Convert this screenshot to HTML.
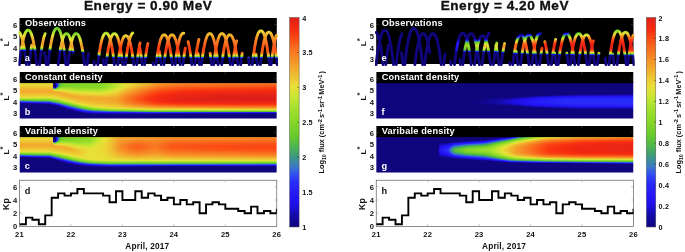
<!DOCTYPE html>
<html><head><meta charset="utf-8"><title>figure</title>
<style>html,body{margin:0;padding:0;background:#fff;}svg{display:block;}</style>
</head><body>
<svg width="685" height="252" viewBox="0 0 685 252"><defs><clipPath id="cpa0"><rect x="19.50" y="18.00" width="257.30" height="46.00"/></clipPath>
<clipPath id="cpb0"><rect x="19.50" y="72.00" width="257.30" height="46.40"/></clipPath>
<clipPath id="cpc0"><rect x="19.50" y="126.00" width="257.30" height="46.40"/></clipPath>
<clipPath id="cpd0"><rect x="19.50" y="180.20" width="257.30" height="46.20"/></clipPath>
<linearGradient id="g1"><stop offset="0" stop-color="#72ce2b"/><stop offset="0.0576" stop-color="#64c82d"/><stop offset="0.1537" stop-color="#4db64d"/><stop offset="0.1614" stop-color="#3f9d77"/><stop offset="0.1729" stop-color="#3b73cd"/><stop offset="0.1767" stop-color="#355be5"/><stop offset="0.1806" stop-color="#2f45f3"/><stop offset="0.2497" stop-color="#3048f2"/><stop offset="0.2536" stop-color="#324ef0"/><stop offset="0.2728" stop-color="#3c79c6"/><stop offset="0.2881" stop-color="#3c8b9c"/><stop offset="0.3035" stop-color="#3d9780"/><stop offset="0.3265" stop-color="#46aa61"/><stop offset="0.3842" stop-color="#55bc42"/><stop offset="0.4072" stop-color="#66c92d"/><stop offset="0.4226" stop-color="#71cd2b"/><stop offset="0.5186" stop-color="#93db2a"/><stop offset="0.6531" stop-color="#aee22e"/><stop offset="1" stop-color="#bee531"/></linearGradient>
<linearGradient id="g2"><stop offset="0" stop-color="#80d429"/><stop offset="0.1229" stop-color="#64c82d"/><stop offset="0.1537" stop-color="#5ec336"/><stop offset="0.1614" stop-color="#4ab253"/><stop offset="0.169" stop-color="#3e997c"/><stop offset="0.1806" stop-color="#3a71cf"/><stop offset="0.2497" stop-color="#3b72ce"/><stop offset="0.2804" stop-color="#3d9780"/><stop offset="0.3112" stop-color="#4ab352"/><stop offset="0.3265" stop-color="#54bb43"/><stop offset="0.3765" stop-color="#64c82d"/><stop offset="0.4456" stop-color="#87d728"/><stop offset="0.6531" stop-color="#bde430"/><stop offset="1" stop-color="#cbe632"/></linearGradient>
<linearGradient id="g3"><stop offset="0" stop-color="#8cd929"/><stop offset="0.1537" stop-color="#6dcc2c"/><stop offset="0.1575" stop-color="#64c82d"/><stop offset="0.169" stop-color="#49af58"/><stop offset="0.1767" stop-color="#3d987e"/><stop offset="0.1806" stop-color="#3c8d98"/><stop offset="0.2305" stop-color="#3c8c9a"/><stop offset="0.2497" stop-color="#3c8c99"/><stop offset="0.2612" stop-color="#3d987e"/><stop offset="0.2881" stop-color="#4cb44f"/><stop offset="0.3265" stop-color="#66c92d"/><stop offset="0.3842" stop-color="#76d02a"/><stop offset="0.4226" stop-color="#8dd929"/><stop offset="0.6531" stop-color="#cce533"/><stop offset="1" stop-color="#d6e434"/></linearGradient>
<linearGradient id="g4"><stop offset="0" stop-color="#97dc2b"/><stop offset="0.1537" stop-color="#7cd22a"/><stop offset="0.1652" stop-color="#62c72f"/><stop offset="0.1729" stop-color="#50b849"/><stop offset="0.1806" stop-color="#43a46a"/><stop offset="0.2497" stop-color="#42a36d"/><stop offset="0.2689" stop-color="#4cb54e"/><stop offset="0.2997" stop-color="#64c82d"/><stop offset="0.3265" stop-color="#76d02a"/><stop offset="0.3842" stop-color="#85d628"/><stop offset="0.5186" stop-color="#bbe430"/><stop offset="0.6531" stop-color="#dae335"/><stop offset="1" stop-color="#e2e236"/></linearGradient>
<linearGradient id="g5"><stop offset="0" stop-color="#a1e02c"/><stop offset="0.1537" stop-color="#8ad828"/><stop offset="0.1729" stop-color="#62c730"/><stop offset="0.1806" stop-color="#51b948"/><stop offset="0.2497" stop-color="#4fb74b"/><stop offset="0.2766" stop-color="#64c82d"/><stop offset="0.3265" stop-color="#86d728"/><stop offset="0.3842" stop-color="#92db2a"/><stop offset="0.5186" stop-color="#cce533"/><stop offset="0.6531" stop-color="#e8e137"/><stop offset="1" stop-color="#e9dc36"/></linearGradient>
<linearGradient id="g6"><stop offset="0" stop-color="#b0e32f"/><stop offset="0.1537" stop-color="#95dc2a"/><stop offset="0.1806" stop-color="#64c82e"/><stop offset="0.2497" stop-color="#61c531"/><stop offset="0.3035" stop-color="#86d628"/><stop offset="0.3265" stop-color="#93db2a"/><stop offset="0.3842" stop-color="#9fdf2c"/><stop offset="0.4226" stop-color="#b8e430"/><stop offset="0.5186" stop-color="#dbe335"/><stop offset="0.5839" stop-color="#e8e137"/><stop offset="0.6531" stop-color="#ead535"/><stop offset="1" stop-color="#ebd234"/></linearGradient>
<linearGradient id="g7"><stop offset="0" stop-color="#c2e531"/><stop offset="0.1345" stop-color="#a9e22e"/><stop offset="0.1537" stop-color="#a1e02c"/><stop offset="0.1806" stop-color="#74cf2b"/><stop offset="0.2305" stop-color="#70cd2b"/><stop offset="0.2497" stop-color="#71ce2b"/><stop offset="0.3265" stop-color="#a0df2c"/><stop offset="0.3842" stop-color="#b0e32f"/><stop offset="0.4149" stop-color="#c6e632"/><stop offset="0.5109" stop-color="#e8e137"/><stop offset="0.6531" stop-color="#edc933"/><stop offset="0.7683" stop-color="#eccd34"/><stop offset="1" stop-color="#edc833"/></linearGradient>
<linearGradient id="g8"><stop offset="0" stop-color="#d1e533"/><stop offset="0.1345" stop-color="#bde430"/><stop offset="0.1537" stop-color="#b0e32f"/><stop offset="0.1806" stop-color="#85d628"/><stop offset="0.2305" stop-color="#80d429"/><stop offset="0.2497" stop-color="#81d429"/><stop offset="0.2881" stop-color="#96dc2a"/><stop offset="0.3265" stop-color="#b3e32f"/><stop offset="0.3842" stop-color="#c5e632"/><stop offset="0.4226" stop-color="#dce335"/><stop offset="0.461" stop-color="#e8e137"/><stop offset="0.5186" stop-color="#ebd134"/><stop offset="0.6531" stop-color="#efbd31"/><stop offset="0.7683" stop-color="#eec232"/><stop offset="1" stop-color="#efbe31"/></linearGradient>
<linearGradient id="g9"><stop offset="0" stop-color="#dfe236"/><stop offset="0.1345" stop-color="#cfe533"/><stop offset="0.1537" stop-color="#c3e531"/><stop offset="0.1652" stop-color="#a9e22e"/><stop offset="0.1806" stop-color="#93db2a"/><stop offset="0.2305" stop-color="#8ed929"/><stop offset="0.2497" stop-color="#8fda29"/><stop offset="0.2881" stop-color="#a1e02c"/><stop offset="0.3265" stop-color="#c8e632"/><stop offset="0.3842" stop-color="#d8e335"/><stop offset="0.4149" stop-color="#e8e037"/><stop offset="0.5186" stop-color="#eec432"/><stop offset="0.6531" stop-color="#f1b22e"/><stop offset="0.7683" stop-color="#f0b830"/><stop offset="1" stop-color="#f0b42f"/></linearGradient>
<linearGradient id="g10"><stop offset="0" stop-color="#e9dc36"/><stop offset="0.1345" stop-color="#e0e236"/><stop offset="0.1537" stop-color="#d3e434"/><stop offset="0.1806" stop-color="#a0df2c"/><stop offset="0.2305" stop-color="#9add2b"/><stop offset="0.2497" stop-color="#9cde2b"/><stop offset="0.2728" stop-color="#a7e12d"/><stop offset="0.3265" stop-color="#dce335"/><stop offset="0.3765" stop-color="#e8e137"/><stop offset="0.4226" stop-color="#eccc34"/><stop offset="0.5186" stop-color="#f0b72f"/><stop offset="0.6531" stop-color="#f2a72c"/><stop offset="0.7683" stop-color="#f1af2e"/><stop offset="1" stop-color="#f2ab2d"/></linearGradient>
<linearGradient id="g11"><stop offset="0" stop-color="#ebd034"/><stop offset="0.1345" stop-color="#e9da36"/><stop offset="0.146" stop-color="#e7e137"/><stop offset="0.1537" stop-color="#e3e236"/><stop offset="0.1806" stop-color="#b1e32f"/><stop offset="0.2305" stop-color="#a7e12d"/><stop offset="0.2497" stop-color="#aae22e"/><stop offset="0.292" stop-color="#cae632"/><stop offset="0.3265" stop-color="#e9db36"/><stop offset="0.3842" stop-color="#ecce34"/><stop offset="0.4226" stop-color="#efbe31"/><stop offset="0.5186" stop-color="#f2aa2c"/><stop offset="0.6531" stop-color="#f49c29"/><stop offset="0.7683" stop-color="#f3a52b"/><stop offset="1" stop-color="#f3a22b"/></linearGradient>
<linearGradient id="g12"><stop offset="0" stop-color="#eec532"/><stop offset="0.1345" stop-color="#eccd34"/><stop offset="0.1537" stop-color="#ead936"/><stop offset="0.1614" stop-color="#e6e137"/><stop offset="0.1806" stop-color="#c6e632"/><stop offset="0.2305" stop-color="#bbe430"/><stop offset="0.2497" stop-color="#bfe531"/><stop offset="0.2881" stop-color="#d7e434"/><stop offset="0.3035" stop-color="#e8e137"/><stop offset="0.3265" stop-color="#eccb33"/><stop offset="0.3842" stop-color="#efbe31"/><stop offset="0.4226" stop-color="#f1af2e"/><stop offset="0.5186" stop-color="#f49e2a"/><stop offset="0.6531" stop-color="#f69127"/><stop offset="0.7683" stop-color="#f49c29"/><stop offset="1" stop-color="#f49a29"/></linearGradient>
<linearGradient id="g13"><stop offset="0" stop-color="#efbb30"/><stop offset="0.1345" stop-color="#eec031"/><stop offset="0.1537" stop-color="#eccc34"/><stop offset="0.1729" stop-color="#e4e236"/><stop offset="0.1806" stop-color="#d9e335"/><stop offset="0.2305" stop-color="#cee533"/><stop offset="0.2497" stop-color="#d2e434"/><stop offset="0.2881" stop-color="#e8e137"/><stop offset="0.3265" stop-color="#efba30"/><stop offset="0.4226" stop-color="#f3a12a"/><stop offset="0.5186" stop-color="#f59227"/><stop offset="0.6531" stop-color="#f78725"/><stop offset="0.7683" stop-color="#f59427"/><stop offset="1" stop-color="#f69127"/></linearGradient>
<linearGradient id="g14"><stop offset="0" stop-color="#f1b22e"/><stop offset="0.1345" stop-color="#f0b52f"/><stop offset="0.1537" stop-color="#eec131"/><stop offset="0.1806" stop-color="#e8e037"/><stop offset="0.2305" stop-color="#dfe236"/><stop offset="0.2497" stop-color="#e3e236"/><stop offset="0.2881" stop-color="#ebd335"/><stop offset="0.3265" stop-color="#f2ab2d"/><stop offset="0.4226" stop-color="#f59428"/><stop offset="0.5186" stop-color="#f78725"/><stop offset="0.6531" stop-color="#f87e23"/><stop offset="0.7683" stop-color="#f68b26"/><stop offset="1" stop-color="#f68925"/></linearGradient>
<linearGradient id="g15"><stop offset="0" stop-color="#f2aa2d"/><stop offset="0.1345" stop-color="#f2ac2d"/><stop offset="0.1537" stop-color="#f0b62f"/><stop offset="0.1806" stop-color="#ebd134"/><stop offset="0.2305" stop-color="#e9db36"/><stop offset="0.2881" stop-color="#eec532"/><stop offset="0.3265" stop-color="#f49c29"/><stop offset="0.4226" stop-color="#f78725"/><stop offset="0.6531" stop-color="#f97521"/><stop offset="0.7683" stop-color="#f78324"/><stop offset="1" stop-color="#f78223"/></linearGradient>
<linearGradient id="g16"><stop offset="0" stop-color="#f3a52b"/><stop offset="0.1345" stop-color="#f3a52b"/><stop offset="0.1575" stop-color="#f1b02e"/><stop offset="0.1806" stop-color="#eec332"/><stop offset="0.2305" stop-color="#ecce34"/><stop offset="0.2881" stop-color="#f0b72f"/><stop offset="0.3265" stop-color="#f68e26"/><stop offset="0.4226" stop-color="#f87b22"/><stop offset="0.6531" stop-color="#fa6c1f"/><stop offset="0.7683" stop-color="#f87c22"/><stop offset="1" stop-color="#f87a22"/></linearGradient>
<linearGradient id="g17"><stop offset="0" stop-color="#f3a32b"/><stop offset="0.1421" stop-color="#f3a32b"/><stop offset="0.1806" stop-color="#f0b72f"/><stop offset="0.2305" stop-color="#eec132"/><stop offset="0.2881" stop-color="#f2ab2d"/><stop offset="0.3265" stop-color="#f78123"/><stop offset="0.4226" stop-color="#f97020"/><stop offset="0.6531" stop-color="#fa631c"/><stop offset="0.7683" stop-color="#f97521"/><stop offset="1" stop-color="#f97420"/></linearGradient>
<linearGradient id="g18"><stop offset="0" stop-color="#f3a42b"/><stop offset="0.1575" stop-color="#f3a32b"/><stop offset="0.2305" stop-color="#f0b62f"/><stop offset="0.2881" stop-color="#f3a02a"/><stop offset="0.3265" stop-color="#f97521"/><stop offset="0.4226" stop-color="#fa651c"/><stop offset="0.5186" stop-color="#fa5e1a"/><stop offset="0.6531" stop-color="#fa5a18"/><stop offset="0.7683" stop-color="#f96e1f"/><stop offset="1" stop-color="#fa6d1f"/></linearGradient>
<linearGradient id="g19"><stop offset="0" stop-color="#f2a62c"/><stop offset="0.1729" stop-color="#f3a32b"/><stop offset="0.2305" stop-color="#f2ac2d"/><stop offset="0.2881" stop-color="#f59628"/><stop offset="0.3265" stop-color="#fa6a1e"/><stop offset="0.4226" stop-color="#fa5918"/><stop offset="0.6531" stop-color="#fa5215"/><stop offset="0.7683" stop-color="#fa681e"/><stop offset="1" stop-color="#fa671d"/></linearGradient>
<linearGradient id="g20"><stop offset="0" stop-color="#f1af2e"/><stop offset="0.1345" stop-color="#f1af2e"/><stop offset="0.169" stop-color="#f3a42b"/><stop offset="0.2305" stop-color="#f3a52b"/><stop offset="0.2881" stop-color="#f68d26"/><stop offset="0.3265" stop-color="#fa5e1a"/><stop offset="0.4226" stop-color="#fa4f14"/><stop offset="0.6531" stop-color="#fa4a13"/><stop offset="0.7683" stop-color="#fa621b"/><stop offset="1" stop-color="#fa611b"/></linearGradient>
<linearGradient id="g21"><stop offset="0" stop-color="#eec432"/><stop offset="0.1345" stop-color="#eec432"/><stop offset="0.1729" stop-color="#f2a72c"/><stop offset="0.2305" stop-color="#f3a32b"/><stop offset="0.2881" stop-color="#f78725"/><stop offset="0.3265" stop-color="#fa5416"/><stop offset="0.4226" stop-color="#f94613"/><stop offset="0.6531" stop-color="#f94413"/><stop offset="0.7683" stop-color="#fa5c19"/><stop offset="1" stop-color="#fa5c19"/></linearGradient>
<linearGradient id="g22"><stop offset="0" stop-color="#dce335"/><stop offset="0.1345" stop-color="#dce335"/><stop offset="0.1383" stop-color="#e2e236"/><stop offset="0.1421" stop-color="#e8e037"/><stop offset="0.1806" stop-color="#f1af2d"/><stop offset="0.2305" stop-color="#f3a52b"/><stop offset="0.2881" stop-color="#f78424"/><stop offset="0.3265" stop-color="#fa4d14"/><stop offset="0.4226" stop-color="#f94012"/><stop offset="0.6531" stop-color="#f93f12"/><stop offset="0.7683" stop-color="#fa5817"/><stop offset="1" stop-color="#fa5817"/></linearGradient>
<linearGradient id="g23"><stop offset="0" stop-color="#97dc2b"/><stop offset="0.1345" stop-color="#97dc2b"/><stop offset="0.146" stop-color="#abe22e"/><stop offset="0.1575" stop-color="#c9e632"/><stop offset="0.169" stop-color="#e3e236"/><stop offset="0.1844" stop-color="#eccc34"/><stop offset="0.2881" stop-color="#f78424"/><stop offset="0.3265" stop-color="#fa4a13"/><stop offset="0.4226" stop-color="#f93e12"/><stop offset="0.6531" stop-color="#f93e12"/><stop offset="0.7683" stop-color="#fa5717"/><stop offset="1" stop-color="#fa5717"/></linearGradient>
<linearGradient id="g24"><stop offset="0" stop-color="#45a865"/><stop offset="0.1345" stop-color="#45a865"/><stop offset="0.1498" stop-color="#64c82d"/><stop offset="0.1652" stop-color="#87d728"/><stop offset="0.1806" stop-color="#a6e12d"/><stop offset="0.1998" stop-color="#cbe632"/><stop offset="0.219" stop-color="#e8e037"/><stop offset="0.2766" stop-color="#f59528"/><stop offset="0.2881" stop-color="#f68925"/><stop offset="0.3265" stop-color="#fa4b13"/><stop offset="0.4226" stop-color="#f93e12"/><stop offset="0.6531" stop-color="#f93e12"/><stop offset="0.7683" stop-color="#fa5717"/><stop offset="1" stop-color="#fa5717"/></linearGradient>
<linearGradient id="g25"><stop offset="0" stop-color="#1d0edf"/><stop offset="0.1345" stop-color="#1d0edf"/><stop offset="0.1421" stop-color="#2213f1"/><stop offset="0.1575" stop-color="#282bfa"/><stop offset="0.1652" stop-color="#314df1"/><stop offset="0.1729" stop-color="#3c7cbf"/><stop offset="0.1806" stop-color="#3d987e"/><stop offset="0.1921" stop-color="#4cb54e"/><stop offset="0.1998" stop-color="#62c72f"/><stop offset="0.2151" stop-color="#87d728"/><stop offset="0.2305" stop-color="#a0df2c"/><stop offset="0.2459" stop-color="#cae632"/><stop offset="0.2612" stop-color="#e9dc36"/><stop offset="0.2689" stop-color="#ecce34"/><stop offset="0.2766" stop-color="#f1b32e"/><stop offset="0.2843" stop-color="#f3a02a"/><stop offset="0.3265" stop-color="#fa4e14"/><stop offset="0.4226" stop-color="#f94012"/><stop offset="0.6531" stop-color="#f94012"/><stop offset="0.7683" stop-color="#fa5918"/><stop offset="1" stop-color="#fa5918"/></linearGradient>
<linearGradient id="g26"><stop offset="0" stop-color="#0f057d"/><stop offset="0.1921" stop-color="#0f057d"/><stop offset="0.1998" stop-color="#170bbb"/><stop offset="0.2036" stop-color="#1e0fe5"/><stop offset="0.2075" stop-color="#2213f3"/><stop offset="0.2151" stop-color="#2727f9"/><stop offset="0.219" stop-color="#2b39f7"/><stop offset="0.2228" stop-color="#3353ed"/><stop offset="0.2267" stop-color="#3b73cd"/><stop offset="0.2343" stop-color="#3c9682"/><stop offset="0.242" stop-color="#4cb54e"/><stop offset="0.2497" stop-color="#65c82d"/><stop offset="0.2689" stop-color="#96dc2a"/><stop offset="0.2766" stop-color="#cfe533"/><stop offset="0.2804" stop-color="#e6e137"/><stop offset="0.2843" stop-color="#ebd034"/><stop offset="0.3035" stop-color="#f68d26"/><stop offset="0.3265" stop-color="#fa5717"/><stop offset="0.4226" stop-color="#fa4713"/><stop offset="0.6531" stop-color="#fa4713"/><stop offset="0.7683" stop-color="#fa601a"/><stop offset="1" stop-color="#fa601a"/></linearGradient>
<linearGradient id="g27"><stop offset="0" stop-color="#0f057d"/><stop offset="0.242" stop-color="#0f057d"/><stop offset="0.2459" stop-color="#110791"/><stop offset="0.2497" stop-color="#150aaf"/><stop offset="0.2536" stop-color="#1c0edc"/><stop offset="0.2574" stop-color="#2112f0"/><stop offset="0.2651" stop-color="#2727f9"/><stop offset="0.2689" stop-color="#2c3af6"/><stop offset="0.2728" stop-color="#3c9585"/><stop offset="0.2766" stop-color="#5dc237"/><stop offset="0.2804" stop-color="#7fd429"/><stop offset="0.292" stop-color="#d1e533"/><stop offset="0.2958" stop-color="#e8df37"/><stop offset="0.3035" stop-color="#f0b830"/><stop offset="0.3112" stop-color="#f49929"/><stop offset="0.3265" stop-color="#fa6c1f"/><stop offset="0.4226" stop-color="#fa5717"/><stop offset="0.6531" stop-color="#fa5717"/><stop offset="0.7683" stop-color="#f96e1f"/><stop offset="1" stop-color="#f96e1f"/></linearGradient>
<linearGradient id="g28"><stop offset="0" stop-color="#0f057d"/><stop offset="0.2728" stop-color="#0f057d"/><stop offset="0.2766" stop-color="#1309a2"/><stop offset="0.2804" stop-color="#251ff7"/><stop offset="0.2843" stop-color="#396dd3"/><stop offset="0.2881" stop-color="#45a963"/><stop offset="0.292" stop-color="#69ca2c"/><stop offset="0.2958" stop-color="#88d728"/><stop offset="0.3035" stop-color="#bee531"/><stop offset="0.3073" stop-color="#dce335"/><stop offset="0.3112" stop-color="#ead535"/><stop offset="0.3265" stop-color="#f68f26"/><stop offset="0.4226" stop-color="#f97420"/><stop offset="0.6531" stop-color="#f97420"/><stop offset="0.7683" stop-color="#f78725"/><stop offset="1" stop-color="#f78725"/></linearGradient>
<linearGradient id="g29"><stop offset="0" stop-color="#0f057d"/><stop offset="0.2881" stop-color="#0f057d"/><stop offset="0.292" stop-color="#2112ee"/><stop offset="0.2958" stop-color="#2c3bf6"/><stop offset="0.2997" stop-color="#3c8e95"/><stop offset="0.3035" stop-color="#54bb43"/><stop offset="0.3073" stop-color="#77d02a"/><stop offset="0.315" stop-color="#aae22e"/><stop offset="0.3189" stop-color="#cbe533"/><stop offset="0.3227" stop-color="#e7e137"/><stop offset="0.3265" stop-color="#eccb33"/><stop offset="0.4226" stop-color="#f3a02a"/><stop offset="0.6531" stop-color="#f3a02a"/><stop offset="0.7683" stop-color="#f1b22e"/><stop offset="1" stop-color="#f1b22e"/></linearGradient>
<linearGradient id="g30"><stop offset="0" stop-color="#0f057d"/><stop offset="0.2997" stop-color="#0f057d"/><stop offset="0.3035" stop-color="#190cc7"/><stop offset="0.3073" stop-color="#2623f8"/><stop offset="0.3112" stop-color="#3a70d0"/><stop offset="0.315" stop-color="#44a766"/><stop offset="0.3189" stop-color="#65c92d"/><stop offset="0.3227" stop-color="#84d628"/><stop offset="0.3265" stop-color="#9cde2b"/><stop offset="0.3842" stop-color="#c7e632"/><stop offset="0.4226" stop-color="#e2e236"/><stop offset="0.6531" stop-color="#e2e236"/><stop offset="0.7683" stop-color="#d2e434"/><stop offset="1" stop-color="#d2e434"/></linearGradient>
<linearGradient id="g31"><stop offset="0" stop-color="#0f057d"/><stop offset="0.3112" stop-color="#0f057d"/><stop offset="0.315" stop-color="#12089c"/><stop offset="0.3189" stop-color="#2315f5"/><stop offset="0.3227" stop-color="#2f44f3"/><stop offset="0.3265" stop-color="#3c8f92"/><stop offset="0.3342" stop-color="#3e997d"/><stop offset="0.3573" stop-color="#4cb54f"/><stop offset="0.3842" stop-color="#65c82d"/><stop offset="0.4226" stop-color="#82d529"/><stop offset="1" stop-color="#7ad12a"/></linearGradient>
<linearGradient id="g32"><stop offset="0" stop-color="#0f057d"/><stop offset="0.3265" stop-color="#0f057d"/><stop offset="0.3458" stop-color="#140aab"/><stop offset="0.3611" stop-color="#1d0fe2"/><stop offset="0.365" stop-color="#1f10e9"/><stop offset="0.3765" stop-color="#2314f5"/><stop offset="0.4034" stop-color="#282bfa"/><stop offset="0.4226" stop-color="#3250f0"/><stop offset="1" stop-color="#3048f2"/></linearGradient>
<mask id="mk0" maskUnits="userSpaceOnUse" x="16.5" y="18.0" width="263.3" height="49.0"><g fill="none" stroke="#fff" stroke-width="2.9" stroke-linecap="round" stroke-linejoin="round"><path d="M19.5 32.4L19.9 32.9L20.3 33.6L20.7 34.4L21.1 35.3L21.5 36.5L21.9 37.8L22.3 39.2L22.7 40.9L23.1 42.7L23.6 44.8L24.0 47.0L24.4 49.4L24.8 52.0L25.2 54.9L25.6 57.9L26.0 61.1L26.4 64.6"/><path d="M19.4 64.6L19.8 61.1L20.2 57.7L20.6 54.6L21.0 51.7L21.4 49.0L21.8 46.5L22.3 44.2L22.7 42.1L23.1 40.2L23.5 38.4L23.9 36.9L24.3 35.5L24.7 34.3L25.1 33.3L25.5 32.4L25.9 31.7L26.3 31.1L26.7 30.7L27.1 30.4L27.5 30.2L27.9 30.1L28.3 30.1L28.7 30.2L29.1 30.4L29.5 30.7L29.9 31.1L30.3 31.7L30.7 32.4L31.1 33.3L31.5 34.3L31.9 35.5L32.3 36.9L32.7 38.4L33.1 40.2L33.5 42.1L33.9 44.2L34.4 46.5L34.8 49.0L35.2 51.7L35.6 54.6L36.0 57.7L36.4 61.1L36.8 64.6"/><path d="M29.1 64.6L29.5 60.7L30.0 57.1L30.4 53.7L30.9 50.6L31.3 47.7L31.8 45.1"/><path d="M44.8 52.6L45.3 56.3L45.8 60.3L46.3 64.6"/><path d="M39.6 64.6L40.0 60.9L40.4 57.4L40.8 54.2L41.3 51.2L41.7 48.4L42.1 45.8L42.5 43.5L43.0 41.3L43.4 39.4L43.8 37.7L44.2 36.2L44.7 34.9L45.1 33.7"/><path d="M48.1 64.6L48.5 61.0L48.9 57.5L49.3 54.3L49.7 51.3L50.1 48.5L50.5 45.9L51.0 43.5L51.4 41.3L51.8 39.3L52.2 37.5L52.6 35.8L53.0 34.4L53.4 33.1L53.8 32.0L54.2 31.0L54.6 30.2L55.0 29.6L55.4 29.1L55.8 28.7L56.2 28.5L56.6 28.3L57.0 28.3L57.4 28.3L57.8 28.5L58.2 28.7L58.6 29.1L59.0 29.6L59.4 30.2L59.8 31.0L60.2 32.0L60.6 33.1L61.0 34.4L61.4 35.8L61.8 37.5L62.2 39.3L62.6 41.3L63.0 43.5L63.5 45.9L63.9 48.5L64.3 51.3L64.7 54.3L65.1 57.5L65.5 61.0L65.9 64.6"/><path d="M58.2 64.6L58.6 61.3L59.0 58.2L59.4 55.2L59.8 52.5L60.2 50.0L60.6 47.7L61.1 45.6L61.5 43.7L61.9 42.0L62.3 40.4L62.7 39.0L63.1 37.8L63.5 36.8L63.9 35.9L64.3 35.2L64.7 34.6L65.1 34.2L65.5 33.9L65.9 33.7L66.3 33.6L66.7 33.6L67.1 33.7L67.5 33.9L67.9 34.2L68.3 34.6L68.7 35.2L69.1 35.9L69.5 36.8L69.9 37.8L70.3 39.0L70.7 40.4L71.1 41.9L71.5 43.7L71.9 45.6L72.3 47.7L72.7 50.0L73.2 52.5"/><path d="M67.9 64.6L68.3 61.3L68.7 58.2L69.1 55.2L69.5 52.5L69.9 50.0L70.3 47.7L70.8 45.6L71.2 43.7L71.6 41.9L72.0 40.4L72.4 39.0L72.8 37.8L73.2 36.8L73.6 35.9L74.0 35.2L74.4 34.6L74.8 34.2L75.2 33.9L75.6 33.7L76.0 33.6L76.4 33.6L76.8 33.7L77.2 33.9L77.6 34.2L78.0 34.6L78.4 35.2L78.8 35.9L79.2 36.8L79.6 37.8L80.0 39.0L80.4 40.4L80.8 41.9L81.2 43.7L81.6 45.6L82.1 47.7L82.5 50.0L82.9 52.5L83.3 55.2L83.7 58.2L84.1 61.3L84.5 64.6"/><path d="M93.9 61.1L94.3 64.6"/><path d="M87.1 64.6L87.5 60.8L88.0 57.2L88.4 53.9"/><path d="M103.1 59.1L103.7 64.6"/><path d="M97.8 64.6L98.2 61.2L98.6 58.1L99.0 55.1L99.4 52.3L99.8 49.8L100.2 47.5L100.6 45.3L101.0 43.3L101.4 41.6L101.8 40.0L102.2 38.6L102.6 37.4L103.1 36.3L103.5 35.4L103.9 34.7L104.3 34.1L104.7 33.7L105.1 33.4L105.5 33.2L105.9 33.1L106.3 33.1L106.7 33.2L107.1 33.4L107.5 33.7L107.9 34.1L108.3 34.7L108.7 35.4L109.1 36.3L109.6 37.4L110.0 38.6L110.4 40.0L110.8 41.6L111.2 43.3L111.6 45.3L112.0 47.5L112.4 49.8L112.8 52.3L113.2 55.1L113.6 58.1L114.0 61.2L114.4 64.6"/><path d="M106.1 64.6L106.5 61.3L106.9 58.2L107.3 55.2L107.7 52.5L108.1 50.0L108.5 47.7L109.0 45.6L109.4 43.7L109.8 41.9L110.2 40.4L110.6 39.0L111.0 37.8L111.4 36.8L111.8 35.9L112.2 35.2L112.6 34.6L113.0 34.2L113.4 33.9L113.8 33.7L114.2 33.6L114.6 33.6L115.0 33.7L115.4 33.9L115.8 34.2L116.2 34.6L116.6 35.2L117.0 35.9L117.4 36.8L117.8 37.8L118.2 39.0L118.6 40.4L119.0 41.9L119.4 43.7L119.8 45.6L120.3 47.7L120.7 50.0L121.1 52.5L121.5 55.2L121.9 58.2L122.3 61.3L122.7 64.6"/><path d="M117.8 64.6L118.2 61.4L118.6 58.5L119.0 55.7L119.4 53.2L119.8 50.8L120.2 48.6L120.6 46.6L121.0 44.8L121.4 43.2L121.8 41.8L122.2 40.5L122.6 39.4L123.0 38.5L123.4 37.7L123.8 37.0L124.2 36.5L124.6 36.2L125.0 36.0L125.4 35.8L125.8 35.8L126.2 35.8L126.6 36.0L127.0 36.2L127.4 36.5L127.8 37.0L128.2 37.7L128.6 38.5L129.0 39.4L129.4 40.5L129.8 41.8L130.2 43.2L130.6 44.8L131.0 46.6L131.4 48.6L131.8 50.8L132.2 53.2L132.6 55.7L133.0 58.5L133.4 61.4L133.8 64.6"/><path d="M125.4 64.6L125.8 61.2L126.2 58.0L126.6 55.1L127.0 52.3L127.4 49.7L127.8 47.4L128.3 45.2L128.7 43.2L129.1 41.5L129.5 39.8L129.9 38.4L130.3 37.2L130.7 36.1L131.1 35.2L131.5 34.4L131.9 33.8L132.3 33.3L132.7 33.0"/><path d="M139.3 45.1L139.7 47.3L140.1 49.6L140.5 52.2L141.0 55.0L141.4 58.0L141.8 61.2L142.2 64.6"/><path d="M136.7 64.6L137.1 61.1L137.6 57.9L138.0 54.9L138.4 52.1L138.8 49.6L139.2 47.2L139.6 45.0L140.1 43.1"/><path d="M153.0 62.6L153.3 64.6"/><path d="M144.6 64.6L145.0 61.3L145.4 58.1L145.8 55.2L146.2 52.5L146.6 50.0L147.0 47.7L147.4 45.5L147.9 43.6"/><path d="M159.3 51.1L159.8 54.1L160.3 57.3L160.7 60.8L161.2 64.6"/><path d="M156.1 64.6L156.5 61.3L156.9 58.3L157.3 55.4L157.7 52.8L158.1 50.4L158.5 48.1L158.9 46.1L159.3 44.2L159.7 42.5L160.1 41.1L160.5 39.7L161.0 38.6L161.4 37.6L161.8 36.8L162.2 36.2L162.6 35.7L163.0 35.3L163.4 35.1L163.8 34.9L164.2 34.9L164.6 34.9L165.0 35.1L165.4 35.3L165.8 35.7L166.2 36.2L166.6 36.8L167.0 37.6L167.4 38.6L167.9 39.7L168.3 41.1L168.7 42.5L169.1 44.2L169.5 46.1L169.9 48.1L170.3 50.4L170.7 52.8L171.1 55.4L171.5 58.3L171.9 61.3L172.3 64.6"/><path d="M163.9 64.6L164.3 61.3L164.7 58.3L165.1 55.4L165.5 52.8L165.9 50.4L166.3 48.1L166.7 46.1L167.1 44.2L167.5 42.5L167.9 41.1L168.3 39.7L168.8 38.6L169.2 37.6L169.6 36.8L170.0 36.2L170.4 35.7L170.8 35.3L171.2 35.1L171.6 34.9L172.0 34.9L172.4 34.9L172.8 35.1L173.2 35.3L173.6 35.7L174.0 36.2L174.4 36.8L174.8 37.6L175.2 38.6L175.7 39.7L176.1 41.1L176.5 42.5L176.9 44.2L177.3 46.1L177.7 48.1L178.1 50.4L178.5 52.8L178.9 55.4L179.3 58.3L179.7 61.3L180.1 64.6"/><path d="M175.2 64.6L175.6 61.2L176.0 58.0L176.4 55.1L176.8 52.3L177.2 49.8L177.7 47.4L178.1 45.3L178.5 43.3L178.9 41.6L179.3 40.0L179.7 38.6L180.1 37.4L180.5 36.4L180.9 35.5L181.3 34.8L181.8 34.2L182.2 33.8L182.6 33.5L183.0 33.4L183.4 33.3L183.8 33.3"/><path d="M188.1 41.6L188.5 43.4L188.9 45.3L189.4 47.4L189.8 49.8L190.2 52.3L190.6 55.1L191.0 58.0L191.4 61.2L191.8 64.6"/><path d="M182.9 64.6L183.4 60.7L183.9 57.2L184.3 53.9L184.8 50.9L185.3 48.1"/><path d="M198.0 53.1L198.5 56.6L199.0 60.4L199.5 64.6"/><path d="M194.8 64.6L195.2 61.2L195.6 57.9L196.0 54.9L196.4 52.1L196.8 49.5L197.3 47.1L197.7 44.9L198.1 42.9L198.5 41.1L198.9 39.5"/><path d="M210.1 53.1L210.6 56.6L211.1 60.4L211.6 64.6"/><path d="M201.5 64.6L201.9 61.3L202.3 58.2L202.7 55.2L203.1 52.5L203.5 50.0L203.9 47.7L204.4 45.6L204.8 43.7L205.2 41.9L205.6 40.4L206.0 39.0L206.4 37.8L206.8 36.8L207.2 35.9L207.6 35.2L208.0 34.6L208.4 34.2L208.8 33.9L209.2 33.7L209.6 33.6L210.0 33.6L210.4 33.7L210.8 33.9L211.2 34.2L211.6 34.6L212.0 35.2L212.4 35.9L212.8 36.8L213.2 37.8L213.6 39.0L214.0 40.4L214.4 41.9L214.8 43.7L215.2 45.6L215.7 47.7L216.1 50.0L216.5 52.5L216.9 55.2L217.3 58.2L217.7 61.3L218.1 64.6"/><path d="M213.7 64.6L214.1 61.3L214.5 58.2L214.9 55.2L215.3 52.5L215.7 50.0L216.1 47.7L216.6 45.6L217.0 43.7L217.4 41.9L217.8 40.4L218.2 39.0L218.6 37.8L219.0 36.8L219.4 35.9L219.8 35.2L220.2 34.6L220.6 34.2L221.0 33.9L221.4 33.7L221.8 33.6L222.2 33.6L222.6 33.7L223.0 33.9L223.4 34.2L223.8 34.6L224.2 35.2L224.6 35.9L225.0 36.8L225.4 37.8L225.8 39.0L226.2 40.4L226.6 41.9L227.0 43.7L227.4 45.6L227.9 47.7L228.3 50.0L228.7 52.5L229.1 55.2L229.5 58.2L229.9 61.3L230.3 64.6"/><path d="M221.7 64.6L222.1 61.3L222.5 58.3L222.9 55.4L223.3 52.8L223.7 50.4L224.1 48.1L224.5 46.1L224.9 44.2L225.3 42.5L225.7 41.1L226.1 39.7L226.6 38.6L227.0 37.6L227.4 36.8L227.8 36.2L228.2 35.7L228.6 35.3L229.0 35.1L229.4 34.9L229.8 34.9L230.2 34.9L230.6 35.1L231.0 35.3L231.4 35.7L231.8 36.2L232.2 36.8L232.6 37.6L233.0 38.6L233.5 39.7L233.9 41.1L234.3 42.5L234.7 44.2L235.1 46.1L235.5 48.1L235.9 50.4L236.3 52.8L236.7 55.4L237.1 58.3L237.5 61.3L237.9 64.6"/><path d="M232.7 64.6L233.1 61.0L233.6 57.7L234.0 54.6L234.4 51.8L234.9 49.2L235.3 46.8L235.7 44.6L236.2 42.6L236.6 40.9"/><path d="M248.5 58.1L248.9 61.2L249.3 64.6"/><path d="M240.7 64.6L241.2 60.4L241.7 56.6L242.2 53.1"/><path d="M255.9 54.1L256.4 57.3L256.8 60.8L257.3 64.6"/><path d="M252.3 64.6L252.7 61.1L253.1 57.8L253.5 54.6L254.0 51.8L254.4 49.1L254.8 46.6L255.2 44.3L255.6 42.2L256.0 40.4L256.4 38.7L256.8 37.2L257.2 35.8L257.6 34.7L258.0 33.7L258.4 32.9L258.9 32.2L259.3 31.7L259.7 31.3L260.1 31.1L260.5 30.9L260.9 30.9L261.3 30.9L261.7 31.1L262.1 31.3L262.5 31.7L262.9 32.2L263.4 32.9L263.8 33.7L264.2 34.7L264.6 35.8L265.0 37.2L265.4 38.7L265.8 40.4L266.2 42.2L266.6 44.3L267.0 46.6L267.4 49.1L267.8 51.8L268.3 54.6L268.7 57.8L269.1 61.1L269.5 64.6"/><path d="M260.4 64.6L260.8 61.2L261.2 58.0L261.6 55.1L262.0 52.3L262.4 49.7L262.8 47.3L263.2 45.2L263.6 43.2L264.0 41.4L264.4 39.7L264.8 38.3L265.2 37.0L265.6 35.9L266.0 35.0L266.4 34.2L266.8 33.5L267.2 33.0L267.6 32.7L268.0 32.5L268.4 32.3L268.8 32.3L269.2 32.3L269.6 32.5L270.0 32.7L270.4 33.0L270.8 33.5L271.2 34.2L271.6 35.0L272.0 35.9L272.4 37.0L272.8 38.3L273.2 39.7L273.6 41.4L274.0 43.2L274.4 45.2L274.8 47.3L275.2 49.7L275.6 52.3L276.0 55.1L276.4 58.0L276.8 61.2L277.2 64.6"/><path d="M271.1 64.6L271.5 61.2L272.0 57.9L272.4 54.9L272.8 52.1L273.2 49.5L273.6 47.1L274.0 44.9L274.4 42.9L274.8 41.1L275.2 39.4L275.6 38.0L276.0 36.7L276.4 35.6"/></g></mask>
<clipPath id="cpo0"><rect x="18.30" y="18.00" width="259.70" height="47.90"/></clipPath>
<linearGradient id="g42"><stop offset="0" stop-color="#ead835"/><stop offset="0.1283" stop-color="#ead835"/><stop offset="0.1302" stop-color="#251ef7"/><stop offset="0.1321" stop-color="#0f057d"/><stop offset="0.1399" stop-color="#0f057d"/><stop offset="0.1419" stop-color="#140aa7"/><stop offset="0.1438" stop-color="#1e0fe7"/><stop offset="0.1457" stop-color="#241af6"/><stop offset="0.1477" stop-color="#282cfa"/><stop offset="0.1496" stop-color="#3660e0"/><stop offset="0.1516" stop-color="#3c81b4"/><stop offset="0.1535" stop-color="#3c9683"/><stop offset="0.1555" stop-color="#46aa60"/><stop offset="0.1574" stop-color="#54bc43"/><stop offset="0.1593" stop-color="#66c92d"/><stop offset="0.1749" stop-color="#7ed329"/><stop offset="0.3109" stop-color="#86d728"/><stop offset="0.3537" stop-color="#a5e12d"/><stop offset="0.3809" stop-color="#c8e632"/><stop offset="0.41" stop-color="#e8e137"/><stop offset="0.4664" stop-color="#eec332"/><stop offset="0.5441" stop-color="#f3a32b"/><stop offset="0.6218" stop-color="#f68e26"/><stop offset="1" stop-color="#f87922"/></linearGradient>
<linearGradient id="g43"><stop offset="0" stop-color="#ead835"/><stop offset="0.1283" stop-color="#ead835"/><stop offset="0.1302" stop-color="#251ef7"/><stop offset="0.1321" stop-color="#0f057d"/><stop offset="0.1399" stop-color="#0f057d"/><stop offset="0.1419" stop-color="#140aa7"/><stop offset="0.1438" stop-color="#1e0fe7"/><stop offset="0.1457" stop-color="#241af6"/><stop offset="0.1477" stop-color="#282cfa"/><stop offset="0.1496" stop-color="#3660e0"/><stop offset="0.1516" stop-color="#3c81b4"/><stop offset="0.1535" stop-color="#3c9683"/><stop offset="0.1555" stop-color="#46aa60"/><stop offset="0.1574" stop-color="#54bc43"/><stop offset="0.1593" stop-color="#66c92d"/><stop offset="0.1749" stop-color="#7ed329"/><stop offset="0.3109" stop-color="#86d728"/><stop offset="0.3537" stop-color="#a5e12d"/><stop offset="0.3809" stop-color="#c8e632"/><stop offset="0.41" stop-color="#e8e137"/><stop offset="0.4664" stop-color="#eec332"/><stop offset="0.5286" stop-color="#f2a92c"/><stop offset="0.5441" stop-color="#f49e2a"/><stop offset="0.6218" stop-color="#f68925"/><stop offset="1" stop-color="#f97521"/></linearGradient>
<linearGradient id="g44"><stop offset="0" stop-color="#ead835"/><stop offset="0.1283" stop-color="#ead835"/><stop offset="0.1302" stop-color="#251ef7"/><stop offset="0.1321" stop-color="#0f057d"/><stop offset="0.1399" stop-color="#0f057d"/><stop offset="0.1419" stop-color="#140aa7"/><stop offset="0.1438" stop-color="#1e0fe7"/><stop offset="0.1457" stop-color="#241af6"/><stop offset="0.1477" stop-color="#282cfa"/><stop offset="0.1496" stop-color="#3660e0"/><stop offset="0.1516" stop-color="#3c81b4"/><stop offset="0.1535" stop-color="#3c9683"/><stop offset="0.1555" stop-color="#46aa60"/><stop offset="0.1574" stop-color="#54bc43"/><stop offset="0.1593" stop-color="#66c92d"/><stop offset="0.1749" stop-color="#7ed329"/><stop offset="0.3109" stop-color="#86d728"/><stop offset="0.3537" stop-color="#a5e12d"/><stop offset="0.3809" stop-color="#c8e632"/><stop offset="0.41" stop-color="#e8e137"/><stop offset="0.4916" stop-color="#f0b830"/><stop offset="0.5441" stop-color="#f59227"/><stop offset="0.6218" stop-color="#f87e23"/><stop offset="1" stop-color="#fa6a1e"/></linearGradient>
<linearGradient id="g45"><stop offset="0" stop-color="#ead635"/><stop offset="0.1283" stop-color="#ead635"/><stop offset="0.1302" stop-color="#251ef7"/><stop offset="0.1321" stop-color="#0f057d"/><stop offset="0.1399" stop-color="#0f057d"/><stop offset="0.1419" stop-color="#140aa7"/><stop offset="0.1438" stop-color="#1e0fe7"/><stop offset="0.1457" stop-color="#241af6"/><stop offset="0.1477" stop-color="#282cfa"/><stop offset="0.1496" stop-color="#3660e0"/><stop offset="0.1516" stop-color="#3c81b4"/><stop offset="0.1535" stop-color="#3c9683"/><stop offset="0.1555" stop-color="#46aa60"/><stop offset="0.1574" stop-color="#54bc43"/><stop offset="0.1593" stop-color="#66c92d"/><stop offset="0.1749" stop-color="#7ed329"/><stop offset="0.3109" stop-color="#86d728"/><stop offset="0.3537" stop-color="#a5e12d"/><stop offset="0.3809" stop-color="#c8e632"/><stop offset="0.41" stop-color="#e8e137"/><stop offset="0.4567" stop-color="#edc833"/><stop offset="0.5441" stop-color="#f78725"/><stop offset="0.6218" stop-color="#f97320"/><stop offset="1" stop-color="#fa5e1a"/></linearGradient>
<linearGradient id="g46"><stop offset="0" stop-color="#eccc34"/><stop offset="0.1283" stop-color="#eccc34"/><stop offset="0.1302" stop-color="#292ff9"/><stop offset="0.1321" stop-color="#0f057d"/><stop offset="0.1399" stop-color="#0f057d"/><stop offset="0.1419" stop-color="#140aa7"/><stop offset="0.1438" stop-color="#1f10e9"/><stop offset="0.1457" stop-color="#2622f8"/><stop offset="0.1477" stop-color="#314cf1"/><stop offset="0.1496" stop-color="#3c87a6"/><stop offset="0.1516" stop-color="#419f72"/><stop offset="0.1535" stop-color="#4db64d"/><stop offset="0.1555" stop-color="#5cc238"/><stop offset="0.1574" stop-color="#69ca2c"/><stop offset="0.1593" stop-color="#77d02a"/><stop offset="0.1749" stop-color="#85d628"/><stop offset="0.1963" stop-color="#80d429"/><stop offset="0.3109" stop-color="#86d728"/><stop offset="0.3537" stop-color="#a5e12d"/><stop offset="0.3828" stop-color="#cae632"/><stop offset="0.41" stop-color="#e8e137"/><stop offset="0.4489" stop-color="#eec332"/><stop offset="0.5441" stop-color="#f87c22"/><stop offset="0.6218" stop-color="#fa681e"/><stop offset="1" stop-color="#fa5215"/></linearGradient>
<linearGradient id="g47"><stop offset="0" stop-color="#eec332"/><stop offset="0.1283" stop-color="#eec332"/><stop offset="0.1302" stop-color="#4cb54f"/><stop offset="0.1321" stop-color="#160bb6"/><stop offset="0.1399" stop-color="#140aab"/><stop offset="0.1419" stop-color="#2417f6"/><stop offset="0.1438" stop-color="#2e41f4"/><stop offset="0.1457" stop-color="#3c88a2"/><stop offset="0.1477" stop-color="#4ab352"/><stop offset="0.1496" stop-color="#62c630"/><stop offset="0.1593" stop-color="#8fda29"/><stop offset="0.1749" stop-color="#96dc2b"/><stop offset="0.2215" stop-color="#8ad828"/><stop offset="0.3109" stop-color="#88d728"/><stop offset="0.3537" stop-color="#a5e12d"/><stop offset="0.3809" stop-color="#c8e632"/><stop offset="0.4042" stop-color="#e8e137"/><stop offset="0.4664" stop-color="#f2a92c"/><stop offset="0.5441" stop-color="#f97220"/><stop offset="0.6218" stop-color="#fa5c19"/><stop offset="0.7773" stop-color="#fa5014"/><stop offset="1" stop-color="#f94713"/></linearGradient>
<linearGradient id="g48"><stop offset="0" stop-color="#efbb30"/><stop offset="0.1283" stop-color="#efbb30"/><stop offset="0.1302" stop-color="#96dc2b"/><stop offset="0.1321" stop-color="#3c9585"/><stop offset="0.1399" stop-color="#3c80b6"/><stop offset="0.1419" stop-color="#50b848"/><stop offset="0.1438" stop-color="#70cd2b"/><stop offset="0.1496" stop-color="#8ad828"/><stop offset="0.1593" stop-color="#a5e12d"/><stop offset="0.1749" stop-color="#a9e22e"/><stop offset="0.2215" stop-color="#97dc2b"/><stop offset="0.3109" stop-color="#94db2a"/><stop offset="0.3401" stop-color="#a5e12d"/><stop offset="0.3712" stop-color="#c8e632"/><stop offset="0.3984" stop-color="#e8df37"/><stop offset="0.4081" stop-color="#ebd234"/><stop offset="0.4586" stop-color="#f3a52b"/><stop offset="0.5441" stop-color="#fa681d"/><stop offset="0.6218" stop-color="#fa5014"/><stop offset="0.7773" stop-color="#f94413"/><stop offset="1" stop-color="#f93c12"/></linearGradient>
<linearGradient id="g49"><stop offset="0" stop-color="#f1b32e"/><stop offset="0.1283" stop-color="#f1b32e"/><stop offset="0.1302" stop-color="#d4e434"/><stop offset="0.1321" stop-color="#bce430"/><stop offset="0.136" stop-color="#a9e22e"/><stop offset="0.1399" stop-color="#9dde2c"/><stop offset="0.1457" stop-color="#a3e02d"/><stop offset="0.1593" stop-color="#c9e632"/><stop offset="0.1749" stop-color="#c5e632"/><stop offset="0.2215" stop-color="#a4e12d"/><stop offset="0.3109" stop-color="#9fdf2c"/><stop offset="0.3226" stop-color="#a5e12d"/><stop offset="0.3595" stop-color="#c8e632"/><stop offset="0.3887" stop-color="#e6e137"/><stop offset="0.4081" stop-color="#edc833"/><stop offset="0.4664" stop-color="#f59428"/><stop offset="0.5305" stop-color="#fa651c"/><stop offset="0.5441" stop-color="#fa5d19"/><stop offset="0.6218" stop-color="#f94613"/><stop offset="0.7773" stop-color="#f93911"/><stop offset="1" stop-color="#f83211"/></linearGradient>
<linearGradient id="g50"><stop offset="0" stop-color="#f2ac2d"/><stop offset="0.1283" stop-color="#f2ac2d"/><stop offset="0.1302" stop-color="#efbd31"/><stop offset="0.1399" stop-color="#e7e137"/><stop offset="0.1457" stop-color="#e0e236"/><stop offset="0.1593" stop-color="#e8e137"/><stop offset="0.2215" stop-color="#bae430"/><stop offset="0.2993" stop-color="#afe22e"/><stop offset="0.3109" stop-color="#afe22e"/><stop offset="0.3498" stop-color="#cce533"/><stop offset="0.3828" stop-color="#e8e037"/><stop offset="0.4081" stop-color="#efbf31"/><stop offset="0.4586" stop-color="#f69127"/><stop offset="0.5286" stop-color="#fa5b18"/><stop offset="0.5441" stop-color="#fa5215"/><stop offset="0.6218" stop-color="#f93c12"/><stop offset="0.7773" stop-color="#f82f10"/><stop offset="1" stop-color="#f62b11"/></linearGradient>
<linearGradient id="g51"><stop offset="0" stop-color="#f2aa2c"/><stop offset="0.138" stop-color="#f2aa2c"/><stop offset="0.1535" stop-color="#eec432"/><stop offset="0.1885" stop-color="#e8e137"/><stop offset="0.2215" stop-color="#cfe533"/><stop offset="0.3109" stop-color="#c2e531"/><stop offset="0.3673" stop-color="#e7e137"/><stop offset="0.3809" stop-color="#ead936"/><stop offset="0.4081" stop-color="#f0b62f"/><stop offset="0.4586" stop-color="#f78725"/><stop offset="0.5286" stop-color="#fa5114"/><stop offset="0.5441" stop-color="#fa4913"/><stop offset="0.6218" stop-color="#f83211"/><stop offset="0.6957" stop-color="#f82c10"/><stop offset="1" stop-color="#f12912"/></linearGradient>
<linearGradient id="g52"><stop offset="0" stop-color="#f1af2e"/><stop offset="0.1166" stop-color="#f1b02e"/><stop offset="0.1535" stop-color="#f2aa2c"/><stop offset="0.1807" stop-color="#edc633"/><stop offset="0.2138" stop-color="#e8e137"/><stop offset="0.2215" stop-color="#e2e236"/><stop offset="0.3109" stop-color="#d3e434"/><stop offset="0.3517" stop-color="#e7e137"/><stop offset="0.3809" stop-color="#ebd034"/><stop offset="0.4081" stop-color="#f1ad2d"/><stop offset="0.4586" stop-color="#f87e23"/><stop offset="0.5286" stop-color="#fa4713"/><stop offset="0.5441" stop-color="#f94012"/><stop offset="0.6218" stop-color="#f72b10"/><stop offset="0.7773" stop-color="#ef2813"/><stop offset="1" stop-color="#ed2713"/></linearGradient>
<linearGradient id="g53"><stop offset="0" stop-color="#f0b72f"/><stop offset="0.1166" stop-color="#f0b830"/><stop offset="0.1671" stop-color="#f2aa2d"/><stop offset="0.2215" stop-color="#ead635"/><stop offset="0.2798" stop-color="#e8e137"/><stop offset="0.3109" stop-color="#e4e236"/><stop offset="0.3226" stop-color="#e8e137"/><stop offset="0.3809" stop-color="#edc733"/><stop offset="0.4081" stop-color="#f3a42b"/><stop offset="0.4761" stop-color="#fa691e"/><stop offset="0.5072" stop-color="#fa5014"/><stop offset="0.5286" stop-color="#f93e12"/><stop offset="0.5849" stop-color="#f82c10"/><stop offset="0.6218" stop-color="#f22912"/><stop offset="0.7773" stop-color="#eb2614"/><stop offset="1" stop-color="#e92515"/></linearGradient>
<linearGradient id="g54"><stop offset="0" stop-color="#efbf31"/><stop offset="0.1166" stop-color="#eec132"/><stop offset="0.1321" stop-color="#efbf31"/><stop offset="0.171" stop-color="#f2ab2d"/><stop offset="0.1846" stop-color="#f2ab2d"/><stop offset="0.2215" stop-color="#edc633"/><stop offset="0.3109" stop-color="#ead635"/><stop offset="0.3498" stop-color="#eccd34"/><stop offset="0.3809" stop-color="#efbe31"/><stop offset="0.4081" stop-color="#f49c29"/><stop offset="0.4586" stop-color="#f96e1f"/><stop offset="0.4975" stop-color="#fa4f14"/><stop offset="0.5286" stop-color="#f93711"/><stop offset="0.5597" stop-color="#f82c10"/><stop offset="0.6218" stop-color="#ee2713"/><stop offset="0.7773" stop-color="#e72415"/><stop offset="1" stop-color="#e52316"/></linearGradient>
<linearGradient id="g55"><stop offset="0" stop-color="#edc933"/><stop offset="0.1166" stop-color="#eccc33"/><stop offset="0.1321" stop-color="#edc833"/><stop offset="0.1749" stop-color="#f1b02e"/><stop offset="0.1924" stop-color="#f2ab2d"/><stop offset="0.204" stop-color="#f2ac2d"/><stop offset="0.2215" stop-color="#f0b830"/><stop offset="0.2993" stop-color="#edc833"/><stop offset="0.3498" stop-color="#eec232"/><stop offset="0.3809" stop-color="#f0b62f"/><stop offset="0.4081" stop-color="#f59528"/><stop offset="0.4586" stop-color="#fa671d"/><stop offset="0.4878" stop-color="#fa5014"/><stop offset="0.5286" stop-color="#f83010"/><stop offset="0.5402" stop-color="#f82c10"/><stop offset="0.6218" stop-color="#eb2614"/><stop offset="0.7773" stop-color="#e32216"/><stop offset="1" stop-color="#e22217"/></linearGradient>
<linearGradient id="g56"><stop offset="0" stop-color="#ebd435"/><stop offset="0.1166" stop-color="#ead735"/><stop offset="0.1516" stop-color="#edc933"/><stop offset="0.1846" stop-color="#f1b32e"/><stop offset="0.206" stop-color="#f2ab2d"/><stop offset="0.3109" stop-color="#efbc30"/><stop offset="0.3498" stop-color="#f0b830"/><stop offset="0.3809" stop-color="#f1af2e"/><stop offset="0.4081" stop-color="#f68e26"/><stop offset="0.4586" stop-color="#fa601a"/><stop offset="0.48" stop-color="#fa4f14"/><stop offset="0.5286" stop-color="#f72c10"/><stop offset="0.6218" stop-color="#e82515"/><stop offset="0.7773" stop-color="#e12117"/><stop offset="1" stop-color="#e02117"/></linearGradient>
<linearGradient id="g57"><stop offset="0" stop-color="#e8df37"/><stop offset="0.0874" stop-color="#e7e137"/><stop offset="0.1166" stop-color="#e2e236"/><stop offset="0.1224" stop-color="#e8e137"/><stop offset="0.1516" stop-color="#ead535"/><stop offset="0.1904" stop-color="#f0b82f"/><stop offset="0.2157" stop-color="#f1ad2d"/><stop offset="0.3284" stop-color="#f1b02e"/><stop offset="0.3809" stop-color="#f2a82c"/><stop offset="0.4081" stop-color="#f78825"/><stop offset="0.4586" stop-color="#fa5a18"/><stop offset="0.5208" stop-color="#f82c10"/><stop offset="0.5286" stop-color="#f52b11"/><stop offset="0.6218" stop-color="#e62416"/><stop offset="0.7773" stop-color="#df2018"/><stop offset="1" stop-color="#de2018"/></linearGradient>
<linearGradient id="g58"><stop offset="0" stop-color="#b7e430"/><stop offset="0.1166" stop-color="#b2e32f"/><stop offset="0.1283" stop-color="#c7e632"/><stop offset="0.1496" stop-color="#e7e137"/><stop offset="0.1749" stop-color="#ecce34"/><stop offset="0.2215" stop-color="#f1b02e"/><stop offset="0.2993" stop-color="#f1ae2d"/><stop offset="0.3809" stop-color="#f3a32b"/><stop offset="0.4081" stop-color="#f78424"/><stop offset="0.4586" stop-color="#fa5717"/><stop offset="0.5188" stop-color="#f82c10"/><stop offset="0.6218" stop-color="#e52316"/><stop offset="0.7773" stop-color="#de2018"/><stop offset="1" stop-color="#de2018"/></linearGradient>
<linearGradient id="g59"><stop offset="0" stop-color="#85d628"/><stop offset="0.1166" stop-color="#90da29"/><stop offset="0.138" stop-color="#a6e12d"/><stop offset="0.1516" stop-color="#bee531"/><stop offset="0.1671" stop-color="#e8e137"/><stop offset="0.2176" stop-color="#f0b930"/><stop offset="0.2487" stop-color="#f1b12e"/><stop offset="0.3809" stop-color="#f3a32b"/><stop offset="0.4081" stop-color="#f78424"/><stop offset="0.4586" stop-color="#fa5717"/><stop offset="0.5208" stop-color="#f72c10"/><stop offset="0.6218" stop-color="#e62416"/><stop offset="0.7773" stop-color="#df2018"/><stop offset="1" stop-color="#df2018"/></linearGradient>
<linearGradient id="g60"><stop offset="0" stop-color="#4ab253"/><stop offset="0.0894" stop-color="#64c82d"/><stop offset="0.1166" stop-color="#6bcb2c"/><stop offset="0.1224" stop-color="#77d02a"/><stop offset="0.136" stop-color="#87d728"/><stop offset="0.1516" stop-color="#97dc2b"/><stop offset="0.1593" stop-color="#a5e12d"/><stop offset="0.171" stop-color="#c9e632"/><stop offset="0.1827" stop-color="#e8e137"/><stop offset="0.2157" stop-color="#eec332"/><stop offset="0.2585" stop-color="#f0b52f"/><stop offset="0.3809" stop-color="#f3a42b"/><stop offset="0.4081" stop-color="#f78524"/><stop offset="0.4586" stop-color="#fa5a18"/><stop offset="0.5247" stop-color="#f72c10"/><stop offset="0.6218" stop-color="#e72415"/><stop offset="0.7773" stop-color="#e12117"/><stop offset="1" stop-color="#e12117"/></linearGradient>
<linearGradient id="g61"><stop offset="0" stop-color="#3251ef"/><stop offset="0.0486" stop-color="#3c78c8"/><stop offset="0.1166" stop-color="#3c928b"/><stop offset="0.1283" stop-color="#4cb54f"/><stop offset="0.138" stop-color="#61c631"/><stop offset="0.1574" stop-color="#85d628"/><stop offset="0.1749" stop-color="#a4e12d"/><stop offset="0.1866" stop-color="#c8e632"/><stop offset="0.1963" stop-color="#e7e137"/><stop offset="0.2215" stop-color="#edca33"/><stop offset="0.2721" stop-color="#f0b830"/><stop offset="0.3809" stop-color="#f2a62c"/><stop offset="0.4081" stop-color="#f68925"/><stop offset="0.4586" stop-color="#fa5f1a"/><stop offset="0.48" stop-color="#fa5014"/><stop offset="0.5344" stop-color="#f82c10"/><stop offset="0.6218" stop-color="#eb2614"/><stop offset="0.7773" stop-color="#e52316"/><stop offset="1" stop-color="#e52316"/></linearGradient>
<linearGradient id="g62"><stop offset="0" stop-color="#2112ef"/><stop offset="0.0194" stop-color="#2314f5"/><stop offset="0.1166" stop-color="#282cfa"/><stop offset="0.1244" stop-color="#3353ed"/><stop offset="0.1302" stop-color="#3c76ca"/><stop offset="0.1399" stop-color="#3c9488"/><stop offset="0.1516" stop-color="#4ab352"/><stop offset="0.1593" stop-color="#63c72e"/><stop offset="0.1652" stop-color="#74cf2b"/><stop offset="0.1749" stop-color="#88d728"/><stop offset="0.1904" stop-color="#a4e12d"/><stop offset="0.2002" stop-color="#c6e632"/><stop offset="0.2099" stop-color="#e7e137"/><stop offset="0.2215" stop-color="#ead635"/><stop offset="0.2759" stop-color="#efbe31"/><stop offset="0.3809" stop-color="#f2aa2d"/><stop offset="0.4081" stop-color="#f68e26"/><stop offset="0.4936" stop-color="#fa5014"/><stop offset="0.5286" stop-color="#f93711"/><stop offset="0.5713" stop-color="#f82c10"/><stop offset="0.6218" stop-color="#f12912"/><stop offset="0.7773" stop-color="#eb2614"/><stop offset="1" stop-color="#eb2614"/></linearGradient>
<linearGradient id="g63"><stop offset="0" stop-color="#0f057d"/><stop offset="0.068" stop-color="#140aaa"/><stop offset="0.1166" stop-color="#1c0ed9"/><stop offset="0.1185" stop-color="#1e0fe7"/><stop offset="0.1244" stop-color="#2314f5"/><stop offset="0.138" stop-color="#2930f9"/><stop offset="0.1457" stop-color="#3354ec"/><stop offset="0.1516" stop-color="#3b74cc"/><stop offset="0.1593" stop-color="#3c9682"/><stop offset="0.1671" stop-color="#4bb450"/><stop offset="0.1749" stop-color="#63c72e"/><stop offset="0.1904" stop-color="#88d728"/><stop offset="0.204" stop-color="#a2e02d"/><stop offset="0.2138" stop-color="#c5e632"/><stop offset="0.2215" stop-color="#e2e236"/><stop offset="0.2254" stop-color="#e8e137"/><stop offset="0.2857" stop-color="#eec232"/><stop offset="0.3809" stop-color="#f1b02e"/><stop offset="0.4081" stop-color="#f59628"/><stop offset="0.4586" stop-color="#f97120"/><stop offset="0.5286" stop-color="#f94513"/><stop offset="0.5441" stop-color="#f94012"/><stop offset="0.6218" stop-color="#f82f10"/><stop offset="0.6607" stop-color="#f82c10"/><stop offset="0.7773" stop-color="#f32a11"/><stop offset="1" stop-color="#f42a11"/></linearGradient>
<linearGradient id="g64"><stop offset="0" stop-color="#0f057d"/><stop offset="0.1205" stop-color="#0f057d"/><stop offset="0.1302" stop-color="#140aad"/><stop offset="0.136" stop-color="#1c0edd"/><stop offset="0.138" stop-color="#1f10e8"/><stop offset="0.1438" stop-color="#2315f5"/><stop offset="0.1555" stop-color="#282cfa"/><stop offset="0.1613" stop-color="#3250f0"/><stop offset="0.1671" stop-color="#3c7bc2"/><stop offset="0.1749" stop-color="#3e997d"/><stop offset="0.1827" stop-color="#4cb54e"/><stop offset="0.1904" stop-color="#63c72e"/><stop offset="0.206" stop-color="#88d728"/><stop offset="0.2196" stop-color="#a5e12d"/><stop offset="0.2312" stop-color="#cae632"/><stop offset="0.2429" stop-color="#e7e137"/><stop offset="0.2449" stop-color="#e8e137"/><stop offset="0.2876" stop-color="#edca33"/><stop offset="0.3809" stop-color="#f0b72f"/><stop offset="0.4081" stop-color="#f4a02a"/><stop offset="0.4586" stop-color="#f87f23"/><stop offset="0.5286" stop-color="#fa5717"/><stop offset="0.5441" stop-color="#fa5315"/><stop offset="0.6218" stop-color="#f94212"/><stop offset="0.7773" stop-color="#f93811"/><stop offset="1" stop-color="#f93811"/></linearGradient>
<linearGradient id="g65"><stop offset="0" stop-color="#0f057d"/><stop offset="0.138" stop-color="#0f057d"/><stop offset="0.1477" stop-color="#150bb1"/><stop offset="0.1516" stop-color="#1a0dce"/><stop offset="0.1535" stop-color="#1d0fe2"/><stop offset="0.1555" stop-color="#2011eb"/><stop offset="0.1593" stop-color="#2315f5"/><stop offset="0.1691" stop-color="#282cfa"/><stop offset="0.1749" stop-color="#314df1"/><stop offset="0.1807" stop-color="#3c78c8"/><stop offset="0.1866" stop-color="#3c8e95"/><stop offset="0.1904" stop-color="#3e9b7a"/><stop offset="0.1982" stop-color="#4cb54f"/><stop offset="0.206" stop-color="#62c630"/><stop offset="0.2215" stop-color="#89d828"/><stop offset="0.2371" stop-color="#a7e12d"/><stop offset="0.2487" stop-color="#c8e632"/><stop offset="0.2604" stop-color="#e3e236"/><stop offset="0.2643" stop-color="#e8e037"/><stop offset="0.2876" stop-color="#ebd335"/><stop offset="0.3809" stop-color="#efbf31"/><stop offset="0.4586" stop-color="#f68f26"/><stop offset="0.5286" stop-color="#fa6d1f"/><stop offset="0.5441" stop-color="#fa6a1e"/><stop offset="0.6218" stop-color="#fa5b19"/><stop offset="0.7773" stop-color="#fa5215"/><stop offset="1" stop-color="#fa5014"/></linearGradient>
<linearGradient id="g66"><stop offset="0" stop-color="#0f057d"/><stop offset="0.1516" stop-color="#0f057d"/><stop offset="0.1535" stop-color="#0f057f"/><stop offset="0.1593" stop-color="#1309a4"/><stop offset="0.1671" stop-color="#1e0fe7"/><stop offset="0.1729" stop-color="#2316f5"/><stop offset="0.1827" stop-color="#282cfa"/><stop offset="0.1904" stop-color="#3354ec"/><stop offset="0.1963" stop-color="#3c79c6"/><stop offset="0.206" stop-color="#3e9a7c"/><stop offset="0.2138" stop-color="#4bb450"/><stop offset="0.2235" stop-color="#66c92d"/><stop offset="0.2371" stop-color="#88d728"/><stop offset="0.2526" stop-color="#a3e02d"/><stop offset="0.2682" stop-color="#c8e632"/><stop offset="0.2818" stop-color="#e8e137"/><stop offset="0.3498" stop-color="#eccd34"/><stop offset="0.3809" stop-color="#edca33"/><stop offset="0.4586" stop-color="#f3a32b"/><stop offset="0.5441" stop-color="#f78224"/><stop offset="0.6218" stop-color="#f87721"/><stop offset="0.7773" stop-color="#f9701f"/><stop offset="1" stop-color="#fa6d1f"/></linearGradient>
<linearGradient id="g67"><stop offset="0" stop-color="#0f057d"/><stop offset="0.1632" stop-color="#0f057d"/><stop offset="0.1652" stop-color="#0f0580"/><stop offset="0.171" stop-color="#1309a3"/><stop offset="0.1788" stop-color="#1d0fe2"/><stop offset="0.1807" stop-color="#1f10ea"/><stop offset="0.1866" stop-color="#2417f6"/><stop offset="0.1982" stop-color="#282cfa"/><stop offset="0.206" stop-color="#3252ee"/><stop offset="0.2118" stop-color="#3c77c9"/><stop offset="0.2215" stop-color="#3d987e"/><stop offset="0.2293" stop-color="#4ab352"/><stop offset="0.2371" stop-color="#61c631"/><stop offset="0.2449" stop-color="#78d12a"/><stop offset="0.2526" stop-color="#88d728"/><stop offset="0.274" stop-color="#a4e12d"/><stop offset="0.2876" stop-color="#c8e632"/><stop offset="0.3206" stop-color="#e8e137"/><stop offset="0.3809" stop-color="#ead635"/><stop offset="0.513" stop-color="#f3a62c"/><stop offset="0.5441" stop-color="#f49f2a"/><stop offset="0.7773" stop-color="#f68f26"/><stop offset="1" stop-color="#f68a25"/></linearGradient>
<linearGradient id="g68"><stop offset="0" stop-color="#0f057d"/><stop offset="0.1749" stop-color="#0f057d"/><stop offset="0.1768" stop-color="#0f0580"/><stop offset="0.1846" stop-color="#140aac"/><stop offset="0.1924" stop-color="#1e0fe3"/><stop offset="0.2002" stop-color="#2314f4"/><stop offset="0.2138" stop-color="#282bfa"/><stop offset="0.2215" stop-color="#324ff0"/><stop offset="0.2293" stop-color="#3c7cc0"/><stop offset="0.2371" stop-color="#3c9682"/><stop offset="0.2449" stop-color="#4ab254"/><stop offset="0.2526" stop-color="#62c630"/><stop offset="0.2623" stop-color="#76d02a"/><stop offset="0.2876" stop-color="#99dd2b"/><stop offset="0.309" stop-color="#a5e12d"/><stop offset="0.3498" stop-color="#d5e434"/><stop offset="0.4023" stop-color="#e8e137"/><stop offset="0.5441" stop-color="#eec132"/><stop offset="1" stop-color="#f1ad2d"/></linearGradient>
<linearGradient id="g69"><stop offset="0" stop-color="#0f057d"/><stop offset="0.1866" stop-color="#0f057d"/><stop offset="0.1885" stop-color="#0f0580"/><stop offset="0.1982" stop-color="#140aa8"/><stop offset="0.2079" stop-color="#1d0fe1"/><stop offset="0.2099" stop-color="#1f10e8"/><stop offset="0.2176" stop-color="#2316f5"/><stop offset="0.2312" stop-color="#282dfa"/><stop offset="0.239" stop-color="#3251ef"/><stop offset="0.2449" stop-color="#3c76ca"/><stop offset="0.2546" stop-color="#3e9a7b"/><stop offset="0.2662" stop-color="#4ab253"/><stop offset="0.2779" stop-color="#61c631"/><stop offset="0.2798" stop-color="#65c82d"/><stop offset="0.2876" stop-color="#76d02a"/><stop offset="0.3168" stop-color="#87d728"/><stop offset="0.3498" stop-color="#9bde2b"/><stop offset="0.3964" stop-color="#a5e12d"/><stop offset="0.4742" stop-color="#c7e632"/><stop offset="0.513" stop-color="#d9e335"/><stop offset="0.7287" stop-color="#e8e137"/><stop offset="1" stop-color="#ead535"/></linearGradient>
<linearGradient id="g70"><stop offset="0" stop-color="#0f057d"/><stop offset="0.2021" stop-color="#0f057d"/><stop offset="0.2138" stop-color="#140aa6"/><stop offset="0.2254" stop-color="#1e0fe6"/><stop offset="0.2351" stop-color="#2315f5"/><stop offset="0.2487" stop-color="#282cfa"/><stop offset="0.2546" stop-color="#3048f2"/><stop offset="0.2585" stop-color="#3251ef"/><stop offset="0.2662" stop-color="#396bd5"/><stop offset="0.2701" stop-color="#3c78c7"/><stop offset="0.2837" stop-color="#3c9585"/><stop offset="0.2876" stop-color="#409e75"/><stop offset="0.3129" stop-color="#4bb450"/><stop offset="0.3401" stop-color="#64c82d"/><stop offset="0.3498" stop-color="#6ecc2c"/><stop offset="0.3712" stop-color="#76d02a"/><stop offset="0.513" stop-color="#97dc2b"/><stop offset="1" stop-color="#aae22e"/></linearGradient>
<linearGradient id="g71"><stop offset="0" stop-color="#0f057d"/><stop offset="0.2176" stop-color="#0f057d"/><stop offset="0.2196" stop-color="#0f0580"/><stop offset="0.2312" stop-color="#140aa6"/><stop offset="0.2429" stop-color="#1d0fe2"/><stop offset="0.2449" stop-color="#1f10e8"/><stop offset="0.2526" stop-color="#2314f5"/><stop offset="0.2837" stop-color="#282efa"/><stop offset="0.2876" stop-color="#2b38f7"/><stop offset="0.3168" stop-color="#3250f0"/><stop offset="0.3498" stop-color="#3c7cbe"/><stop offset="0.4139" stop-color="#3c9682"/><stop offset="0.478" stop-color="#4bb450"/><stop offset="0.513" stop-color="#5ac03b"/><stop offset="0.8725" stop-color="#64c82d"/><stop offset="1" stop-color="#69ca2c"/></linearGradient>
<linearGradient id="g72"><stop offset="0" stop-color="#0f057d"/><stop offset="0.2371" stop-color="#0f057d"/><stop offset="0.2507" stop-color="#140aa9"/><stop offset="0.2546" stop-color="#170cbd"/><stop offset="0.274" stop-color="#1e0fe5"/><stop offset="0.2876" stop-color="#2112ee"/><stop offset="0.3323" stop-color="#2314f5"/><stop offset="0.4159" stop-color="#251cf7"/><stop offset="0.4994" stop-color="#282dfa"/><stop offset="0.513" stop-color="#2a34f8"/><stop offset="1" stop-color="#251cf7"/></linearGradient>
<linearGradient id="g73"><stop offset="0" stop-color="#0f057d"/><stop offset="0.2585" stop-color="#0f057d"/><stop offset="0.2876" stop-color="#1309a2"/><stop offset="0.3498" stop-color="#160bb6"/><stop offset="0.513" stop-color="#190cc5"/><stop offset="0.5441" stop-color="#160bb6"/><stop offset="0.6335" stop-color="#140aaa"/><stop offset="1" stop-color="#100689"/></linearGradient>
<linearGradient id="g79"><stop offset="0" stop-color="#ead835"/><stop offset="0.1283" stop-color="#ead835"/><stop offset="0.1302" stop-color="#251ef7"/><stop offset="0.1321" stop-color="#0f057d"/><stop offset="0.1399" stop-color="#0f057d"/><stop offset="0.1419" stop-color="#140aa7"/><stop offset="0.1438" stop-color="#1e0fe7"/><stop offset="0.1457" stop-color="#241af6"/><stop offset="0.1477" stop-color="#282cfa"/><stop offset="0.1496" stop-color="#3660e0"/><stop offset="0.1516" stop-color="#3c81b4"/><stop offset="0.1535" stop-color="#3c9683"/><stop offset="0.1555" stop-color="#46aa60"/><stop offset="0.1574" stop-color="#54bc43"/><stop offset="0.1593" stop-color="#66c92d"/><stop offset="0.1749" stop-color="#7ed329"/><stop offset="0.2721" stop-color="#94db2a"/><stop offset="0.2876" stop-color="#a5e12d"/><stop offset="0.3051" stop-color="#c6e632"/><stop offset="0.3304" stop-color="#e7e137"/><stop offset="0.3887" stop-color="#f3a32b"/><stop offset="1" stop-color="#f68e26"/></linearGradient>
<linearGradient id="g80"><stop offset="0" stop-color="#ead835"/><stop offset="0.1283" stop-color="#ead835"/><stop offset="0.1302" stop-color="#251ef7"/><stop offset="0.1321" stop-color="#0f057d"/><stop offset="0.1399" stop-color="#0f057d"/><stop offset="0.1419" stop-color="#140aa7"/><stop offset="0.1438" stop-color="#1e0fe7"/><stop offset="0.1457" stop-color="#241af6"/><stop offset="0.1477" stop-color="#282cfa"/><stop offset="0.1496" stop-color="#3660e0"/><stop offset="0.1516" stop-color="#3c81b4"/><stop offset="0.1535" stop-color="#3c9683"/><stop offset="0.1555" stop-color="#46aa60"/><stop offset="0.1574" stop-color="#54bc43"/><stop offset="0.1593" stop-color="#66c92d"/><stop offset="0.1749" stop-color="#7ed329"/><stop offset="0.2721" stop-color="#94db2a"/><stop offset="0.2876" stop-color="#a5e12d"/><stop offset="0.3051" stop-color="#c6e632"/><stop offset="0.3304" stop-color="#e7e137"/><stop offset="0.3887" stop-color="#f3a32b"/><stop offset="0.5908" stop-color="#f59828"/><stop offset="1" stop-color="#f68a25"/></linearGradient>
<linearGradient id="g81"><stop offset="0" stop-color="#ead835"/><stop offset="0.1283" stop-color="#ead835"/><stop offset="0.1302" stop-color="#251ef7"/><stop offset="0.1321" stop-color="#0f057d"/><stop offset="0.1399" stop-color="#0f057d"/><stop offset="0.1419" stop-color="#140aa7"/><stop offset="0.1438" stop-color="#1e0fe7"/><stop offset="0.1457" stop-color="#241af6"/><stop offset="0.1477" stop-color="#282cfa"/><stop offset="0.1496" stop-color="#3660e0"/><stop offset="0.1516" stop-color="#3c81b4"/><stop offset="0.1535" stop-color="#3c9683"/><stop offset="0.1555" stop-color="#46aa60"/><stop offset="0.1574" stop-color="#54bc43"/><stop offset="0.1593" stop-color="#66c92d"/><stop offset="0.1749" stop-color="#7ed329"/><stop offset="0.2721" stop-color="#94db2a"/><stop offset="0.2876" stop-color="#a5e12d"/><stop offset="0.3051" stop-color="#c6e632"/><stop offset="0.3304" stop-color="#e7e137"/><stop offset="0.3887" stop-color="#f3a32b"/><stop offset="0.4547" stop-color="#f3a12a"/><stop offset="0.5908" stop-color="#f68d26"/><stop offset="1" stop-color="#f78023"/></linearGradient>
<linearGradient id="g82"><stop offset="0" stop-color="#ead635"/><stop offset="0.1283" stop-color="#ead635"/><stop offset="0.1302" stop-color="#251ef7"/><stop offset="0.1321" stop-color="#0f057d"/><stop offset="0.1399" stop-color="#0f057d"/><stop offset="0.1419" stop-color="#140aa7"/><stop offset="0.1438" stop-color="#1e0fe7"/><stop offset="0.1457" stop-color="#241af6"/><stop offset="0.1477" stop-color="#282cfa"/><stop offset="0.1496" stop-color="#3660e0"/><stop offset="0.1516" stop-color="#3c81b4"/><stop offset="0.1535" stop-color="#3c9683"/><stop offset="0.1555" stop-color="#46aa60"/><stop offset="0.1574" stop-color="#54bc43"/><stop offset="0.1593" stop-color="#66c92d"/><stop offset="0.1749" stop-color="#7ed329"/><stop offset="0.2721" stop-color="#94db2a"/><stop offset="0.2876" stop-color="#a5e12d"/><stop offset="0.3051" stop-color="#c6e632"/><stop offset="0.3323" stop-color="#e8e037"/><stop offset="0.3887" stop-color="#f3a32b"/><stop offset="0.4586" stop-color="#f59428"/><stop offset="0.5286" stop-color="#f69127"/><stop offset="0.5908" stop-color="#f78324"/><stop offset="1" stop-color="#f97621"/></linearGradient>
<linearGradient id="g83"><stop offset="0" stop-color="#eccc34"/><stop offset="0.1283" stop-color="#eccc34"/><stop offset="0.1302" stop-color="#292ff9"/><stop offset="0.1321" stop-color="#0f057d"/><stop offset="0.1399" stop-color="#0f057d"/><stop offset="0.1419" stop-color="#140aa7"/><stop offset="0.1438" stop-color="#1f10e9"/><stop offset="0.1457" stop-color="#2623f8"/><stop offset="0.1477" stop-color="#324ff0"/><stop offset="0.1496" stop-color="#3c89a0"/><stop offset="0.1516" stop-color="#42a36d"/><stop offset="0.1535" stop-color="#50b849"/><stop offset="0.1555" stop-color="#5fc434"/><stop offset="0.1593" stop-color="#79d12a"/><stop offset="0.1749" stop-color="#88d728"/><stop offset="0.2021" stop-color="#85d628"/><stop offset="0.2721" stop-color="#94db2a"/><stop offset="0.2876" stop-color="#a5e12d"/><stop offset="0.3051" stop-color="#c7e632"/><stop offset="0.3304" stop-color="#e8e137"/><stop offset="0.3887" stop-color="#f49f2a"/><stop offset="0.4586" stop-color="#f68925"/><stop offset="0.5286" stop-color="#f68c26"/><stop offset="0.5908" stop-color="#f87a22"/><stop offset="1" stop-color="#fa6d1f"/></linearGradient>
<linearGradient id="g84"><stop offset="0" stop-color="#eec332"/><stop offset="0.1283" stop-color="#eec332"/><stop offset="0.1302" stop-color="#4cb54f"/><stop offset="0.1321" stop-color="#160bb6"/><stop offset="0.1399" stop-color="#140aad"/><stop offset="0.1419" stop-color="#2418f6"/><stop offset="0.1438" stop-color="#2f45f3"/><stop offset="0.1457" stop-color="#3c8c99"/><stop offset="0.1477" stop-color="#4eb64c"/><stop offset="0.1496" stop-color="#66c92d"/><stop offset="0.1593" stop-color="#92db2a"/><stop offset="0.1749" stop-color="#9add2b"/><stop offset="0.2215" stop-color="#91da2a"/><stop offset="0.2721" stop-color="#9add2b"/><stop offset="0.2818" stop-color="#a5e12d"/><stop offset="0.3012" stop-color="#c7e632"/><stop offset="0.3109" stop-color="#d6e434"/><stop offset="0.3284" stop-color="#e8e137"/><stop offset="0.3614" stop-color="#efbe31"/><stop offset="0.3887" stop-color="#f49b29"/><stop offset="0.4586" stop-color="#f87f23"/><stop offset="0.5286" stop-color="#f78725"/><stop offset="0.5908" stop-color="#f97120"/><stop offset="1" stop-color="#fa651c"/></linearGradient>
<linearGradient id="g85"><stop offset="0" stop-color="#efbb30"/><stop offset="0.1283" stop-color="#efbb30"/><stop offset="0.1302" stop-color="#96dc2b"/><stop offset="0.1321" stop-color="#3c9585"/><stop offset="0.1399" stop-color="#3c83af"/><stop offset="0.1419" stop-color="#54bb43"/><stop offset="0.1438" stop-color="#74cf2b"/><stop offset="0.1477" stop-color="#85d628"/><stop offset="0.1593" stop-color="#abe22e"/><stop offset="0.1749" stop-color="#afe22e"/><stop offset="0.1904" stop-color="#a5e12d"/><stop offset="0.2215" stop-color="#9cde2c"/><stop offset="0.2721" stop-color="#a1e02c"/><stop offset="0.2973" stop-color="#c8e632"/><stop offset="0.3109" stop-color="#dae335"/><stop offset="0.3265" stop-color="#e8e137"/><stop offset="0.3614" stop-color="#efbd31"/><stop offset="0.3887" stop-color="#f59728"/><stop offset="0.4586" stop-color="#f97621"/><stop offset="0.5286" stop-color="#f78324"/><stop offset="0.5908" stop-color="#fa6a1e"/><stop offset="0.7773" stop-color="#fa611b"/><stop offset="1" stop-color="#fa5c19"/></linearGradient>
<linearGradient id="g86"><stop offset="0" stop-color="#f1b32e"/><stop offset="0.1283" stop-color="#f1b32e"/><stop offset="0.1302" stop-color="#d4e434"/><stop offset="0.1321" stop-color="#bce430"/><stop offset="0.1399" stop-color="#a0df2c"/><stop offset="0.1457" stop-color="#a8e12d"/><stop offset="0.1496" stop-color="#b6e32f"/><stop offset="0.1593" stop-color="#cfe533"/><stop offset="0.1749" stop-color="#cbe533"/><stop offset="0.2215" stop-color="#a9e22e"/><stop offset="0.2721" stop-color="#abe22e"/><stop offset="0.3012" stop-color="#d3e434"/><stop offset="0.3226" stop-color="#e7e137"/><stop offset="0.3614" stop-color="#efbb30"/><stop offset="0.3887" stop-color="#f59428"/><stop offset="0.4275" stop-color="#f87b22"/><stop offset="0.4586" stop-color="#fa6d1f"/><stop offset="0.5286" stop-color="#f87f23"/><stop offset="0.5908" stop-color="#fa631c"/><stop offset="0.7773" stop-color="#fa5917"/><stop offset="1" stop-color="#fa5516"/></linearGradient>
<linearGradient id="g87"><stop offset="0" stop-color="#f2ac2d"/><stop offset="0.1283" stop-color="#f2ac2d"/><stop offset="0.1302" stop-color="#efbd31"/><stop offset="0.1399" stop-color="#e9dd36"/><stop offset="0.1438" stop-color="#e7e137"/><stop offset="0.1593" stop-color="#e9db36"/><stop offset="0.1749" stop-color="#e4e236"/><stop offset="0.2215" stop-color="#bce430"/><stop offset="0.2721" stop-color="#b6e32f"/><stop offset="0.2857" stop-color="#c8e632"/><stop offset="0.3109" stop-color="#e2e236"/><stop offset="0.3304" stop-color="#e9db36"/><stop offset="0.3614" stop-color="#efba30"/><stop offset="0.3887" stop-color="#f69127"/><stop offset="0.4275" stop-color="#f97421"/><stop offset="0.4586" stop-color="#fa661d"/><stop offset="0.5286" stop-color="#f87c22"/><stop offset="0.5908" stop-color="#fa5d19"/><stop offset="0.7773" stop-color="#fa5215"/><stop offset="1" stop-color="#fa4e14"/></linearGradient>
<linearGradient id="g88"><stop offset="0" stop-color="#f2aa2c"/><stop offset="0.1399" stop-color="#f2aa2c"/><stop offset="0.1535" stop-color="#efbe31"/><stop offset="0.1963" stop-color="#e6e137"/><stop offset="0.2215" stop-color="#cde533"/><stop offset="0.2721" stop-color="#c2e531"/><stop offset="0.2779" stop-color="#c9e632"/><stop offset="0.3109" stop-color="#e6e137"/><stop offset="0.3304" stop-color="#e9da36"/><stop offset="0.3614" stop-color="#f0b930"/><stop offset="0.3887" stop-color="#f68e26"/><stop offset="0.4275" stop-color="#f96f1f"/><stop offset="0.4586" stop-color="#fa601a"/><stop offset="0.5286" stop-color="#f87a22"/><stop offset="0.5908" stop-color="#fa5917"/><stop offset="0.7773" stop-color="#fa4d14"/><stop offset="1" stop-color="#fa4913"/></linearGradient>
<linearGradient id="g89"><stop offset="0" stop-color="#f1af2e"/><stop offset="0.1166" stop-color="#f1af2e"/><stop offset="0.1574" stop-color="#f2ab2d"/><stop offset="0.2118" stop-color="#e7e137"/><stop offset="0.2215" stop-color="#dde335"/><stop offset="0.2721" stop-color="#cce533"/><stop offset="0.307" stop-color="#e7e137"/><stop offset="0.3304" stop-color="#ead836"/><stop offset="0.3614" stop-color="#f0b830"/><stop offset="0.3887" stop-color="#f68e26"/><stop offset="0.4275" stop-color="#f96f1f"/><stop offset="0.4586" stop-color="#fa5f1a"/><stop offset="0.5286" stop-color="#f87922"/><stop offset="0.5908" stop-color="#fa5717"/><stop offset="0.7773" stop-color="#fa4b13"/><stop offset="1" stop-color="#f94613"/></linearGradient>
<linearGradient id="g90"><stop offset="0" stop-color="#f0b72f"/><stop offset="0.1166" stop-color="#f0b72f"/><stop offset="0.1749" stop-color="#f2ac2d"/><stop offset="0.1943" stop-color="#efbd31"/><stop offset="0.2215" stop-color="#e9dd36"/><stop offset="0.241" stop-color="#e6e137"/><stop offset="0.2721" stop-color="#d6e434"/><stop offset="0.2993" stop-color="#e7e137"/><stop offset="0.3304" stop-color="#ead835"/><stop offset="0.3614" stop-color="#f0b830"/><stop offset="0.3887" stop-color="#f69027"/><stop offset="0.4275" stop-color="#f97120"/><stop offset="0.4586" stop-color="#fa611b"/><stop offset="0.5286" stop-color="#f87b22"/><stop offset="0.5908" stop-color="#fa5918"/><stop offset="0.7773" stop-color="#fa4c14"/><stop offset="1" stop-color="#f94613"/></linearGradient>
<linearGradient id="g91"><stop offset="0" stop-color="#efbf31"/><stop offset="0.1166" stop-color="#eec031"/><stop offset="0.1729" stop-color="#f1ae2d"/><stop offset="0.1904" stop-color="#f1ad2d"/><stop offset="0.2215" stop-color="#ebd034"/><stop offset="0.2565" stop-color="#e8e137"/><stop offset="0.2721" stop-color="#dee335"/><stop offset="0.2895" stop-color="#e8e137"/><stop offset="0.3304" stop-color="#ead835"/><stop offset="0.3614" stop-color="#f0b930"/><stop offset="0.3887" stop-color="#f59227"/><stop offset="0.4275" stop-color="#f97421"/><stop offset="0.4586" stop-color="#fa651d"/><stop offset="0.5286" stop-color="#f87d23"/><stop offset="0.5908" stop-color="#fa5d19"/><stop offset="0.7773" stop-color="#fa4f14"/><stop offset="1" stop-color="#fa4813"/></linearGradient>
<linearGradient id="g92"><stop offset="0" stop-color="#edc933"/><stop offset="0.1166" stop-color="#edca33"/><stop offset="0.1943" stop-color="#f1ae2d"/><stop offset="0.2079" stop-color="#f0b62f"/><stop offset="0.2215" stop-color="#eec532"/><stop offset="0.2682" stop-color="#e8e137"/><stop offset="0.2779" stop-color="#e8e137"/><stop offset="0.3304" stop-color="#ead835"/><stop offset="0.3614" stop-color="#efbb30"/><stop offset="0.3887" stop-color="#f59628"/><stop offset="0.4275" stop-color="#f87921"/><stop offset="0.4586" stop-color="#fa6b1e"/><stop offset="0.5286" stop-color="#f78123"/><stop offset="0.5908" stop-color="#fa621b"/><stop offset="0.7773" stop-color="#fa5416"/><stop offset="1" stop-color="#fa4d14"/></linearGradient>
<linearGradient id="g93"><stop offset="0" stop-color="#ebd435"/><stop offset="0.1166" stop-color="#ebd435"/><stop offset="0.1943" stop-color="#f1b32e"/><stop offset="0.2138" stop-color="#f0b930"/><stop offset="0.241" stop-color="#edc933"/><stop offset="0.2701" stop-color="#e8e037"/><stop offset="0.2779" stop-color="#e8e137"/><stop offset="0.3304" stop-color="#ead836"/><stop offset="0.3614" stop-color="#efbc31"/><stop offset="0.3887" stop-color="#f49a29"/><stop offset="0.4275" stop-color="#f87e23"/><stop offset="0.4586" stop-color="#f97120"/><stop offset="0.5286" stop-color="#f78624"/><stop offset="0.5908" stop-color="#fa6a1e"/><stop offset="0.7773" stop-color="#fa5b19"/><stop offset="1" stop-color="#fa5315"/></linearGradient>
<linearGradient id="g94"><stop offset="0" stop-color="#e8df37"/><stop offset="0.1166" stop-color="#e8e037"/><stop offset="0.1982" stop-color="#efba30"/><stop offset="0.2215" stop-color="#efbe31"/><stop offset="0.2721" stop-color="#e7e137"/><stop offset="0.3304" stop-color="#ead936"/><stop offset="0.3614" stop-color="#efbf31"/><stop offset="0.3887" stop-color="#f49e2a"/><stop offset="0.4275" stop-color="#f78524"/><stop offset="0.4586" stop-color="#f87821"/><stop offset="0.5286" stop-color="#f68c26"/><stop offset="0.5908" stop-color="#f97120"/><stop offset="1" stop-color="#fa5c19"/></linearGradient>
<linearGradient id="g95"><stop offset="0" stop-color="#b7e430"/><stop offset="0.1166" stop-color="#bde430"/><stop offset="0.138" stop-color="#e7e137"/><stop offset="0.1943" stop-color="#eec332"/><stop offset="0.2215" stop-color="#eec232"/><stop offset="0.2701" stop-color="#e8e137"/><stop offset="0.2779" stop-color="#e8e137"/><stop offset="0.3304" stop-color="#ead936"/><stop offset="0.3614" stop-color="#eec132"/><stop offset="0.3887" stop-color="#f3a42b"/><stop offset="0.4275" stop-color="#f68c26"/><stop offset="0.4586" stop-color="#f78023"/><stop offset="0.5286" stop-color="#f59227"/><stop offset="0.5908" stop-color="#f87922"/><stop offset="1" stop-color="#fa661d"/></linearGradient>
<linearGradient id="g96"><stop offset="0" stop-color="#85d628"/><stop offset="0.1166" stop-color="#92db2a"/><stop offset="0.1302" stop-color="#a6e12d"/><stop offset="0.1457" stop-color="#c7e632"/><stop offset="0.1613" stop-color="#e7e137"/><stop offset="0.1943" stop-color="#eccd34"/><stop offset="0.2215" stop-color="#edc733"/><stop offset="0.241" stop-color="#ecce34"/><stop offset="0.2721" stop-color="#e7e137"/><stop offset="0.3304" stop-color="#e9da36"/><stop offset="0.3614" stop-color="#eec432"/><stop offset="0.3887" stop-color="#f2aa2c"/><stop offset="0.4275" stop-color="#f59428"/><stop offset="0.4586" stop-color="#f68925"/><stop offset="0.5286" stop-color="#f49a29"/><stop offset="0.5908" stop-color="#f78324"/><stop offset="1" stop-color="#f97120"/></linearGradient>
<linearGradient id="g97"><stop offset="0" stop-color="#4ab253"/><stop offset="0.0894" stop-color="#64c82d"/><stop offset="0.1166" stop-color="#6bcb2c"/><stop offset="0.1205" stop-color="#76d02a"/><stop offset="0.1302" stop-color="#88d728"/><stop offset="0.1516" stop-color="#a4e12d"/><stop offset="0.1652" stop-color="#c6e632"/><stop offset="0.1827" stop-color="#e8e137"/><stop offset="0.204" stop-color="#ebd335"/><stop offset="0.2215" stop-color="#eccd34"/><stop offset="0.241" stop-color="#ebd134"/><stop offset="0.2721" stop-color="#e7e137"/><stop offset="0.3304" stop-color="#e9db36"/><stop offset="0.3614" stop-color="#edc833"/><stop offset="0.3887" stop-color="#f1b02e"/><stop offset="0.4275" stop-color="#f49d2a"/><stop offset="0.4586" stop-color="#f59427"/><stop offset="0.5286" stop-color="#f3a22b"/><stop offset="0.5908" stop-color="#f68d26"/><stop offset="1" stop-color="#f87d22"/></linearGradient>
<linearGradient id="g98"><stop offset="0" stop-color="#3251ef"/><stop offset="0.0486" stop-color="#3c78c8"/><stop offset="0.1166" stop-color="#3c928b"/><stop offset="0.1244" stop-color="#4ab155"/><stop offset="0.1321" stop-color="#61c531"/><stop offset="0.1341" stop-color="#66c92d"/><stop offset="0.1399" stop-color="#76d02a"/><stop offset="0.1496" stop-color="#86d728"/><stop offset="0.1691" stop-color="#a4e12d"/><stop offset="0.1846" stop-color="#c8e632"/><stop offset="0.1982" stop-color="#e7e137"/><stop offset="0.204" stop-color="#e9dd36"/><stop offset="0.2293" stop-color="#ebd435"/><stop offset="0.2721" stop-color="#e7e137"/><stop offset="0.3304" stop-color="#e9dc36"/><stop offset="0.3887" stop-color="#f0b72f"/><stop offset="0.4586" stop-color="#f49f2a"/><stop offset="0.5286" stop-color="#f2ab2d"/><stop offset="0.5908" stop-color="#f59929"/><stop offset="1" stop-color="#f68a25"/></linearGradient>
<linearGradient id="g99"><stop offset="0" stop-color="#2112ef"/><stop offset="0.0194" stop-color="#2314f5"/><stop offset="0.1166" stop-color="#282cfa"/><stop offset="0.1224" stop-color="#3250f0"/><stop offset="0.1283" stop-color="#3c7bc1"/><stop offset="0.136" stop-color="#3e997d"/><stop offset="0.1438" stop-color="#4cb54e"/><stop offset="0.1516" stop-color="#62c72f"/><stop offset="0.1574" stop-color="#74cf2b"/><stop offset="0.1671" stop-color="#87d728"/><stop offset="0.1866" stop-color="#a4e12d"/><stop offset="0.2002" stop-color="#c6e632"/><stop offset="0.2138" stop-color="#e7e137"/><stop offset="0.2157" stop-color="#e8e137"/><stop offset="0.241" stop-color="#e9da36"/><stop offset="0.2721" stop-color="#e7e137"/><stop offset="0.3304" stop-color="#e9dd36"/><stop offset="0.3887" stop-color="#efbf31"/><stop offset="0.4586" stop-color="#f2ab2d"/><stop offset="0.5286" stop-color="#f0b42f"/><stop offset="0.5908" stop-color="#f3a62b"/><stop offset="1" stop-color="#f59929"/></linearGradient>
<linearGradient id="g100"><stop offset="0" stop-color="#0f057d"/><stop offset="0.068" stop-color="#140aaa"/><stop offset="0.1166" stop-color="#1c0ed9"/><stop offset="0.1185" stop-color="#1f10e8"/><stop offset="0.1224" stop-color="#2213f3"/><stop offset="0.1321" stop-color="#272af9"/><stop offset="0.138" stop-color="#3049f2"/><stop offset="0.1399" stop-color="#3355eb"/><stop offset="0.1457" stop-color="#3c7cbf"/><stop offset="0.1535" stop-color="#3d997d"/><stop offset="0.1613" stop-color="#4eb64c"/><stop offset="0.1671" stop-color="#61c631"/><stop offset="0.1749" stop-color="#78d12a"/><stop offset="0.1827" stop-color="#86d728"/><stop offset="0.204" stop-color="#a6e12d"/><stop offset="0.2157" stop-color="#c5e632"/><stop offset="0.2312" stop-color="#e7e137"/><stop offset="0.2371" stop-color="#e8e037"/><stop offset="0.3304" stop-color="#e9de37"/><stop offset="0.3887" stop-color="#edc733"/><stop offset="0.4586" stop-color="#f0b72f"/><stop offset="0.5286" stop-color="#efbf31"/><stop offset="0.5908" stop-color="#f0b32f"/><stop offset="1" stop-color="#f2a92c"/></linearGradient>
<linearGradient id="g101"><stop offset="0" stop-color="#0f057d"/><stop offset="0.1185" stop-color="#0f057d"/><stop offset="0.1205" stop-color="#0f0580"/><stop offset="0.1263" stop-color="#1309a3"/><stop offset="0.1341" stop-color="#1e0fe7"/><stop offset="0.1399" stop-color="#2417f6"/><stop offset="0.1496" stop-color="#282dfa"/><stop offset="0.1555" stop-color="#324ef0"/><stop offset="0.1613" stop-color="#3c79c6"/><stop offset="0.1691" stop-color="#3d987f"/><stop offset="0.1768" stop-color="#4db64d"/><stop offset="0.1846" stop-color="#66c92d"/><stop offset="0.1904" stop-color="#77d02a"/><stop offset="0.2002" stop-color="#87d728"/><stop offset="0.2196" stop-color="#a4e12d"/><stop offset="0.2351" stop-color="#c7e632"/><stop offset="0.2487" stop-color="#e6e137"/><stop offset="0.2546" stop-color="#e8e137"/><stop offset="0.3304" stop-color="#e8e037"/><stop offset="0.3887" stop-color="#ebd034"/><stop offset="0.4586" stop-color="#eec532"/><stop offset="0.5286" stop-color="#edca33"/><stop offset="0.5908" stop-color="#eec232"/><stop offset="1" stop-color="#efba30"/></linearGradient>
<linearGradient id="g102"><stop offset="0" stop-color="#0f057d"/><stop offset="0.1341" stop-color="#0f057d"/><stop offset="0.136" stop-color="#100684"/><stop offset="0.1419" stop-color="#140aa9"/><stop offset="0.1477" stop-color="#1d0edf"/><stop offset="0.1496" stop-color="#1f10e9"/><stop offset="0.1555" stop-color="#2417f6"/><stop offset="0.1652" stop-color="#282cfa"/><stop offset="0.171" stop-color="#314cf1"/><stop offset="0.1729" stop-color="#345ae6"/><stop offset="0.1768" stop-color="#3c77c9"/><stop offset="0.1846" stop-color="#3c9682"/><stop offset="0.1924" stop-color="#4ab352"/><stop offset="0.2002" stop-color="#63c72f"/><stop offset="0.206" stop-color="#74cf2b"/><stop offset="0.2157" stop-color="#86d728"/><stop offset="0.239" stop-color="#a4e12d"/><stop offset="0.2546" stop-color="#c8e632"/><stop offset="0.2779" stop-color="#e7e137"/><stop offset="0.3304" stop-color="#e8e137"/><stop offset="0.4586" stop-color="#ebd335"/><stop offset="1" stop-color="#eccd34"/></linearGradient>
<linearGradient id="g103"><stop offset="0" stop-color="#0f057d"/><stop offset="0.1477" stop-color="#0f057d"/><stop offset="0.1555" stop-color="#140aa7"/><stop offset="0.1632" stop-color="#1e0fe6"/><stop offset="0.1691" stop-color="#2314f4"/><stop offset="0.1807" stop-color="#282bfa"/><stop offset="0.1885" stop-color="#3355eb"/><stop offset="0.1943" stop-color="#3c7ac4"/><stop offset="0.2021" stop-color="#3c9682"/><stop offset="0.2099" stop-color="#4bb351"/><stop offset="0.2176" stop-color="#64c82d"/><stop offset="0.2254" stop-color="#78d12a"/><stop offset="0.2546" stop-color="#9dde2c"/><stop offset="0.2662" stop-color="#a6e12d"/><stop offset="0.2876" stop-color="#c5e632"/><stop offset="0.3498" stop-color="#e2e236"/><stop offset="0.513" stop-color="#e7e137"/><stop offset="1" stop-color="#e7e137"/></linearGradient>
<linearGradient id="g104"><stop offset="0" stop-color="#0f057d"/><stop offset="0.1613" stop-color="#0f057d"/><stop offset="0.1691" stop-color="#1309a5"/><stop offset="0.1768" stop-color="#1d0edd"/><stop offset="0.1788" stop-color="#1f10e8"/><stop offset="0.1846" stop-color="#2314f4"/><stop offset="0.2002" stop-color="#2931f9"/><stop offset="0.206" stop-color="#324ff0"/><stop offset="0.2118" stop-color="#3c77c9"/><stop offset="0.2215" stop-color="#3f9c77"/><stop offset="0.2293" stop-color="#4ab253"/><stop offset="0.239" stop-color="#61c631"/><stop offset="0.2468" stop-color="#74cf2b"/><stop offset="0.2546" stop-color="#80d429"/><stop offset="0.2876" stop-color="#99dd2b"/><stop offset="0.3498" stop-color="#aee22e"/><stop offset="1" stop-color="#aae22e"/></linearGradient>
<linearGradient id="g105"><stop offset="0" stop-color="#0f057d"/><stop offset="0.1729" stop-color="#0f057d"/><stop offset="0.1749" stop-color="#0f057e"/><stop offset="0.1827" stop-color="#1309a4"/><stop offset="0.1943" stop-color="#1e0fe6"/><stop offset="0.204" stop-color="#2314f5"/><stop offset="0.2176" stop-color="#282cfa"/><stop offset="0.2274" stop-color="#3354ec"/><stop offset="0.2351" stop-color="#3c7ac4"/><stop offset="0.2449" stop-color="#3c9584"/><stop offset="0.2546" stop-color="#4ab253"/><stop offset="0.2721" stop-color="#64c82d"/><stop offset="0.2876" stop-color="#7ad12a"/><stop offset="0.3498" stop-color="#8bd829"/><stop offset="1" stop-color="#83d529"/></linearGradient>
<linearGradient id="g106"><stop offset="0" stop-color="#0f057d"/><stop offset="0.1866" stop-color="#0f057d"/><stop offset="0.1885" stop-color="#0f057f"/><stop offset="0.2021" stop-color="#150aae"/><stop offset="0.2138" stop-color="#1e0fe6"/><stop offset="0.2235" stop-color="#2314f4"/><stop offset="0.2449" stop-color="#282cfa"/><stop offset="0.2526" stop-color="#3049f2"/><stop offset="0.2585" stop-color="#355de3"/><stop offset="0.2682" stop-color="#3c7ac4"/><stop offset="0.2876" stop-color="#3f9c78"/><stop offset="0.3206" stop-color="#4bb450"/><stop offset="0.3498" stop-color="#5cc238"/><stop offset="1" stop-color="#4ab253"/></linearGradient>
<linearGradient id="g107"><stop offset="0" stop-color="#0f057d"/><stop offset="0.206" stop-color="#0f057d"/><stop offset="0.241" stop-color="#1e0fe7"/><stop offset="0.2546" stop-color="#2314f5"/><stop offset="0.2876" stop-color="#272af9"/><stop offset="0.2934" stop-color="#282dfa"/><stop offset="0.3245" stop-color="#3251ef"/><stop offset="0.3498" stop-color="#3b75cb"/><stop offset="0.513" stop-color="#3a6fd1"/><stop offset="1" stop-color="#3251ef"/></linearGradient>
<linearGradient id="g108"><stop offset="0" stop-color="#0f057d"/><stop offset="0.2274" stop-color="#0f057d"/><stop offset="0.2487" stop-color="#1309a4"/><stop offset="0.2546" stop-color="#160bb3"/><stop offset="0.2837" stop-color="#1e0fe6"/><stop offset="0.3304" stop-color="#2314f5"/><stop offset="0.3498" stop-color="#2419f6"/><stop offset="0.6704" stop-color="#2314f5"/><stop offset="1" stop-color="#2011ec"/></linearGradient>
<linearGradient id="g109"><stop offset="0" stop-color="#0f057d"/><stop offset="0.2643" stop-color="#0f057d"/><stop offset="0.2876" stop-color="#120895"/><stop offset="0.3245" stop-color="#140aa9"/><stop offset="0.3498" stop-color="#180cc0"/><stop offset="0.4916" stop-color="#12089a"/><stop offset="0.5441" stop-color="#100687"/><stop offset="0.6821" stop-color="#0f057d"/><stop offset="1" stop-color="#0f057d"/></linearGradient>
<linearGradient id="cb0" x1="0" y1="0" x2="0" y2="1"><stop offset="0.0000" stop-color="#de2018"/><stop offset="0.0597" stop-color="#f82c10"/><stop offset="0.1074" stop-color="#fa5014"/><stop offset="0.1408" stop-color="#fa691e"/><stop offset="0.2124" stop-color="#f59628"/><stop offset="0.2840" stop-color="#eec332"/><stop offset="0.3317" stop-color="#e8e137"/><stop offset="0.3795" stop-color="#c8e632"/><stop offset="0.4272" stop-color="#a5e12d"/><stop offset="0.4988" stop-color="#87d728"/><stop offset="0.5704" stop-color="#64c82d"/><stop offset="0.6181" stop-color="#4bb450"/><stop offset="0.6659" stop-color="#3c9682"/><stop offset="0.7136" stop-color="#3c78c8"/><stop offset="0.7470" stop-color="#3250f0"/><stop offset="0.7852" stop-color="#282dfa"/><stop offset="0.8568" stop-color="#2314f5"/><stop offset="0.8950" stop-color="#1e0fe6"/><stop offset="0.9427" stop-color="#140aaa"/><stop offset="1.0000" stop-color="#0f057d"/></linearGradient>
<clipPath id="cpa1"><rect x="376.20" y="18.00" width="257.30" height="46.00"/></clipPath>
<clipPath id="cpb1"><rect x="376.20" y="72.00" width="257.30" height="46.40"/></clipPath>
<clipPath id="cpc1"><rect x="376.20" y="126.00" width="257.30" height="46.40"/></clipPath>
<clipPath id="cpd1"><rect x="376.20" y="180.20" width="257.30" height="46.20"/></clipPath>
<linearGradient id="g116"><stop offset="0" stop-color="#0f057d"/><stop offset="0.8144" stop-color="#0f057d"/><stop offset="0.8375" stop-color="#140aa7"/><stop offset="0.8605" stop-color="#1e0fe7"/><stop offset="0.8798" stop-color="#2315f5"/><stop offset="0.9143" stop-color="#282cfa"/><stop offset="0.9374" stop-color="#3250f0"/><stop offset="0.9643" stop-color="#3c79c6"/><stop offset="0.9873" stop-color="#3c8a9e"/><stop offset="1" stop-color="#3c8a9e"/></linearGradient>
<linearGradient id="g117"><stop offset="0" stop-color="#0f057d"/><stop offset="0.7799" stop-color="#0f057d"/><stop offset="0.8029" stop-color="#150aad"/><stop offset="0.8221" stop-color="#1e0fe6"/><stop offset="0.8413" stop-color="#2316f5"/><stop offset="0.8721" stop-color="#282bfa"/><stop offset="0.8951" stop-color="#324ff0"/><stop offset="0.9182" stop-color="#3c7bc2"/><stop offset="0.9489" stop-color="#3c9781"/><stop offset="0.9873" stop-color="#4ab155"/><stop offset="1" stop-color="#4ab155"/></linearGradient>
<linearGradient id="g118"><stop offset="0" stop-color="#0f057d"/><stop offset="0.7683" stop-color="#0f057d"/><stop offset="0.7722" stop-color="#100684"/><stop offset="0.776" stop-color="#140aa7"/><stop offset="0.7799" stop-color="#1c0eda"/><stop offset="0.7837" stop-color="#1e0fe6"/><stop offset="0.7991" stop-color="#2314f4"/><stop offset="0.8337" stop-color="#282dfa"/><stop offset="0.8529" stop-color="#324ff0"/><stop offset="0.8721" stop-color="#3c77c9"/><stop offset="0.9028" stop-color="#3c9780"/><stop offset="0.9335" stop-color="#4bb351"/><stop offset="0.9796" stop-color="#64c82d"/><stop offset="1" stop-color="#68ca2c"/></linearGradient>
<linearGradient id="g119"><stop offset="0" stop-color="#0f057d"/><stop offset="0.7607" stop-color="#0f057d"/><stop offset="0.7645" stop-color="#11078c"/><stop offset="0.7683" stop-color="#160bb5"/><stop offset="0.7722" stop-color="#1f10e8"/><stop offset="0.776" stop-color="#2316f5"/><stop offset="0.7799" stop-color="#2623f8"/><stop offset="0.7914" stop-color="#282cfa"/><stop offset="0.8106" stop-color="#314ef1"/><stop offset="0.8298" stop-color="#3c78c7"/><stop offset="0.8567" stop-color="#3c9583"/><stop offset="0.8874" stop-color="#4bb351"/><stop offset="0.9066" stop-color="#59bf3d"/><stop offset="0.9259" stop-color="#66c92d"/><stop offset="0.9873" stop-color="#84d628"/><stop offset="1" stop-color="#84d628"/></linearGradient>
<linearGradient id="g120"><stop offset="0" stop-color="#0f057d"/><stop offset="0.753" stop-color="#0f057d"/><stop offset="0.7568" stop-color="#120895"/><stop offset="0.7607" stop-color="#190cc6"/><stop offset="0.7645" stop-color="#2112ee"/><stop offset="0.7722" stop-color="#2729f9"/><stop offset="0.776" stop-color="#2f44f3"/><stop offset="0.7799" stop-color="#3868d8"/><stop offset="0.7876" stop-color="#3c79c5"/><stop offset="0.8183" stop-color="#3f9c78"/><stop offset="0.8413" stop-color="#4bb451"/><stop offset="0.8721" stop-color="#62c72f"/><stop offset="0.9412" stop-color="#8bd829"/><stop offset="1" stop-color="#9bde2b"/></linearGradient>
<linearGradient id="g121"><stop offset="0" stop-color="#0f057d"/><stop offset="0.7453" stop-color="#0f057d"/><stop offset="0.7491" stop-color="#13099f"/><stop offset="0.753" stop-color="#1c0ed9"/><stop offset="0.7568" stop-color="#2314f4"/><stop offset="0.7645" stop-color="#2a35f8"/><stop offset="0.7683" stop-color="#3459e7"/><stop offset="0.7722" stop-color="#3c7dbc"/><stop offset="0.776" stop-color="#3c918e"/><stop offset="0.7799" stop-color="#43a46b"/><stop offset="0.7952" stop-color="#4bb450"/><stop offset="0.826" stop-color="#64c82d"/><stop offset="0.8874" stop-color="#8bd829"/><stop offset="0.9873" stop-color="#b9e430"/><stop offset="1" stop-color="#b9e430"/></linearGradient>
<linearGradient id="g122"><stop offset="0" stop-color="#0f057d"/><stop offset="0.7376" stop-color="#0f057d"/><stop offset="0.7415" stop-color="#140aab"/><stop offset="0.7453" stop-color="#1f10e8"/><stop offset="0.7491" stop-color="#241af6"/><stop offset="0.753" stop-color="#2729f9"/><stop offset="0.7568" stop-color="#3049f2"/><stop offset="0.7607" stop-color="#3b74cc"/><stop offset="0.7645" stop-color="#3c8c9a"/><stop offset="0.7683" stop-color="#41a071"/><stop offset="0.7722" stop-color="#4ab352"/><stop offset="0.7799" stop-color="#66c92d"/><stop offset="0.8298" stop-color="#88d728"/><stop offset="0.8913" stop-color="#a5e12d"/><stop offset="0.9412" stop-color="#c7e632"/><stop offset="0.9873" stop-color="#dbe335"/><stop offset="1" stop-color="#dbe335"/></linearGradient>
<linearGradient id="g123"><stop offset="0" stop-color="#0f057d"/><stop offset="0.5955" stop-color="#0f057d"/><stop offset="0.6569" stop-color="#140aab"/><stop offset="0.7069" stop-color="#1e0fe4"/><stop offset="0.7376" stop-color="#2112f0"/><stop offset="0.7415" stop-color="#2621f8"/><stop offset="0.7453" stop-color="#2b37f7"/><stop offset="0.7491" stop-color="#3762de"/><stop offset="0.753" stop-color="#3c85aa"/><stop offset="0.7568" stop-color="#3f9b79"/><stop offset="0.7607" stop-color="#49b057"/><stop offset="0.7683" stop-color="#66c92d"/><stop offset="0.7799" stop-color="#89d828"/><stop offset="0.8337" stop-color="#a5e12d"/><stop offset="0.899" stop-color="#d2e434"/><stop offset="0.9412" stop-color="#e8e137"/><stop offset="1" stop-color="#ebd034"/></linearGradient>
<linearGradient id="g124"><stop offset="0" stop-color="#0f057d"/><stop offset="0.5763" stop-color="#0f057d"/><stop offset="0.5839" stop-color="#140aa8"/><stop offset="0.5916" stop-color="#1e0fe6"/><stop offset="0.5955" stop-color="#2112f0"/><stop offset="0.6915" stop-color="#282dfa"/><stop offset="0.7376" stop-color="#314ef1"/><stop offset="0.7415" stop-color="#3c7dbc"/><stop offset="0.7453" stop-color="#3c9682"/><stop offset="0.7491" stop-color="#47ad5c"/><stop offset="0.753" stop-color="#56bd40"/><stop offset="0.7568" stop-color="#66c92d"/><stop offset="0.7683" stop-color="#8cd929"/><stop offset="0.7799" stop-color="#a6e12d"/><stop offset="0.8221" stop-color="#c8e632"/><stop offset="0.8644" stop-color="#e1e236"/><stop offset="0.8798" stop-color="#e8df37"/><stop offset="0.9412" stop-color="#eec432"/><stop offset="1" stop-color="#f0b52f"/></linearGradient>
<linearGradient id="g125"><stop offset="0" stop-color="#0f057d"/><stop offset="0.557" stop-color="#0f057d"/><stop offset="0.5647" stop-color="#140aad"/><stop offset="0.5686" stop-color="#1a0dcf"/><stop offset="0.5724" stop-color="#1f10e9"/><stop offset="0.5763" stop-color="#2213f3"/><stop offset="0.5878" stop-color="#282bfa"/><stop offset="0.5955" stop-color="#314ef1"/><stop offset="0.6339" stop-color="#3c77c9"/><stop offset="0.6954" stop-color="#3c9682"/><stop offset="0.7376" stop-color="#45a963"/><stop offset="0.7415" stop-color="#55bc42"/><stop offset="0.7453" stop-color="#66c92d"/><stop offset="0.7568" stop-color="#8fda29"/><stop offset="0.7645" stop-color="#a2e02c"/><stop offset="0.776" stop-color="#c9e632"/><stop offset="0.7799" stop-color="#d4e434"/><stop offset="0.8144" stop-color="#e8e037"/><stop offset="0.9297" stop-color="#f1ad2d"/><stop offset="1" stop-color="#f49c29"/></linearGradient>
<linearGradient id="g126"><stop offset="0" stop-color="#0f057d"/><stop offset="0.5378" stop-color="#0f057d"/><stop offset="0.5455" stop-color="#150bb3"/><stop offset="0.5494" stop-color="#1c0ed8"/><stop offset="0.5532" stop-color="#2011ed"/><stop offset="0.557" stop-color="#2316f5"/><stop offset="0.5647" stop-color="#2728f9"/><stop offset="0.5724" stop-color="#3049f2"/><stop offset="0.5801" stop-color="#3c79c6"/><stop offset="0.5878" stop-color="#3c918d"/><stop offset="0.5955" stop-color="#45a864"/><stop offset="0.6531" stop-color="#5cc139"/><stop offset="0.6761" stop-color="#64c82d"/><stop offset="0.7376" stop-color="#77d02a"/><stop offset="0.753" stop-color="#a7e12d"/><stop offset="0.7607" stop-color="#c6e632"/><stop offset="0.7722" stop-color="#e8e037"/><stop offset="0.776" stop-color="#ead735"/><stop offset="0.7799" stop-color="#eccf34"/><stop offset="0.7876" stop-color="#eccb33"/><stop offset="0.8759" stop-color="#f3a52b"/><stop offset="0.9412" stop-color="#f69027"/><stop offset="1" stop-color="#f78524"/></linearGradient>
<linearGradient id="g127"><stop offset="0" stop-color="#0f057d"/><stop offset="0.4994" stop-color="#0f057d"/><stop offset="0.5109" stop-color="#1309a5"/><stop offset="0.5225" stop-color="#1d0ee0"/><stop offset="0.5263" stop-color="#1f10ea"/><stop offset="0.5378" stop-color="#241bf6"/><stop offset="0.5455" stop-color="#282dfa"/><stop offset="0.5494" stop-color="#2f44f3"/><stop offset="0.5532" stop-color="#355de3"/><stop offset="0.557" stop-color="#3c78c8"/><stop offset="0.5647" stop-color="#3c928b"/><stop offset="0.5724" stop-color="#46aa60"/><stop offset="0.5763" stop-color="#4cb54e"/><stop offset="0.5878" stop-color="#66c92d"/><stop offset="0.5955" stop-color="#75cf2b"/><stop offset="0.6377" stop-color="#87d728"/><stop offset="0.7376" stop-color="#a1e02c"/><stop offset="0.7453" stop-color="#c1e531"/><stop offset="0.7568" stop-color="#e8e037"/><stop offset="0.7683" stop-color="#eec332"/><stop offset="0.7799" stop-color="#f1ad2d"/><stop offset="0.826" stop-color="#f49b29"/><stop offset="0.9412" stop-color="#f87922"/><stop offset="1" stop-color="#f97020"/></linearGradient>
<linearGradient id="g128"><stop offset="0" stop-color="#0f057d"/><stop offset="0.461" stop-color="#0f057d"/><stop offset="0.4725" stop-color="#1309a3"/><stop offset="0.4841" stop-color="#1d0edf"/><stop offset="0.4879" stop-color="#2011eb"/><stop offset="0.4956" stop-color="#2316f5"/><stop offset="0.5109" stop-color="#282cfa"/><stop offset="0.5225" stop-color="#3251ef"/><stop offset="0.5302" stop-color="#3b72ce"/><stop offset="0.5378" stop-color="#3c86a7"/><stop offset="0.5417" stop-color="#3c9487"/><stop offset="0.5494" stop-color="#48ae5a"/><stop offset="0.5609" stop-color="#63c72f"/><stop offset="0.5647" stop-color="#6bcb2c"/><stop offset="0.5955" stop-color="#9fdf2c"/><stop offset="0.6531" stop-color="#bee531"/><stop offset="0.7376" stop-color="#dce335"/><stop offset="0.7415" stop-color="#e8e037"/><stop offset="0.7607" stop-color="#f1af2e"/><stop offset="0.7799" stop-color="#f68e26"/><stop offset="0.8874" stop-color="#f97020"/><stop offset="1" stop-color="#fa5b18"/></linearGradient>
<linearGradient id="g129"><stop offset="0" stop-color="#0f057d"/><stop offset="0.2843" stop-color="#0f057d"/><stop offset="0.3304" stop-color="#120894"/><stop offset="0.3458" stop-color="#160bb8"/><stop offset="0.3842" stop-color="#180cc0"/><stop offset="0.4226" stop-color="#1b0ed7"/><stop offset="0.4418" stop-color="#1a0dcd"/><stop offset="0.4495" stop-color="#1f10e8"/><stop offset="0.461" stop-color="#2315f5"/><stop offset="0.4764" stop-color="#282dfa"/><stop offset="0.4841" stop-color="#314ef1"/><stop offset="0.4917" stop-color="#3c78c7"/><stop offset="0.5071" stop-color="#3e9a7c"/><stop offset="0.5186" stop-color="#4ab253"/><stop offset="0.534" stop-color="#63c72e"/><stop offset="0.5532" stop-color="#89d828"/><stop offset="0.5724" stop-color="#a6e12d"/><stop offset="0.5878" stop-color="#c7e632"/><stop offset="0.5955" stop-color="#d5e434"/><stop offset="0.63" stop-color="#e8e037"/><stop offset="0.6531" stop-color="#ebd435"/><stop offset="0.7376" stop-color="#efbc30"/><stop offset="0.7568" stop-color="#f59327"/><stop offset="0.7799" stop-color="#f97320"/><stop offset="0.9182" stop-color="#fa5215"/><stop offset="1" stop-color="#f94613"/></linearGradient>
<linearGradient id="g130"><stop offset="0" stop-color="#0f057d"/><stop offset="0.2843" stop-color="#0f057d"/><stop offset="0.3189" stop-color="#140aaa"/><stop offset="0.3304" stop-color="#190dca"/><stop offset="0.3342" stop-color="#1f10e8"/><stop offset="0.3419" stop-color="#251cf7"/><stop offset="0.3458" stop-color="#2625f8"/><stop offset="0.388" stop-color="#282efa"/><stop offset="0.4149" stop-color="#314ef1"/><stop offset="0.4226" stop-color="#345ae6"/><stop offset="0.4303" stop-color="#324ff0"/><stop offset="0.4418" stop-color="#2e43f4"/><stop offset="0.4572" stop-color="#3457e9"/><stop offset="0.4648" stop-color="#3c7cbe"/><stop offset="0.4725" stop-color="#3c938a"/><stop offset="0.4802" stop-color="#46a962"/><stop offset="0.4917" stop-color="#5fc434"/><stop offset="0.4956" stop-color="#65c92d"/><stop offset="0.5186" stop-color="#87d728"/><stop offset="0.5417" stop-color="#a3e02d"/><stop offset="0.557" stop-color="#c6e632"/><stop offset="0.5763" stop-color="#e8e037"/><stop offset="0.5955" stop-color="#eec532"/><stop offset="0.6531" stop-color="#f2a72c"/><stop offset="0.7376" stop-color="#f69127"/><stop offset="0.7568" stop-color="#f97320"/><stop offset="0.7799" stop-color="#fa5917"/><stop offset="0.9028" stop-color="#f94012"/><stop offset="1" stop-color="#f83511"/></linearGradient>
<linearGradient id="g131"><stop offset="0" stop-color="#0f057d"/><stop offset="0.2843" stop-color="#0f057d"/><stop offset="0.3112" stop-color="#150bb1"/><stop offset="0.3227" stop-color="#1d0fe2"/><stop offset="0.3304" stop-color="#2112ef"/><stop offset="0.3381" stop-color="#282cfa"/><stop offset="0.3419" stop-color="#3354ec"/><stop offset="0.3458" stop-color="#3c80b6"/><stop offset="0.3842" stop-color="#3c928c"/><stop offset="0.4111" stop-color="#4bb450"/><stop offset="0.4226" stop-color="#57be3f"/><stop offset="0.4418" stop-color="#47ad5c"/><stop offset="0.4572" stop-color="#47ac5e"/><stop offset="0.4687" stop-color="#60c532"/><stop offset="0.4725" stop-color="#6aca2c"/><stop offset="0.4917" stop-color="#95dc2a"/><stop offset="0.5071" stop-color="#a7e12d"/><stop offset="0.5263" stop-color="#cbe632"/><stop offset="0.5455" stop-color="#e9de36"/><stop offset="0.5801" stop-color="#f1af2e"/><stop offset="0.5955" stop-color="#f49e2a"/><stop offset="0.6531" stop-color="#f78023"/><stop offset="0.7376" stop-color="#fa6d1f"/><stop offset="0.7607" stop-color="#fa5014"/><stop offset="0.7799" stop-color="#f94012"/><stop offset="0.9182" stop-color="#f82c10"/><stop offset="1" stop-color="#f42a11"/></linearGradient>
<linearGradient id="g132"><stop offset="0" stop-color="#0f057d"/><stop offset="0.2843" stop-color="#0f057d"/><stop offset="0.3035" stop-color="#140aab"/><stop offset="0.3189" stop-color="#1f10ea"/><stop offset="0.3304" stop-color="#251cf7"/><stop offset="0.3342" stop-color="#2a32f8"/><stop offset="0.3381" stop-color="#396bd5"/><stop offset="0.3419" stop-color="#3c9486"/><stop offset="0.3458" stop-color="#4db64d"/><stop offset="0.3842" stop-color="#61c631"/><stop offset="0.4226" stop-color="#90da2a"/><stop offset="0.4572" stop-color="#72ce2b"/><stop offset="0.4802" stop-color="#a4e12d"/><stop offset="0.4917" stop-color="#cde533"/><stop offset="0.5109" stop-color="#e9de36"/><stop offset="0.5494" stop-color="#f2aa2c"/><stop offset="0.5955" stop-color="#f87e23"/><stop offset="0.6531" stop-color="#fa5f1a"/><stop offset="0.7376" stop-color="#fa4a13"/><stop offset="0.7799" stop-color="#f82c10"/><stop offset="1" stop-color="#ed2713"/></linearGradient>
<linearGradient id="g133"><stop offset="0" stop-color="#0f057d"/><stop offset="0.2843" stop-color="#0f057d"/><stop offset="0.2997" stop-color="#140aa8"/><stop offset="0.315" stop-color="#1f10ea"/><stop offset="0.3227" stop-color="#2418f6"/><stop offset="0.3304" stop-color="#2726f9"/><stop offset="0.3342" stop-color="#3458e8"/><stop offset="0.3381" stop-color="#3c9090"/><stop offset="0.3419" stop-color="#4fb74a"/><stop offset="0.3458" stop-color="#70cd2b"/><stop offset="0.3842" stop-color="#86d628"/><stop offset="0.4072" stop-color="#a3e02d"/><stop offset="0.4226" stop-color="#c5e632"/><stop offset="0.438" stop-color="#a6e12d"/><stop offset="0.4572" stop-color="#93db2a"/><stop offset="0.4648" stop-color="#a3e02d"/><stop offset="0.4764" stop-color="#cbe632"/><stop offset="0.4841" stop-color="#e4e236"/><stop offset="0.4917" stop-color="#eccc34"/><stop offset="0.5378" stop-color="#f69027"/><stop offset="0.5955" stop-color="#fa641c"/><stop offset="0.6531" stop-color="#f94212"/><stop offset="0.7415" stop-color="#f82c10"/><stop offset="0.7683" stop-color="#f12912"/><stop offset="1" stop-color="#e72415"/></linearGradient>
<linearGradient id="g134"><stop offset="0" stop-color="#0f057d"/><stop offset="0.2843" stop-color="#0f057d"/><stop offset="0.2997" stop-color="#150aad"/><stop offset="0.3112" stop-color="#1e0fe6"/><stop offset="0.3189" stop-color="#2316f5"/><stop offset="0.3304" stop-color="#282dfa"/><stop offset="0.3342" stop-color="#3c78c8"/><stop offset="0.3381" stop-color="#44a569"/><stop offset="0.3419" stop-color="#64c82d"/><stop offset="0.3458" stop-color="#87d728"/><stop offset="0.3842" stop-color="#9bde2b"/><stop offset="0.3919" stop-color="#a7e12d"/><stop offset="0.4034" stop-color="#c3e531"/><stop offset="0.4187" stop-color="#e7e137"/><stop offset="0.4226" stop-color="#e9da36"/><stop offset="0.4264" stop-color="#e7e137"/><stop offset="0.4418" stop-color="#c8e632"/><stop offset="0.4572" stop-color="#a8e12d"/><stop offset="0.4725" stop-color="#dfe236"/><stop offset="0.4764" stop-color="#e9de36"/><stop offset="0.4917" stop-color="#f1ad2d"/><stop offset="0.5378" stop-color="#f97521"/><stop offset="0.5955" stop-color="#fa5014"/><stop offset="0.6531" stop-color="#f82e10"/><stop offset="0.7683" stop-color="#ea2514"/><stop offset="1" stop-color="#e42316"/></linearGradient>
<linearGradient id="g135"><stop offset="0" stop-color="#0f057d"/><stop offset="0.2843" stop-color="#0f057d"/><stop offset="0.2997" stop-color="#150bb1"/><stop offset="0.3112" stop-color="#1f10e8"/><stop offset="0.3189" stop-color="#2418f6"/><stop offset="0.3265" stop-color="#2728f9"/><stop offset="0.3304" stop-color="#2b36f7"/><stop offset="0.3342" stop-color="#3c80b5"/><stop offset="0.3381" stop-color="#49af58"/><stop offset="0.3419" stop-color="#6ecc2c"/><stop offset="0.3458" stop-color="#91da2a"/><stop offset="0.3842" stop-color="#a6e12d"/><stop offset="0.3957" stop-color="#c4e531"/><stop offset="0.4111" stop-color="#e8e137"/><stop offset="0.4226" stop-color="#edc733"/><stop offset="0.438" stop-color="#e3e236"/><stop offset="0.4572" stop-color="#b8e430"/><stop offset="0.4687" stop-color="#e1e236"/><stop offset="0.4725" stop-color="#e9db36"/><stop offset="0.4917" stop-color="#f49e2a"/><stop offset="0.5378" stop-color="#fa691e"/><stop offset="0.5801" stop-color="#fa5014"/><stop offset="0.6416" stop-color="#f82c10"/><stop offset="0.7683" stop-color="#e72415"/><stop offset="1" stop-color="#e22217"/></linearGradient>
<linearGradient id="g136"><stop offset="0" stop-color="#0f057d"/><stop offset="0.2843" stop-color="#0f057d"/><stop offset="0.2997" stop-color="#150bb1"/><stop offset="0.3112" stop-color="#1f10e8"/><stop offset="0.3189" stop-color="#2418f6"/><stop offset="0.3265" stop-color="#2728f9"/><stop offset="0.3304" stop-color="#2b36f7"/><stop offset="0.3342" stop-color="#3c80b4"/><stop offset="0.3381" stop-color="#49af58"/><stop offset="0.3419" stop-color="#6ecc2c"/><stop offset="0.3458" stop-color="#91da2a"/><stop offset="0.3842" stop-color="#a6e12d"/><stop offset="0.3957" stop-color="#c4e531"/><stop offset="0.4111" stop-color="#e8e137"/><stop offset="0.4226" stop-color="#edc733"/><stop offset="0.438" stop-color="#e3e236"/><stop offset="0.4572" stop-color="#b9e430"/><stop offset="0.4687" stop-color="#e1e236"/><stop offset="0.4725" stop-color="#e9db36"/><stop offset="0.4917" stop-color="#f49e2a"/><stop offset="0.5378" stop-color="#fa691e"/><stop offset="0.5801" stop-color="#fa5014"/><stop offset="0.6416" stop-color="#f82c10"/><stop offset="0.7683" stop-color="#e72415"/><stop offset="1" stop-color="#e32217"/></linearGradient>
<linearGradient id="g137"><stop offset="0" stop-color="#0f057d"/><stop offset="0.2843" stop-color="#0f057d"/><stop offset="0.2997" stop-color="#150ab0"/><stop offset="0.3112" stop-color="#1e0fe7"/><stop offset="0.3189" stop-color="#2418f6"/><stop offset="0.3265" stop-color="#2728f9"/><stop offset="0.3304" stop-color="#2a34f8"/><stop offset="0.3342" stop-color="#3c7eba"/><stop offset="0.3381" stop-color="#47ad5c"/><stop offset="0.3419" stop-color="#6bcb2c"/><stop offset="0.3458" stop-color="#8ed929"/><stop offset="0.3842" stop-color="#a3e02d"/><stop offset="0.3995" stop-color="#c8e632"/><stop offset="0.4111" stop-color="#e3e236"/><stop offset="0.4226" stop-color="#eccd34"/><stop offset="0.4341" stop-color="#e5e137"/><stop offset="0.4572" stop-color="#b3e32f"/><stop offset="0.4725" stop-color="#e8e037"/><stop offset="0.4917" stop-color="#f3a32b"/><stop offset="0.5378" stop-color="#fa6c1f"/><stop offset="0.5839" stop-color="#fa5114"/><stop offset="0.6454" stop-color="#f82d10"/><stop offset="0.7683" stop-color="#e92515"/><stop offset="1" stop-color="#e42316"/></linearGradient>
<linearGradient id="g138"><stop offset="0" stop-color="#0f057d"/><stop offset="0.2843" stop-color="#0f057d"/><stop offset="0.2997" stop-color="#140aac"/><stop offset="0.3112" stop-color="#1e0fe4"/><stop offset="0.3189" stop-color="#2315f5"/><stop offset="0.3304" stop-color="#282cfa"/><stop offset="0.3342" stop-color="#3b73cd"/><stop offset="0.3381" stop-color="#42a16f"/><stop offset="0.3419" stop-color="#60c532"/><stop offset="0.3458" stop-color="#83d529"/><stop offset="0.3842" stop-color="#98dd2b"/><stop offset="0.3957" stop-color="#a9e22e"/><stop offset="0.4072" stop-color="#c5e632"/><stop offset="0.4226" stop-color="#e8e137"/><stop offset="0.438" stop-color="#c9e632"/><stop offset="0.4572" stop-color="#a2e02c"/><stop offset="0.4687" stop-color="#c9e632"/><stop offset="0.4764" stop-color="#e4e236"/><stop offset="0.4917" stop-color="#f0b32e"/><stop offset="0.5378" stop-color="#f87821"/><stop offset="0.6531" stop-color="#f83311"/><stop offset="0.7683" stop-color="#ee2813"/><stop offset="1" stop-color="#e92515"/></linearGradient>
<linearGradient id="g139"><stop offset="0" stop-color="#0f057d"/><stop offset="0.2843" stop-color="#0f057d"/><stop offset="0.2997" stop-color="#140aa6"/><stop offset="0.315" stop-color="#1f10e8"/><stop offset="0.3227" stop-color="#2316f5"/><stop offset="0.3304" stop-color="#2623f8"/><stop offset="0.3342" stop-color="#314cf1"/><stop offset="0.3381" stop-color="#3c87a4"/><stop offset="0.3419" stop-color="#48af59"/><stop offset="0.3458" stop-color="#67c92d"/><stop offset="0.3842" stop-color="#7cd22a"/><stop offset="0.4149" stop-color="#a4e12d"/><stop offset="0.4226" stop-color="#b3e32f"/><stop offset="0.4303" stop-color="#a5e12d"/><stop offset="0.4572" stop-color="#87d728"/><stop offset="0.4725" stop-color="#aae22e"/><stop offset="0.4802" stop-color="#c7e632"/><stop offset="0.4879" stop-color="#e3e236"/><stop offset="0.4917" stop-color="#ead936"/><stop offset="0.5033" stop-color="#edc733"/><stop offset="0.5378" stop-color="#f59428"/><stop offset="0.5763" stop-color="#f87721"/><stop offset="0.6531" stop-color="#fa4c14"/><stop offset="0.7683" stop-color="#f83211"/><stop offset="1" stop-color="#f42a11"/></linearGradient>
<linearGradient id="g140"><stop offset="0" stop-color="#0f057d"/><stop offset="0.2843" stop-color="#0f057d"/><stop offset="0.3073" stop-color="#140aab"/><stop offset="0.3227" stop-color="#1f10e8"/><stop offset="0.3304" stop-color="#2314f4"/><stop offset="0.3342" stop-color="#2623f8"/><stop offset="0.3381" stop-color="#2d3ef5"/><stop offset="0.3419" stop-color="#3a71cf"/><stop offset="0.3458" stop-color="#3c928c"/><stop offset="0.3842" stop-color="#45a765"/><stop offset="0.4111" stop-color="#61c631"/><stop offset="0.4226" stop-color="#6ecc2c"/><stop offset="0.4341" stop-color="#64c82e"/><stop offset="0.4572" stop-color="#4cb54e"/><stop offset="0.4687" stop-color="#69ca2c"/><stop offset="0.4802" stop-color="#88d728"/><stop offset="0.4917" stop-color="#a4e12d"/><stop offset="0.5071" stop-color="#c6e632"/><stop offset="0.5225" stop-color="#e5e137"/><stop offset="0.5378" stop-color="#edc833"/><stop offset="0.5763" stop-color="#f49f2a"/><stop offset="0.6531" stop-color="#f87821"/><stop offset="0.7683" stop-color="#fa5c19"/><stop offset="1" stop-color="#f94713"/></linearGradient>
<linearGradient id="g141"><stop offset="0" stop-color="#0f057d"/><stop offset="0.2843" stop-color="#0f057d"/><stop offset="0.3112" stop-color="#120895"/><stop offset="0.3265" stop-color="#140aa9"/><stop offset="0.3304" stop-color="#150bb1"/><stop offset="0.3381" stop-color="#1e0fe6"/><stop offset="0.3458" stop-color="#2316f5"/><stop offset="0.3842" stop-color="#251df7"/><stop offset="0.4226" stop-color="#2931f9"/><stop offset="0.461" stop-color="#2727f9"/><stop offset="0.4648" stop-color="#2a33f8"/><stop offset="0.4687" stop-color="#3048f2"/><stop offset="0.4725" stop-color="#3661df"/><stop offset="0.4764" stop-color="#3c7bc1"/><stop offset="0.4841" stop-color="#3d997e"/><stop offset="0.4917" stop-color="#4db64d"/><stop offset="0.5033" stop-color="#68ca2c"/><stop offset="0.5186" stop-color="#87d728"/><stop offset="0.5417" stop-color="#ade22e"/><stop offset="0.557" stop-color="#cbe632"/><stop offset="0.5763" stop-color="#e8df37"/><stop offset="0.6531" stop-color="#f0b72f"/><stop offset="0.7683" stop-color="#f59828"/><stop offset="1" stop-color="#f87a22"/></linearGradient>
<linearGradient id="g142"><stop offset="0" stop-color="#0f057d"/><stop offset="0.4725" stop-color="#0f057d"/><stop offset="0.4764" stop-color="#0f057f"/><stop offset="0.4841" stop-color="#140aa9"/><stop offset="0.4917" stop-color="#1f10e8"/><stop offset="0.4994" stop-color="#2419f6"/><stop offset="0.5071" stop-color="#272af9"/><stop offset="0.5148" stop-color="#314cf1"/><stop offset="0.5225" stop-color="#3c7bc1"/><stop offset="0.5302" stop-color="#3c9486"/><stop offset="0.5378" stop-color="#47ac5d"/><stop offset="0.5417" stop-color="#4db64d"/><stop offset="0.5532" stop-color="#66c92d"/><stop offset="0.5763" stop-color="#8dd929"/><stop offset="0.7146" stop-color="#c8e632"/><stop offset="0.7683" stop-color="#dbe335"/><stop offset="0.8221" stop-color="#e8e037"/><stop offset="1" stop-color="#efbe31"/></linearGradient>
<linearGradient id="g143"><stop offset="0" stop-color="#0f057d"/><stop offset="0.5225" stop-color="#0f057d"/><stop offset="0.5263" stop-color="#0f057e"/><stop offset="0.534" stop-color="#140aa8"/><stop offset="0.5417" stop-color="#1e0fe7"/><stop offset="0.5494" stop-color="#2418f6"/><stop offset="0.5609" stop-color="#2931f9"/><stop offset="0.5686" stop-color="#3458e8"/><stop offset="0.5763" stop-color="#3c7fb8"/><stop offset="0.6147" stop-color="#3c9682"/><stop offset="0.6531" stop-color="#48ae5a"/><stop offset="0.7299" stop-color="#64c82d"/><stop offset="0.849" stop-color="#88d728"/><stop offset="1" stop-color="#a4e12d"/></linearGradient>
<linearGradient id="g144"><stop offset="0" stop-color="#0f057d"/><stop offset="0.5763" stop-color="#0f057d"/><stop offset="0.63" stop-color="#140aab"/><stop offset="0.6761" stop-color="#1e0fe7"/><stop offset="0.7146" stop-color="#2315f5"/><stop offset="0.7876" stop-color="#282cfa"/><stop offset="0.8375" stop-color="#3352ee"/><stop offset="0.8798" stop-color="#3c79c6"/><stop offset="0.9451" stop-color="#3c9781"/><stop offset="0.9873" stop-color="#45a962"/><stop offset="1" stop-color="#45a962"/></linearGradient>
<linearGradient id="g145"><stop offset="0" stop-color="#0f057d"/><stop offset="0.8913" stop-color="#0f057d"/><stop offset="0.9489" stop-color="#140aab"/><stop offset="0.9873" stop-color="#1c0ed9"/><stop offset="1" stop-color="#1c0ed9"/></linearGradient>
<mask id="mk1" maskUnits="userSpaceOnUse" x="373.2" y="18.0" width="263.3" height="49.0"><g fill="none" stroke="#fff" stroke-width="2.9" stroke-linecap="round" stroke-linejoin="round"><path d="M376.2 32.4L376.6 32.9L377.0 33.6L377.4 34.4L377.8 35.3L378.2 36.5L378.6 37.8L379.0 39.2L379.4 40.9L379.8 42.7L380.3 44.8L380.7 47.0L381.1 49.4L381.5 52.0L381.9 54.9L382.3 57.9L382.7 61.1L383.1 64.6"/><path d="M376.1 64.6L376.5 61.1L376.9 57.7L377.3 54.6L377.7 51.7L378.1 49.0L378.5 46.5L379.0 44.2L379.4 42.1L379.8 40.2L380.2 38.4L380.6 36.9L381.0 35.5L381.4 34.3L381.8 33.3L382.2 32.4L382.6 31.7L383.0 31.1L383.4 30.7L383.8 30.4L384.2 30.2L384.6 30.1L385.0 30.1L385.4 30.2L385.8 30.4L386.2 30.7L386.6 31.1L387.0 31.7L387.4 32.4L387.8 33.3L388.2 34.3L388.6 35.5L389.0 36.9L389.4 38.4L389.8 40.2L390.2 42.1L390.6 44.2L391.1 46.5L391.5 49.0L391.9 51.7L392.3 54.6L392.7 57.7L393.1 61.1L393.5 64.6"/><path d="M385.8 64.6L386.2 60.7L386.7 57.1L387.1 53.7L387.6 50.6L388.0 47.7L388.5 45.1"/><path d="M401.5 52.6L402.0 56.3L402.5 60.3L403.0 64.6"/><path d="M396.3 64.6L396.7 60.9L397.1 57.4L397.5 54.2L398.0 51.2L398.4 48.4L398.8 45.8L399.2 43.5L399.7 41.3L400.1 39.4L400.5 37.7L400.9 36.2L401.4 34.9L401.8 33.7"/><path d="M404.8 64.6L405.2 61.0L405.6 57.5L406.0 54.3L406.4 51.3L406.8 48.5L407.2 45.9L407.7 43.5L408.1 41.3L408.5 39.3L408.9 37.5L409.3 35.8L409.7 34.4L410.1 33.1L410.5 32.0L410.9 31.0L411.3 30.2L411.7 29.6L412.1 29.1L412.5 28.7L412.9 28.5L413.3 28.3L413.7 28.3L414.1 28.3L414.5 28.5L414.9 28.7L415.3 29.1L415.7 29.6L416.1 30.2L416.5 31.0L416.9 32.0L417.3 33.1L417.7 34.4L418.1 35.8L418.5 37.5L418.9 39.3L419.3 41.3L419.7 43.5L420.2 45.9L420.6 48.5L421.0 51.3L421.4 54.3L421.8 57.5L422.2 61.0L422.6 64.6"/><path d="M414.9 64.6L415.3 61.3L415.7 58.2L416.1 55.2L416.5 52.5L416.9 50.0L417.3 47.7L417.8 45.6L418.2 43.7L418.6 42.0L419.0 40.4L419.4 39.0L419.8 37.8L420.2 36.8L420.6 35.9L421.0 35.2L421.4 34.6L421.8 34.2L422.2 33.9L422.6 33.7L423.0 33.6L423.4 33.6L423.8 33.7L424.2 33.9L424.6 34.2L425.0 34.6L425.4 35.2L425.8 35.9L426.2 36.8L426.6 37.8L427.0 39.0L427.4 40.4L427.8 41.9L428.2 43.7L428.6 45.6L429.0 47.7L429.4 50.0L429.9 52.5"/><path d="M424.6 64.6L425.0 61.3L425.4 58.2L425.8 55.2L426.2 52.5L426.6 50.0L427.0 47.7L427.5 45.6L427.9 43.7L428.3 41.9L428.7 40.4L429.1 39.0L429.5 37.8L429.9 36.8L430.3 35.9L430.7 35.2L431.1 34.6L431.5 34.2L431.9 33.9L432.3 33.7L432.7 33.6L433.1 33.6L433.5 33.7L433.9 33.9L434.3 34.2L434.7 34.6L435.1 35.2L435.5 35.9L435.9 36.8L436.3 37.8L436.7 39.0L437.1 40.4L437.5 41.9L437.9 43.7L438.3 45.6L438.8 47.7L439.2 50.0L439.6 52.5L440.0 55.2L440.4 58.2L440.8 61.3L441.2 64.6"/><path d="M450.6 61.1L451.0 64.6"/><path d="M443.8 64.6L444.2 60.8L444.7 57.2L445.1 53.9"/><path d="M459.8 59.1L460.4 64.6"/><path d="M454.5 64.6L454.9 61.2L455.3 58.1L455.7 55.1L456.1 52.3L456.5 49.8L456.9 47.5L457.3 45.3L457.7 43.3L458.1 41.6L458.5 40.0L458.9 38.6L459.3 37.4L459.8 36.3L460.2 35.4L460.6 34.7L461.0 34.1L461.4 33.7L461.8 33.4L462.2 33.2L462.6 33.1L463.0 33.1L463.4 33.2L463.8 33.4L464.2 33.7L464.6 34.1L465.0 34.7L465.4 35.4L465.8 36.3L466.3 37.4L466.7 38.6L467.1 40.0L467.5 41.6L467.9 43.3L468.3 45.3L468.7 47.5L469.1 49.8L469.5 52.3L469.9 55.1L470.3 58.1L470.7 61.2L471.1 64.6"/><path d="M462.8 64.6L463.2 61.3L463.6 58.2L464.0 55.2L464.4 52.5L464.8 50.0L465.2 47.7L465.7 45.6L466.1 43.7L466.5 41.9L466.9 40.4L467.3 39.0L467.7 37.8L468.1 36.8L468.5 35.9L468.9 35.2L469.3 34.6L469.7 34.2L470.1 33.9L470.5 33.7L470.9 33.6L471.3 33.6L471.7 33.7L472.1 33.9L472.5 34.2L472.9 34.6L473.3 35.2L473.7 35.9L474.1 36.8L474.5 37.8L474.9 39.0L475.3 40.4L475.7 41.9L476.1 43.7L476.5 45.6L477.0 47.7L477.4 50.0L477.8 52.5L478.2 55.2L478.6 58.2L479.0 61.3L479.4 64.6"/><path d="M474.5 64.6L474.9 61.4L475.3 58.5L475.7 55.7L476.1 53.2L476.5 50.8L476.9 48.6L477.3 46.6L477.7 44.8L478.1 43.2L478.5 41.8L478.9 40.5L479.3 39.4L479.7 38.5L480.1 37.7L480.5 37.0L480.9 36.5L481.3 36.2L481.7 36.0L482.1 35.8L482.5 35.8L482.9 35.8L483.3 36.0L483.7 36.2L484.1 36.5L484.5 37.0L484.9 37.7L485.3 38.5L485.7 39.4L486.1 40.5L486.5 41.8L486.9 43.2L487.3 44.8L487.7 46.6L488.1 48.6L488.5 50.8L488.9 53.2L489.3 55.7L489.7 58.5L490.1 61.4L490.5 64.6"/><path d="M482.1 64.6L482.5 61.2L482.9 58.0L483.3 55.1L483.7 52.3L484.1 49.7L484.5 47.4L485.0 45.2L485.4 43.2L485.8 41.5L486.2 39.8L486.6 38.4L487.0 37.2L487.4 36.1L487.8 35.2L488.2 34.4L488.6 33.8L489.0 33.3L489.4 33.0"/><path d="M496.0 45.1L496.4 47.3L496.8 49.6L497.2 52.2L497.7 55.0L498.1 58.0L498.5 61.2L498.9 64.6"/><path d="M493.4 64.6L493.8 61.1L494.3 57.9L494.7 54.9L495.1 52.1L495.5 49.6L495.9 47.2L496.3 45.0L496.8 43.1"/><path d="M509.7 62.6L510.0 64.6"/><path d="M501.3 64.6L501.7 61.3L502.1 58.1L502.5 55.2L502.9 52.5L503.3 50.0L503.7 47.7L504.1 45.5L504.6 43.6"/><path d="M516.0 51.1L516.5 54.1L517.0 57.3L517.4 60.8L517.9 64.6"/><path d="M512.8 64.6L513.2 61.3L513.6 58.3L514.0 55.4L514.4 52.8L514.8 50.4L515.2 48.1L515.6 46.1L516.0 44.2L516.4 42.5L516.8 41.1L517.2 39.7L517.7 38.6L518.1 37.6L518.5 36.8L518.9 36.2L519.3 35.7L519.7 35.3L520.1 35.1L520.5 34.9L520.9 34.9L521.3 34.9L521.7 35.1L522.1 35.3L522.5 35.7L522.9 36.2L523.3 36.8L523.7 37.6L524.1 38.6L524.6 39.7L525.0 41.1L525.4 42.5L525.8 44.2L526.2 46.1L526.6 48.1L527.0 50.4L527.4 52.8L527.8 55.4L528.2 58.3L528.6 61.3L529.0 64.6"/><path d="M520.6 64.6L521.0 61.3L521.4 58.3L521.8 55.4L522.2 52.8L522.6 50.4L523.0 48.1L523.4 46.1L523.8 44.2L524.2 42.5L524.6 41.1L525.0 39.7L525.5 38.6L525.9 37.6L526.3 36.8L526.7 36.2L527.1 35.7L527.5 35.3L527.9 35.1L528.3 34.9L528.7 34.9L529.1 34.9L529.5 35.1L529.9 35.3L530.3 35.7L530.7 36.2L531.1 36.8L531.5 37.6L531.9 38.6L532.4 39.7L532.8 41.1L533.2 42.5L533.6 44.2L534.0 46.1L534.4 48.1L534.8 50.4L535.2 52.8L535.6 55.4L536.0 58.3L536.4 61.3L536.8 64.6"/><path d="M531.9 64.6L532.3 61.2L532.7 58.0L533.1 55.1L533.5 52.3L533.9 49.8L534.4 47.4L534.8 45.3L535.2 43.3L535.6 41.6L536.0 40.0L536.4 38.6L536.8 37.4L537.2 36.4L537.6 35.5L538.0 34.8L538.5 34.2L538.9 33.8L539.3 33.5L539.7 33.4L540.1 33.3L540.5 33.3"/><path d="M544.8 41.6L545.2 43.4L545.6 45.3L546.1 47.4L546.5 49.8L546.9 52.3L547.3 55.1L547.7 58.0L548.1 61.2L548.5 64.6"/><path d="M539.6 64.6L540.1 60.7L540.6 57.2L541.0 53.9L541.5 50.9L542.0 48.1"/><path d="M554.7 53.1L555.2 56.6L555.7 60.4L556.2 64.6"/><path d="M551.5 64.6L551.9 61.2L552.3 57.9L552.7 54.9L553.1 52.1L553.5 49.5L554.0 47.1L554.4 44.9L554.8 42.9L555.2 41.1L555.6 39.5"/><path d="M566.8 53.1L567.3 56.6L567.8 60.4L568.3 64.6"/><path d="M558.2 64.6L558.6 61.3L559.0 58.2L559.4 55.2L559.8 52.5L560.2 50.0L560.6 47.7L561.1 45.6L561.5 43.7L561.9 41.9L562.3 40.4L562.7 39.0L563.1 37.8L563.5 36.8L563.9 35.9L564.3 35.2L564.7 34.6L565.1 34.2L565.5 33.9L565.9 33.7L566.3 33.6L566.7 33.6L567.1 33.7L567.5 33.9L567.9 34.2L568.3 34.6L568.7 35.2L569.1 35.9L569.5 36.8L569.9 37.8L570.3 39.0L570.7 40.4L571.1 41.9L571.5 43.7L571.9 45.6L572.4 47.7L572.8 50.0L573.2 52.5L573.6 55.2L574.0 58.2L574.4 61.3L574.8 64.6"/><path d="M570.4 64.6L570.8 61.3L571.2 58.2L571.6 55.2L572.0 52.5L572.4 50.0L572.8 47.7L573.3 45.6L573.7 43.7L574.1 41.9L574.5 40.4L574.9 39.0L575.3 37.8L575.7 36.8L576.1 35.9L576.5 35.2L576.9 34.6L577.3 34.2L577.7 33.9L578.1 33.7L578.5 33.6L578.9 33.6L579.3 33.7L579.7 33.9L580.1 34.2L580.5 34.6L580.9 35.2L581.3 35.9L581.7 36.8L582.1 37.8L582.5 39.0L582.9 40.4L583.3 41.9L583.7 43.7L584.1 45.6L584.6 47.7L585.0 50.0L585.4 52.5L585.8 55.2L586.2 58.2L586.6 61.3L587.0 64.6"/><path d="M578.4 64.6L578.8 61.3L579.2 58.3L579.6 55.4L580.0 52.8L580.4 50.4L580.8 48.1L581.2 46.1L581.6 44.2L582.0 42.5L582.4 41.1L582.8 39.7L583.3 38.6L583.7 37.6L584.1 36.8L584.5 36.2L584.9 35.7L585.3 35.3L585.7 35.1L586.1 34.9L586.5 34.9L586.9 34.9L587.3 35.1L587.7 35.3L588.1 35.7L588.5 36.2L588.9 36.8L589.3 37.6L589.7 38.6L590.2 39.7L590.6 41.1L591.0 42.5L591.4 44.2L591.8 46.1L592.2 48.1L592.6 50.4L593.0 52.8L593.4 55.4L593.8 58.3L594.2 61.3L594.6 64.6"/><path d="M589.4 64.6L589.8 61.0L590.3 57.7L590.7 54.6L591.1 51.8L591.6 49.2L592.0 46.8L592.4 44.6L592.9 42.6L593.3 40.9"/><path d="M605.2 58.1L605.6 61.2L606.0 64.6"/><path d="M597.4 64.6L597.9 60.4L598.4 56.6L598.9 53.1"/><path d="M612.6 54.1L613.1 57.3L613.5 60.8L614.0 64.6"/><path d="M609.0 64.6L609.4 61.1L609.8 57.8L610.2 54.6L610.7 51.8L611.1 49.1L611.5 46.6L611.9 44.3L612.3 42.2L612.7 40.4L613.1 38.7L613.5 37.2L613.9 35.8L614.3 34.7L614.7 33.7L615.1 32.9L615.6 32.2L616.0 31.7L616.4 31.3L616.8 31.1L617.2 30.9L617.6 30.9L618.0 30.9L618.4 31.1L618.8 31.3L619.2 31.7L619.6 32.2L620.1 32.9L620.5 33.7L620.9 34.7L621.3 35.8L621.7 37.2L622.1 38.7L622.5 40.4L622.9 42.2L623.3 44.3L623.7 46.6L624.1 49.1L624.5 51.8L625.0 54.6L625.4 57.8L625.8 61.1L626.2 64.6"/><path d="M617.1 64.6L617.5 61.2L617.9 58.0L618.3 55.1L618.7 52.3L619.1 49.7L619.5 47.3L619.9 45.2L620.3 43.2L620.7 41.4L621.1 39.7L621.5 38.3L621.9 37.0L622.3 35.9L622.7 35.0L623.1 34.2L623.5 33.5L623.9 33.0L624.3 32.7L624.7 32.5L625.1 32.3L625.5 32.3L625.9 32.3L626.3 32.5L626.7 32.7L627.1 33.0L627.5 33.5L627.9 34.2L628.3 35.0L628.7 35.9L629.1 37.0L629.5 38.3L629.9 39.7L630.3 41.4L630.7 43.2L631.1 45.2L631.5 47.3L631.9 49.7L632.3 52.3L632.7 55.1L633.1 58.0L633.5 61.2L633.9 64.6"/><path d="M627.8 64.6L628.2 61.2L628.7 57.9L629.1 54.9L629.5 52.1L629.9 49.5L630.3 47.1L630.7 44.9L631.1 42.9L631.5 41.1L631.9 39.4L632.3 38.0L632.7 36.7L633.1 35.6"/></g></mask>
<clipPath id="cpo1"><rect x="375.00" y="18.00" width="259.70" height="47.90"/></clipPath>
<linearGradient id="g169"><stop offset="0" stop-color="#0f057d"/><stop offset="0.7637" stop-color="#0f057d"/><stop offset="0.7773" stop-color="#100683"/><stop offset="1" stop-color="#110793"/></linearGradient>
<linearGradient id="g170"><stop offset="0" stop-color="#0f057d"/><stop offset="0.6452" stop-color="#0f057d"/><stop offset="0.7773" stop-color="#170cbe"/><stop offset="1" stop-color="#1b0dd1"/></linearGradient>
<linearGradient id="g171"><stop offset="0" stop-color="#0f057d"/><stop offset="0.5752" stop-color="#0f057d"/><stop offset="0.6218" stop-color="#140aa6"/><stop offset="0.7248" stop-color="#1e0fe6"/><stop offset="0.7773" stop-color="#2011ed"/><stop offset="1" stop-color="#2213f2"/></linearGradient>
<linearGradient id="g172"><stop offset="0" stop-color="#0f057d"/><stop offset="0.5188" stop-color="#0f057d"/><stop offset="0.5752" stop-color="#140aa9"/><stop offset="0.6218" stop-color="#1e0fe3"/><stop offset="0.6277" stop-color="#1e0fe6"/><stop offset="0.7151" stop-color="#2314f5"/><stop offset="0.7773" stop-color="#241af6"/><stop offset="1" stop-color="#251df7"/></linearGradient>
<linearGradient id="g173"><stop offset="0" stop-color="#0f057d"/><stop offset="0.445" stop-color="#0f057d"/><stop offset="0.5091" stop-color="#12089a"/><stop offset="0.5325" stop-color="#140aaa"/><stop offset="0.5849" stop-color="#1e0fe5"/><stop offset="0.6218" stop-color="#2213f3"/><stop offset="0.7384" stop-color="#2622f8"/><stop offset="1" stop-color="#2625f8"/></linearGradient>
<linearGradient id="g174"><stop offset="0" stop-color="#0f057d"/><stop offset="0.3887" stop-color="#0f057e"/><stop offset="0.4295" stop-color="#10068a"/><stop offset="0.4761" stop-color="#13099e"/><stop offset="0.4994" stop-color="#140aab"/><stop offset="0.5577" stop-color="#1e0fe6"/><stop offset="0.6044" stop-color="#2314f5"/><stop offset="0.7384" stop-color="#2728f9"/><stop offset="1" stop-color="#272af9"/></linearGradient>
<linearGradient id="g175"><stop offset="0" stop-color="#0f057d"/><stop offset="0.377" stop-color="#0f057d"/><stop offset="0.4664" stop-color="#1309a2"/><stop offset="0.48" stop-color="#140aaa"/><stop offset="0.5422" stop-color="#1e0fe6"/><stop offset="0.5908" stop-color="#2314f5"/><stop offset="0.6218" stop-color="#251cf7"/><stop offset="0.7384" stop-color="#282bfa"/><stop offset="1" stop-color="#282cfa"/></linearGradient>
<linearGradient id="g176"><stop offset="0" stop-color="#0f057d"/><stop offset="0.377" stop-color="#0f057d"/><stop offset="0.4742" stop-color="#140aa9"/><stop offset="0.5383" stop-color="#1e0fe6"/><stop offset="0.5869" stop-color="#2314f5"/><stop offset="0.6218" stop-color="#251df7"/><stop offset="0.7384" stop-color="#282bfa"/><stop offset="1" stop-color="#282dfa"/></linearGradient>
<linearGradient id="g177"><stop offset="0" stop-color="#0f057d"/><stop offset="0.377" stop-color="#0f057d"/><stop offset="0.4761" stop-color="#140aa9"/><stop offset="0.5402" stop-color="#1e0fe6"/><stop offset="0.5888" stop-color="#2314f5"/><stop offset="0.6218" stop-color="#251df7"/><stop offset="0.7384" stop-color="#282bfa"/><stop offset="1" stop-color="#282dfa"/></linearGradient>
<linearGradient id="g178"><stop offset="0" stop-color="#0f057d"/><stop offset="0.377" stop-color="#0f057d"/><stop offset="0.4664" stop-color="#13099d"/><stop offset="0.4897" stop-color="#140aab"/><stop offset="0.5499" stop-color="#1e0fe6"/><stop offset="0.5966" stop-color="#2314f5"/><stop offset="0.6218" stop-color="#241bf6"/><stop offset="0.7384" stop-color="#2729f9"/><stop offset="1" stop-color="#282bfa"/></linearGradient>
<linearGradient id="g179"><stop offset="0" stop-color="#0f057d"/><stop offset="0.4139" stop-color="#0f057d"/><stop offset="0.4664" stop-color="#11078e"/><stop offset="0.5091" stop-color="#1309a4"/><stop offset="0.5733" stop-color="#1e0fe6"/><stop offset="0.618" stop-color="#2314f5"/><stop offset="0.7384" stop-color="#2624f8"/><stop offset="1" stop-color="#2727f9"/></linearGradient>
<linearGradient id="g180"><stop offset="0" stop-color="#0f057d"/><stop offset="0.4916" stop-color="#0f057d"/><stop offset="0.5091" stop-color="#100685"/><stop offset="0.5577" stop-color="#140aaa"/><stop offset="0.6082" stop-color="#1e0fe6"/><stop offset="0.6218" stop-color="#2011eb"/><stop offset="0.6821" stop-color="#2314f5"/><stop offset="0.7773" stop-color="#251ef7"/><stop offset="1" stop-color="#2621f8"/></linearGradient>
<linearGradient id="g181"><stop offset="0" stop-color="#0f057d"/><stop offset="0.5538" stop-color="#0f057d"/><stop offset="0.6044" stop-color="#140aa9"/><stop offset="0.6218" stop-color="#180cc0"/><stop offset="0.684" stop-color="#1e0fe6"/><stop offset="0.7773" stop-color="#2314f4"/><stop offset="1" stop-color="#2316f5"/></linearGradient>
<linearGradient id="g182"><stop offset="0" stop-color="#0f057d"/><stop offset="0.6102" stop-color="#0f057d"/><stop offset="0.6218" stop-color="#100688"/><stop offset="0.6957" stop-color="#140aaa"/><stop offset="0.7384" stop-color="#190cc7"/><stop offset="0.7773" stop-color="#1c0ed9"/><stop offset="1" stop-color="#1e0fe7"/></linearGradient>
<linearGradient id="g183"><stop offset="0" stop-color="#0f057d"/><stop offset="0.7171" stop-color="#0f057d"/><stop offset="0.7773" stop-color="#120899"/><stop offset="1" stop-color="#140aa7"/></linearGradient>
<linearGradient id="g194"><stop offset="0" stop-color="#0f057d"/><stop offset="0.5305" stop-color="#0f057d"/><stop offset="0.5383" stop-color="#140aa8"/><stop offset="0.5441" stop-color="#1d0ede"/><stop offset="0.5461" stop-color="#1f10e9"/><stop offset="0.5519" stop-color="#2417f6"/><stop offset="0.5616" stop-color="#282cfa"/><stop offset="0.5674" stop-color="#304af2"/><stop offset="0.5694" stop-color="#3456ea"/><stop offset="0.5733" stop-color="#3a70d0"/><stop offset="0.5771" stop-color="#3c81b3"/><stop offset="0.583" stop-color="#3c9487"/><stop offset="0.5849" stop-color="#3e997d"/><stop offset="0.5966" stop-color="#4db64d"/><stop offset="0.6082" stop-color="#64c82d"/><stop offset="0.6296" stop-color="#87d728"/><stop offset="0.649" stop-color="#a1e02c"/><stop offset="0.7035" stop-color="#c8e632"/><stop offset="0.7598" stop-color="#e8e137"/><stop offset="0.7967" stop-color="#ebd235"/><stop offset="1" stop-color="#f1ad2d"/></linearGradient>
<linearGradient id="g195"><stop offset="0" stop-color="#0f057d"/><stop offset="0.5014" stop-color="#0f057d"/><stop offset="0.515" stop-color="#140aaa"/><stop offset="0.5266" stop-color="#1f10ea"/><stop offset="0.5305" stop-color="#2314f5"/><stop offset="0.5402" stop-color="#282bfa"/><stop offset="0.5461" stop-color="#314cf1"/><stop offset="0.548" stop-color="#3458e8"/><stop offset="0.5538" stop-color="#3c7cc0"/><stop offset="0.5616" stop-color="#3c9584"/><stop offset="0.5694" stop-color="#48ad5b"/><stop offset="0.5733" stop-color="#4fb74a"/><stop offset="0.583" stop-color="#66c92d"/><stop offset="0.6024" stop-color="#86d728"/><stop offset="0.6257" stop-color="#a4e12d"/><stop offset="0.649" stop-color="#d2e533"/><stop offset="0.6763" stop-color="#e8e137"/><stop offset="0.7967" stop-color="#f2ac2d"/><stop offset="1" stop-color="#f68b26"/></linearGradient>
<linearGradient id="g196"><stop offset="0" stop-color="#0f057d"/><stop offset="0.4683" stop-color="#0f057d"/><stop offset="0.4839" stop-color="#140aa9"/><stop offset="0.4955" stop-color="#1d0fe3"/><stop offset="0.4975" stop-color="#1f10e8"/><stop offset="0.5052" stop-color="#2314f5"/><stop offset="0.5208" stop-color="#282dfa"/><stop offset="0.5247" stop-color="#2c3cf6"/><stop offset="0.5286" stop-color="#3354ec"/><stop offset="0.5344" stop-color="#3c7dbd"/><stop offset="0.5402" stop-color="#3c9487"/><stop offset="0.5441" stop-color="#43a36c"/><stop offset="0.5499" stop-color="#4cb44f"/><stop offset="0.5597" stop-color="#63c72f"/><stop offset="0.5616" stop-color="#67c92d"/><stop offset="0.5791" stop-color="#89d828"/><stop offset="0.6005" stop-color="#a5e12d"/><stop offset="0.618" stop-color="#c8e632"/><stop offset="0.6374" stop-color="#e8e137"/><stop offset="0.649" stop-color="#ebd034"/><stop offset="0.6685" stop-color="#efbf31"/><stop offset="0.7773" stop-color="#f69127"/><stop offset="1" stop-color="#f96f1f"/></linearGradient>
<linearGradient id="g197"><stop offset="0" stop-color="#0f057d"/><stop offset="0.4353" stop-color="#0f057d"/><stop offset="0.4547" stop-color="#140aab"/><stop offset="0.4683" stop-color="#1e0fe7"/><stop offset="0.478" stop-color="#2314f5"/><stop offset="0.4955" stop-color="#282efa"/><stop offset="0.5033" stop-color="#314cf1"/><stop offset="0.5052" stop-color="#3355eb"/><stop offset="0.513" stop-color="#3c7bc1"/><stop offset="0.5247" stop-color="#3f9b7a"/><stop offset="0.5325" stop-color="#4eb74c"/><stop offset="0.5402" stop-color="#65c92d"/><stop offset="0.5558" stop-color="#86d728"/><stop offset="0.5771" stop-color="#a7e12d"/><stop offset="0.5927" stop-color="#c7e632"/><stop offset="0.6121" stop-color="#e7e137"/><stop offset="0.6335" stop-color="#eec432"/><stop offset="0.649" stop-color="#f1af2e"/><stop offset="0.6685" stop-color="#f49f2a"/><stop offset="0.7773" stop-color="#f97621"/><stop offset="1" stop-color="#fa5516"/></linearGradient>
<linearGradient id="g198"><stop offset="0" stop-color="#0f057d"/><stop offset="0.3867" stop-color="#0f057d"/><stop offset="0.4197" stop-color="#13099e"/><stop offset="0.4256" stop-color="#140aac"/><stop offset="0.4411" stop-color="#1e0fe6"/><stop offset="0.4528" stop-color="#2315f5"/><stop offset="0.4703" stop-color="#282cfa"/><stop offset="0.48" stop-color="#314ef1"/><stop offset="0.4819" stop-color="#3456ea"/><stop offset="0.4897" stop-color="#3c7ac3"/><stop offset="0.5014" stop-color="#3d997e"/><stop offset="0.5111" stop-color="#4ab253"/><stop offset="0.5227" stop-color="#63c72e"/><stop offset="0.5363" stop-color="#85d628"/><stop offset="0.5441" stop-color="#96dc2a"/><stop offset="0.5558" stop-color="#a7e12d"/><stop offset="0.5713" stop-color="#c9e632"/><stop offset="0.5888" stop-color="#e8e137"/><stop offset="0.6452" stop-color="#f49a29"/><stop offset="0.6685" stop-color="#f78524"/><stop offset="0.7967" stop-color="#fa5918"/><stop offset="1" stop-color="#f94012"/></linearGradient>
<linearGradient id="g199"><stop offset="0" stop-color="#0f057d"/><stop offset="0.3226" stop-color="#0f057d"/><stop offset="0.3673" stop-color="#140aab"/><stop offset="0.4042" stop-color="#1e0fe5"/><stop offset="0.4275" stop-color="#2315f5"/><stop offset="0.4489" stop-color="#282ffa"/><stop offset="0.4586" stop-color="#3250f0"/><stop offset="0.4683" stop-color="#3c7bc2"/><stop offset="0.48" stop-color="#3d987f"/><stop offset="0.4916" stop-color="#4cb54f"/><stop offset="0.5033" stop-color="#64c82d"/><stop offset="0.5208" stop-color="#86d728"/><stop offset="0.5363" stop-color="#a3e02d"/><stop offset="0.5441" stop-color="#bbe430"/><stop offset="0.5499" stop-color="#c7e632"/><stop offset="0.5694" stop-color="#e8e037"/><stop offset="0.6121" stop-color="#f2a82c"/><stop offset="0.649" stop-color="#f78023"/><stop offset="0.6685" stop-color="#f97120"/><stop offset="0.7967" stop-color="#f94513"/><stop offset="1" stop-color="#f83010"/></linearGradient>
<linearGradient id="g200"><stop offset="0" stop-color="#0f057d"/><stop offset="0.2585" stop-color="#0f057d"/><stop offset="0.2798" stop-color="#100689"/><stop offset="0.2934" stop-color="#120897"/><stop offset="0.309" stop-color="#140aac"/><stop offset="0.342" stop-color="#1e0fe6"/><stop offset="0.3712" stop-color="#2314f5"/><stop offset="0.4197" stop-color="#2727f9"/><stop offset="0.4256" stop-color="#282efa"/><stop offset="0.4392" stop-color="#3354ec"/><stop offset="0.4469" stop-color="#3c77c9"/><stop offset="0.4606" stop-color="#3d987f"/><stop offset="0.4722" stop-color="#4bb450"/><stop offset="0.4839" stop-color="#62c72f"/><stop offset="0.5033" stop-color="#86d728"/><stop offset="0.5227" stop-color="#a4e12d"/><stop offset="0.5344" stop-color="#c6e632"/><stop offset="0.5441" stop-color="#e0e236"/><stop offset="0.5499" stop-color="#e8e037"/><stop offset="0.6024" stop-color="#f49d2a"/><stop offset="0.6685" stop-color="#fa5f1a"/><stop offset="0.7967" stop-color="#f93611"/><stop offset="0.9056" stop-color="#f82c10"/><stop offset="1" stop-color="#f42a11"/></linearGradient>
<linearGradient id="g201"><stop offset="0" stop-color="#0f057d"/><stop offset="0.241" stop-color="#0f057d"/><stop offset="0.2468" stop-color="#11078f"/><stop offset="0.2798" stop-color="#140aa9"/><stop offset="0.2973" stop-color="#1d0fe2"/><stop offset="0.3031" stop-color="#2011ec"/><stop offset="0.3206" stop-color="#2315f5"/><stop offset="0.3712" stop-color="#282efa"/><stop offset="0.4061" stop-color="#3250f0"/><stop offset="0.4197" stop-color="#3661df"/><stop offset="0.4256" stop-color="#3b76ca"/><stop offset="0.4431" stop-color="#3d997d"/><stop offset="0.4547" stop-color="#4bb450"/><stop offset="0.4683" stop-color="#65c92d"/><stop offset="0.4878" stop-color="#88d728"/><stop offset="0.5072" stop-color="#a4e12d"/><stop offset="0.5227" stop-color="#c9e632"/><stop offset="0.5363" stop-color="#e8e037"/><stop offset="0.5441" stop-color="#eccf34"/><stop offset="0.6005" stop-color="#f68f26"/><stop offset="0.6685" stop-color="#fa5114"/><stop offset="0.7928" stop-color="#f82c10"/><stop offset="1" stop-color="#ef2813"/></linearGradient>
<linearGradient id="g202"><stop offset="0" stop-color="#0f057d"/><stop offset="0.241" stop-color="#0f057d"/><stop offset="0.2468" stop-color="#1309a3"/><stop offset="0.2546" stop-color="#140aac"/><stop offset="0.2759" stop-color="#1a0dd0"/><stop offset="0.2798" stop-color="#1c0ed7"/><stop offset="0.2837" stop-color="#1e0fe7"/><stop offset="0.2934" stop-color="#2314f5"/><stop offset="0.3031" stop-color="#2621f8"/><stop offset="0.3226" stop-color="#282dfa"/><stop offset="0.344" stop-color="#324ef0"/><stop offset="0.3498" stop-color="#355ae6"/><stop offset="0.3731" stop-color="#3c76ca"/><stop offset="0.4197" stop-color="#3c9487"/><stop offset="0.4392" stop-color="#4cb54e"/><stop offset="0.4528" stop-color="#66c92d"/><stop offset="0.4722" stop-color="#87d728"/><stop offset="0.4936" stop-color="#a5e12d"/><stop offset="0.5091" stop-color="#c8e632"/><stop offset="0.5247" stop-color="#e7e137"/><stop offset="0.5402" stop-color="#eec332"/><stop offset="0.583" stop-color="#f59327"/><stop offset="0.6685" stop-color="#f94613"/><stop offset="0.7637" stop-color="#f82c10"/><stop offset="0.7967" stop-color="#f32a12"/><stop offset="1" stop-color="#ec2614"/></linearGradient>
<linearGradient id="g203"><stop offset="0" stop-color="#0f057d"/><stop offset="0.241" stop-color="#0f057d"/><stop offset="0.2449" stop-color="#1309a3"/><stop offset="0.2468" stop-color="#170cbd"/><stop offset="0.2662" stop-color="#1e0fe5"/><stop offset="0.2837" stop-color="#2315f5"/><stop offset="0.2973" stop-color="#282bfa"/><stop offset="0.3031" stop-color="#2e43f4"/><stop offset="0.3129" stop-color="#3353ed"/><stop offset="0.3304" stop-color="#3c79c6"/><stop offset="0.3498" stop-color="#3c9091"/><stop offset="0.3614" stop-color="#3c9681"/><stop offset="0.4139" stop-color="#4cb44f"/><stop offset="0.4197" stop-color="#4eb74b"/><stop offset="0.4372" stop-color="#65c82d"/><stop offset="0.4586" stop-color="#87d728"/><stop offset="0.4819" stop-color="#a7e12d"/><stop offset="0.4975" stop-color="#c8e632"/><stop offset="0.515" stop-color="#e8e037"/><stop offset="0.5325" stop-color="#eec232"/><stop offset="0.5441" stop-color="#f1af2d"/><stop offset="0.5538" stop-color="#f3a52b"/><stop offset="0.6218" stop-color="#fa691e"/><stop offset="0.6685" stop-color="#f93f12"/><stop offset="0.7423" stop-color="#f82c10"/><stop offset="0.7967" stop-color="#f02813"/><stop offset="1" stop-color="#ea2614"/></linearGradient>
<linearGradient id="g204"><stop offset="0" stop-color="#0f057d"/><stop offset="0.241" stop-color="#0f057d"/><stop offset="0.2449" stop-color="#150ab0"/><stop offset="0.2468" stop-color="#1c0ed7"/><stop offset="0.2546" stop-color="#1e0fe7"/><stop offset="0.2779" stop-color="#2418f6"/><stop offset="0.2895" stop-color="#282cfa"/><stop offset="0.2973" stop-color="#3353ed"/><stop offset="0.3031" stop-color="#3c79c5"/><stop offset="0.3265" stop-color="#3c9683"/><stop offset="0.3498" stop-color="#4ab253"/><stop offset="0.4081" stop-color="#64c82e"/><stop offset="0.4197" stop-color="#68ca2c"/><stop offset="0.4469" stop-color="#88d728"/><stop offset="0.4703" stop-color="#a5e12d"/><stop offset="0.4878" stop-color="#c9e632"/><stop offset="0.5052" stop-color="#e7e137"/><stop offset="0.5247" stop-color="#eec432"/><stop offset="0.5441" stop-color="#f3a62c"/><stop offset="0.616" stop-color="#fa691e"/><stop offset="0.6452" stop-color="#fa4f14"/><stop offset="0.6685" stop-color="#f93b12"/><stop offset="0.7287" stop-color="#f82c10"/><stop offset="0.7773" stop-color="#f12912"/><stop offset="1" stop-color="#e92515"/></linearGradient>
<linearGradient id="g205"><stop offset="0" stop-color="#0f057d"/><stop offset="0.241" stop-color="#0f057d"/><stop offset="0.2429" stop-color="#12089a"/><stop offset="0.2468" stop-color="#1f10e8"/><stop offset="0.2623" stop-color="#2315f5"/><stop offset="0.2798" stop-color="#2622f8"/><stop offset="0.2837" stop-color="#282bfa"/><stop offset="0.2895" stop-color="#3048f2"/><stop offset="0.2915" stop-color="#3355eb"/><stop offset="0.2954" stop-color="#3b73cd"/><stop offset="0.3031" stop-color="#3c9486"/><stop offset="0.3284" stop-color="#4bb44f"/><stop offset="0.3498" stop-color="#62c72f"/><stop offset="0.4197" stop-color="#7dd329"/><stop offset="0.4392" stop-color="#8dd929"/><stop offset="0.4606" stop-color="#a5e12d"/><stop offset="0.478" stop-color="#c6e632"/><stop offset="0.4994" stop-color="#e8e037"/><stop offset="0.5188" stop-color="#eec432"/><stop offset="0.5441" stop-color="#f3a12a"/><stop offset="0.6121" stop-color="#fa691e"/><stop offset="0.6413" stop-color="#fa5014"/><stop offset="0.6685" stop-color="#f93911"/><stop offset="0.7209" stop-color="#f82c10"/><stop offset="0.7967" stop-color="#ed2713"/><stop offset="1" stop-color="#e92515"/></linearGradient>
<linearGradient id="g206"><stop offset="0" stop-color="#0f057d"/><stop offset="0.241" stop-color="#0f057d"/><stop offset="0.2429" stop-color="#13099e"/><stop offset="0.2449" stop-color="#1a0dcb"/><stop offset="0.2468" stop-color="#2112ee"/><stop offset="0.2546" stop-color="#2314f5"/><stop offset="0.2798" stop-color="#2729f9"/><stop offset="0.2818" stop-color="#2930f9"/><stop offset="0.2857" stop-color="#3049f2"/><stop offset="0.2876" stop-color="#3456ea"/><stop offset="0.2915" stop-color="#3c77c9"/><stop offset="0.2993" stop-color="#3e997c"/><stop offset="0.3031" stop-color="#46aa60"/><stop offset="0.3109" stop-color="#4bb44f"/><stop offset="0.3323" stop-color="#63c72f"/><stop offset="0.3498" stop-color="#75cf2b"/><stop offset="0.4392" stop-color="#97dc2b"/><stop offset="0.4528" stop-color="#a6e12d"/><stop offset="0.4722" stop-color="#c7e632"/><stop offset="0.4936" stop-color="#e7e137"/><stop offset="0.515" stop-color="#eec532"/><stop offset="0.5441" stop-color="#f49f2a"/><stop offset="0.6102" stop-color="#fa6a1e"/><stop offset="0.6393" stop-color="#fa5114"/><stop offset="0.6685" stop-color="#f93811"/><stop offset="0.719" stop-color="#f82c10"/><stop offset="0.7967" stop-color="#ed2713"/><stop offset="1" stop-color="#e92515"/></linearGradient>
<linearGradient id="g207"><stop offset="0" stop-color="#0f057d"/><stop offset="0.241" stop-color="#0f057d"/><stop offset="0.2429" stop-color="#1309a1"/><stop offset="0.2449" stop-color="#1b0ed4"/><stop offset="0.2468" stop-color="#2213f2"/><stop offset="0.2779" stop-color="#282dfa"/><stop offset="0.2798" stop-color="#2931f9"/><stop offset="0.2837" stop-color="#314cf1"/><stop offset="0.2857" stop-color="#355be5"/><stop offset="0.2895" stop-color="#3c7bc1"/><stop offset="0.2954" stop-color="#3c9682"/><stop offset="0.3031" stop-color="#50b849"/><stop offset="0.3206" stop-color="#63c82e"/><stop offset="0.3498" stop-color="#82d529"/><stop offset="0.4392" stop-color="#9edf2c"/><stop offset="0.4469" stop-color="#a5e12d"/><stop offset="0.4683" stop-color="#c7e632"/><stop offset="0.4916" stop-color="#e8e137"/><stop offset="0.515" stop-color="#eec332"/><stop offset="0.5441" stop-color="#f49e2a"/><stop offset="0.6102" stop-color="#fa691e"/><stop offset="0.6393" stop-color="#fa5114"/><stop offset="0.6685" stop-color="#f93811"/><stop offset="0.7171" stop-color="#f82c10"/><stop offset="0.7967" stop-color="#ed2713"/><stop offset="1" stop-color="#e92515"/></linearGradient>
<linearGradient id="g208"><stop offset="0" stop-color="#0f057d"/><stop offset="0.241" stop-color="#0f057d"/><stop offset="0.2429" stop-color="#1309a1"/><stop offset="0.2449" stop-color="#1b0ed7"/><stop offset="0.2468" stop-color="#2213f3"/><stop offset="0.2759" stop-color="#282dfa"/><stop offset="0.2798" stop-color="#2a35f8"/><stop offset="0.2837" stop-color="#3250f0"/><stop offset="0.2876" stop-color="#3b73cd"/><stop offset="0.2895" stop-color="#3c7eb9"/><stop offset="0.2954" stop-color="#3e9a7c"/><stop offset="0.3012" stop-color="#4cb54f"/><stop offset="0.3031" stop-color="#54bb44"/><stop offset="0.3168" stop-color="#63c72f"/><stop offset="0.3498" stop-color="#86d628"/><stop offset="0.4392" stop-color="#9fdf2c"/><stop offset="0.4469" stop-color="#a7e12d"/><stop offset="0.4683" stop-color="#c8e632"/><stop offset="0.4916" stop-color="#e8e137"/><stop offset="0.515" stop-color="#eec332"/><stop offset="0.5441" stop-color="#f49e2a"/><stop offset="0.6102" stop-color="#fa691e"/><stop offset="0.6393" stop-color="#fa5114"/><stop offset="0.6685" stop-color="#f93811"/><stop offset="0.719" stop-color="#f82c10"/><stop offset="0.7967" stop-color="#ed2713"/><stop offset="1" stop-color="#ea2514"/></linearGradient>
<linearGradient id="g209"><stop offset="0" stop-color="#0f057d"/><stop offset="0.241" stop-color="#0f057d"/><stop offset="0.2429" stop-color="#13099f"/><stop offset="0.2449" stop-color="#1a0dd0"/><stop offset="0.2468" stop-color="#2112f0"/><stop offset="0.2526" stop-color="#2315f5"/><stop offset="0.2798" stop-color="#282cfa"/><stop offset="0.2857" stop-color="#3252ee"/><stop offset="0.2895" stop-color="#3b73cd"/><stop offset="0.2915" stop-color="#3c7eba"/><stop offset="0.2973" stop-color="#3d987e"/><stop offset="0.3031" stop-color="#4ab352"/><stop offset="0.3265" stop-color="#64c82d"/><stop offset="0.3498" stop-color="#7cd22a"/><stop offset="0.4392" stop-color="#9bde2b"/><stop offset="0.4508" stop-color="#a7e12d"/><stop offset="0.4703" stop-color="#c7e632"/><stop offset="0.4936" stop-color="#e8e037"/><stop offset="0.515" stop-color="#eec432"/><stop offset="0.5441" stop-color="#f49f2a"/><stop offset="0.6121" stop-color="#fa691e"/><stop offset="0.6413" stop-color="#fa5014"/><stop offset="0.6685" stop-color="#f93911"/><stop offset="0.7248" stop-color="#f82c10"/><stop offset="0.7967" stop-color="#ef2813"/><stop offset="1" stop-color="#eb2614"/></linearGradient>
<linearGradient id="g210"><stop offset="0" stop-color="#0f057d"/><stop offset="0.241" stop-color="#0f057d"/><stop offset="0.2429" stop-color="#12089c"/><stop offset="0.2468" stop-color="#2011eb"/><stop offset="0.2585" stop-color="#2314f5"/><stop offset="0.2818" stop-color="#272af9"/><stop offset="0.2837" stop-color="#2932f9"/><stop offset="0.2876" stop-color="#3049f2"/><stop offset="0.2895" stop-color="#3456ea"/><stop offset="0.2934" stop-color="#3b76ca"/><stop offset="0.3012" stop-color="#3d9780"/><stop offset="0.3031" stop-color="#41a072"/><stop offset="0.3187" stop-color="#4bb450"/><stop offset="0.342" stop-color="#64c82d"/><stop offset="0.3498" stop-color="#6ccc2c"/><stop offset="0.4197" stop-color="#86d728"/><stop offset="0.4392" stop-color="#92db2a"/><stop offset="0.4567" stop-color="#a5e12d"/><stop offset="0.4761" stop-color="#c7e632"/><stop offset="0.4975" stop-color="#e8e037"/><stop offset="0.5188" stop-color="#eec332"/><stop offset="0.5441" stop-color="#f3a12a"/><stop offset="0.616" stop-color="#fa691e"/><stop offset="0.6685" stop-color="#f93d12"/><stop offset="0.7462" stop-color="#f82c10"/><stop offset="0.7967" stop-color="#f12912"/><stop offset="1" stop-color="#ee2813"/></linearGradient>
<linearGradient id="g211"><stop offset="0" stop-color="#0f057d"/><stop offset="0.241" stop-color="#0f057d"/><stop offset="0.2449" stop-color="#160bb6"/><stop offset="0.2468" stop-color="#1d0fe1"/><stop offset="0.2487" stop-color="#1e0fe6"/><stop offset="0.2662" stop-color="#2314f4"/><stop offset="0.2798" stop-color="#251df7"/><stop offset="0.2876" stop-color="#282efa"/><stop offset="0.2934" stop-color="#314ef1"/><stop offset="0.2993" stop-color="#3c78c8"/><stop offset="0.3031" stop-color="#3c87a5"/><stop offset="0.3168" stop-color="#3d987f"/><stop offset="0.3381" stop-color="#4bb351"/><stop offset="0.3498" stop-color="#57bd3f"/><stop offset="0.3789" stop-color="#64c82d"/><stop offset="0.4197" stop-color="#74cf2b"/><stop offset="0.4411" stop-color="#88d728"/><stop offset="0.4664" stop-color="#a5e12d"/><stop offset="0.4839" stop-color="#c7e632"/><stop offset="0.5033" stop-color="#e7e137"/><stop offset="0.5227" stop-color="#eec532"/><stop offset="0.5441" stop-color="#f2a72c"/><stop offset="0.6685" stop-color="#f94613"/><stop offset="0.789" stop-color="#f82c10"/><stop offset="1" stop-color="#f42a11"/></linearGradient>
<linearGradient id="g212"><stop offset="0" stop-color="#0f057d"/><stop offset="0.241" stop-color="#0f057d"/><stop offset="0.2449" stop-color="#140aa7"/><stop offset="0.2468" stop-color="#190cc8"/><stop offset="0.2604" stop-color="#1e0fe6"/><stop offset="0.2798" stop-color="#2314f4"/><stop offset="0.2934" stop-color="#282cfa"/><stop offset="0.3012" stop-color="#3250f0"/><stop offset="0.3031" stop-color="#355ce4"/><stop offset="0.3148" stop-color="#3c77c9"/><stop offset="0.3401" stop-color="#3c9681"/><stop offset="0.3498" stop-color="#42a36d"/><stop offset="0.3595" stop-color="#45a863"/><stop offset="0.3789" stop-color="#4bb450"/><stop offset="0.4197" stop-color="#5ec335"/><stop offset="0.4256" stop-color="#65c82d"/><stop offset="0.4392" stop-color="#72ce2b"/><stop offset="0.4528" stop-color="#86d728"/><stop offset="0.478" stop-color="#a5e12d"/><stop offset="0.4955" stop-color="#c9e632"/><stop offset="0.513" stop-color="#e8e137"/><stop offset="0.5325" stop-color="#eec332"/><stop offset="0.5441" stop-color="#f1b22e"/><stop offset="0.6432" stop-color="#fa6a1e"/><stop offset="0.6685" stop-color="#fa5516"/><stop offset="0.7967" stop-color="#f93911"/><stop offset="1" stop-color="#f93511"/></linearGradient>
<linearGradient id="g213"><stop offset="0" stop-color="#0f057d"/><stop offset="0.241" stop-color="#0f057d"/><stop offset="0.2468" stop-color="#140aab"/><stop offset="0.2779" stop-color="#1e0fe6"/><stop offset="0.2895" stop-color="#2316f5"/><stop offset="0.307" stop-color="#282efa"/><stop offset="0.3265" stop-color="#324ff0"/><stop offset="0.344" stop-color="#3c76ca"/><stop offset="0.3498" stop-color="#3c7eb9"/><stop offset="0.3867" stop-color="#3c9682"/><stop offset="0.4197" stop-color="#46ab5f"/><stop offset="0.445" stop-color="#64c82d"/><stop offset="0.4683" stop-color="#88d728"/><stop offset="0.4916" stop-color="#a6e12d"/><stop offset="0.5072" stop-color="#c7e632"/><stop offset="0.5266" stop-color="#e9de37"/><stop offset="0.5441" stop-color="#eec332"/><stop offset="0.6685" stop-color="#fa6c1f"/><stop offset="0.7967" stop-color="#fa5014"/><stop offset="1" stop-color="#fa4c14"/></linearGradient>
<linearGradient id="g214"><stop offset="0" stop-color="#0f057d"/><stop offset="0.241" stop-color="#0f057d"/><stop offset="0.2468" stop-color="#120896"/><stop offset="0.2682" stop-color="#140aa9"/><stop offset="0.2798" stop-color="#170cbc"/><stop offset="0.2895" stop-color="#1d0fe2"/><stop offset="0.3012" stop-color="#2314f5"/><stop offset="0.3401" stop-color="#282dfa"/><stop offset="0.3498" stop-color="#2c3df6"/><stop offset="0.3692" stop-color="#3251ef"/><stop offset="0.3984" stop-color="#3c78c8"/><stop offset="0.4197" stop-color="#3c87a6"/><stop offset="0.4295" stop-color="#3c9584"/><stop offset="0.4392" stop-color="#43a36c"/><stop offset="0.4469" stop-color="#4bb351"/><stop offset="0.4625" stop-color="#65c82d"/><stop offset="0.4839" stop-color="#86d728"/><stop offset="0.5072" stop-color="#a5e12d"/><stop offset="0.5227" stop-color="#c8e632"/><stop offset="0.5422" stop-color="#e8df37"/><stop offset="0.6024" stop-color="#f1b22e"/><stop offset="0.6685" stop-color="#f78725"/><stop offset="0.7967" stop-color="#f96f1f"/><stop offset="1" stop-color="#fa6a1e"/></linearGradient>
<linearGradient id="g215"><stop offset="0" stop-color="#0f057d"/><stop offset="0.241" stop-color="#0f057d"/><stop offset="0.2798" stop-color="#120896"/><stop offset="0.2915" stop-color="#140aa8"/><stop offset="0.3031" stop-color="#1a0dcb"/><stop offset="0.3168" stop-color="#1e0fe6"/><stop offset="0.3401" stop-color="#2314f5"/><stop offset="0.3925" stop-color="#282dfa"/><stop offset="0.4197" stop-color="#304af2"/><stop offset="0.4236" stop-color="#3353ed"/><stop offset="0.4392" stop-color="#3c7cbf"/><stop offset="0.4528" stop-color="#3c9780"/><stop offset="0.4664" stop-color="#4ab352"/><stop offset="0.4819" stop-color="#65c82d"/><stop offset="0.5033" stop-color="#87d728"/><stop offset="0.5266" stop-color="#a7e12d"/><stop offset="0.5441" stop-color="#c9e632"/><stop offset="0.5869" stop-color="#e8e137"/><stop offset="0.6685" stop-color="#f2ac2d"/><stop offset="0.7773" stop-color="#f59628"/><stop offset="1" stop-color="#f68c26"/></linearGradient>
<linearGradient id="g216"><stop offset="0" stop-color="#0f057d"/><stop offset="0.2934" stop-color="#0f057d"/><stop offset="0.3323" stop-color="#140aa9"/><stop offset="0.3653" stop-color="#1e0fe6"/><stop offset="0.3925" stop-color="#2314f5"/><stop offset="0.4197" stop-color="#2520f7"/><stop offset="0.4353" stop-color="#282cfa"/><stop offset="0.4489" stop-color="#314ef1"/><stop offset="0.4508" stop-color="#3354ec"/><stop offset="0.4606" stop-color="#3c78c7"/><stop offset="0.4761" stop-color="#3d987f"/><stop offset="0.4897" stop-color="#4bb450"/><stop offset="0.5052" stop-color="#66c92d"/><stop offset="0.5247" stop-color="#86d728"/><stop offset="0.5441" stop-color="#9bde2b"/><stop offset="0.5655" stop-color="#a5e12d"/><stop offset="0.6121" stop-color="#c8e632"/><stop offset="0.6627" stop-color="#e8e037"/><stop offset="0.7967" stop-color="#eec131"/><stop offset="1" stop-color="#f0b72f"/></linearGradient>
<linearGradient id="g217"><stop offset="0" stop-color="#0f057d"/><stop offset="0.3478" stop-color="#0f057d"/><stop offset="0.3867" stop-color="#140aaa"/><stop offset="0.4217" stop-color="#1e0fe7"/><stop offset="0.4392" stop-color="#2314f5"/><stop offset="0.4644" stop-color="#282dfa"/><stop offset="0.478" stop-color="#3354ec"/><stop offset="0.4878" stop-color="#3c78c7"/><stop offset="0.5014" stop-color="#3c9585"/><stop offset="0.515" stop-color="#4ab253"/><stop offset="0.5247" stop-color="#5bc13a"/><stop offset="0.5325" stop-color="#65c82d"/><stop offset="0.5441" stop-color="#72ce2b"/><stop offset="0.6024" stop-color="#8ed929"/><stop offset="0.6685" stop-color="#a9e22e"/><stop offset="0.7773" stop-color="#c9e632"/><stop offset="1" stop-color="#dce335"/></linearGradient>
<linearGradient id="g218"><stop offset="0" stop-color="#0f057d"/><stop offset="0.4023" stop-color="#0f057d"/><stop offset="0.4372" stop-color="#140aa9"/><stop offset="0.4606" stop-color="#1e0fe7"/><stop offset="0.4742" stop-color="#2315f5"/><stop offset="0.4975" stop-color="#282dfa"/><stop offset="0.5091" stop-color="#3250f0"/><stop offset="0.5208" stop-color="#3c7cbf"/><stop offset="0.5247" stop-color="#3c85ab"/><stop offset="0.5383" stop-color="#3c9682"/><stop offset="0.5441" stop-color="#409e75"/><stop offset="0.583" stop-color="#4bb450"/><stop offset="0.6354" stop-color="#64c82e"/><stop offset="0.6685" stop-color="#72ce2b"/><stop offset="0.7773" stop-color="#8ad829"/><stop offset="1" stop-color="#99dd2b"/></linearGradient>
<linearGradient id="g219"><stop offset="0" stop-color="#0f057d"/><stop offset="0.4586" stop-color="#0f057d"/><stop offset="0.4839" stop-color="#140aab"/><stop offset="0.5014" stop-color="#1e0fe7"/><stop offset="0.515" stop-color="#2316f5"/><stop offset="0.5247" stop-color="#2621f8"/><stop offset="0.5499" stop-color="#282efa"/><stop offset="0.5946" stop-color="#324ff0"/><stop offset="0.6374" stop-color="#3c79c7"/><stop offset="0.6685" stop-color="#3c89a1"/><stop offset="0.7054" stop-color="#3c9682"/><stop offset="0.7773" stop-color="#48ae59"/><stop offset="0.8103" stop-color="#4bb450"/><stop offset="1" stop-color="#5fc434"/></linearGradient>
<linearGradient id="g220"><stop offset="0" stop-color="#0f057d"/><stop offset="0.513" stop-color="#0f057d"/><stop offset="0.5247" stop-color="#120896"/><stop offset="0.5577" stop-color="#140aab"/><stop offset="0.6218" stop-color="#1e0fe6"/><stop offset="0.6724" stop-color="#2314f5"/><stop offset="0.789" stop-color="#282dfa"/><stop offset="0.9269" stop-color="#3250f0"/><stop offset="1" stop-color="#3766da"/></linearGradient>
<linearGradient id="g221"><stop offset="0" stop-color="#0f057d"/><stop offset="0.7482" stop-color="#0f057d"/><stop offset="0.7773" stop-color="#11078d"/><stop offset="0.8803" stop-color="#140aaa"/><stop offset="1" stop-color="#1c0edc"/></linearGradient>
<linearGradient id="cb1" x1="0" y1="0" x2="0" y2="1"><stop offset="0.0000" stop-color="#de2018"/><stop offset="0.0597" stop-color="#f82c10"/><stop offset="0.1074" stop-color="#fa5014"/><stop offset="0.1408" stop-color="#fa691e"/><stop offset="0.2124" stop-color="#f59628"/><stop offset="0.2840" stop-color="#eec332"/><stop offset="0.3317" stop-color="#e8e137"/><stop offset="0.3795" stop-color="#c8e632"/><stop offset="0.4272" stop-color="#a5e12d"/><stop offset="0.4988" stop-color="#87d728"/><stop offset="0.5704" stop-color="#64c82d"/><stop offset="0.6181" stop-color="#4bb450"/><stop offset="0.6659" stop-color="#3c9682"/><stop offset="0.7136" stop-color="#3c78c8"/><stop offset="0.7470" stop-color="#3250f0"/><stop offset="0.7852" stop-color="#282dfa"/><stop offset="0.8568" stop-color="#2314f5"/><stop offset="0.8950" stop-color="#1e0fe6"/><stop offset="0.9427" stop-color="#140aaa"/><stop offset="1.0000" stop-color="#0f057d"/></linearGradient>
<clipPath id="cpd0"><rect x="19.00" y="180.20" width="258.30" height="47.00"/></clipPath>
<clipPath id="cpd1"><rect x="375.70" y="180.20" width="258.30" height="47.00"/></clipPath></defs><rect width="685" height="252" fill="#fff"/>
<rect x="19.50" y="18.00" width="257.30" height="46.00" fill="#000"/>
<g clip-path="url(#cpo0)"><g mask="url(#mk0)"><rect x="18.0" y="26.00" width="260.3" height="1.05" fill="url(#g1)"/><rect x="18.0" y="27.00" width="260.3" height="1.05" fill="url(#g2)"/><rect x="18.0" y="28.00" width="260.3" height="1.05" fill="url(#g3)"/><rect x="18.0" y="29.00" width="260.3" height="1.05" fill="url(#g4)"/><rect x="18.0" y="30.00" width="260.3" height="1.05" fill="url(#g5)"/><rect x="18.0" y="31.00" width="260.3" height="1.05" fill="url(#g6)"/><rect x="18.0" y="32.00" width="260.3" height="1.05" fill="url(#g7)"/><rect x="18.0" y="33.00" width="260.3" height="1.05" fill="url(#g8)"/><rect x="18.0" y="34.00" width="260.3" height="1.05" fill="url(#g9)"/><rect x="18.0" y="35.00" width="260.3" height="1.05" fill="url(#g10)"/><rect x="18.0" y="36.00" width="260.3" height="1.05" fill="url(#g11)"/><rect x="18.0" y="37.00" width="260.3" height="1.05" fill="url(#g12)"/><rect x="18.0" y="38.00" width="260.3" height="1.05" fill="url(#g13)"/><rect x="18.0" y="39.00" width="260.3" height="1.05" fill="url(#g14)"/><rect x="18.0" y="40.00" width="260.3" height="1.05" fill="url(#g15)"/><rect x="18.0" y="41.00" width="260.3" height="1.05" fill="url(#g16)"/><rect x="18.0" y="42.00" width="260.3" height="1.05" fill="url(#g17)"/><rect x="18.0" y="43.00" width="260.3" height="1.05" fill="url(#g18)"/><rect x="18.0" y="44.00" width="260.3" height="1.05" fill="url(#g19)"/><rect x="18.0" y="45.00" width="260.3" height="1.05" fill="url(#g20)"/><rect x="18.0" y="46.00" width="260.3" height="1.05" fill="url(#g21)"/><rect x="18.0" y="47.00" width="260.3" height="1.05" fill="url(#g22)"/><rect x="18.0" y="48.00" width="260.3" height="1.05" fill="url(#g23)"/><rect x="18.0" y="49.00" width="260.3" height="1.05" fill="url(#g24)"/><rect x="18.0" y="50.00" width="260.3" height="1.05" fill="url(#g25)"/><rect x="18.0" y="51.00" width="260.3" height="1.05" fill="url(#g26)"/><rect x="18.0" y="52.00" width="260.3" height="1.05" fill="url(#g27)"/><rect x="18.0" y="53.00" width="260.3" height="1.05" fill="url(#g28)"/><rect x="18.0" y="54.00" width="260.3" height="1.05" fill="url(#g29)"/><rect x="18.0" y="55.00" width="260.3" height="1.05" fill="url(#g30)"/><rect x="18.0" y="56.00" width="260.3" height="1.05" fill="url(#g31)"/><rect x="18.0" y="57.00" width="260.3" height="1.05" fill="url(#g32)"/><rect x="18.0" y="58.00" width="260.3" height="1.05" fill="#0f057d"/><rect x="18.0" y="59.00" width="260.3" height="1.05" fill="#0f057d"/><rect x="18.0" y="60.00" width="260.3" height="1.05" fill="#0f057d"/><rect x="18.0" y="61.00" width="260.3" height="1.05" fill="#0f057d"/><rect x="18.0" y="62.00" width="260.3" height="1.05" fill="#0f057d"/><rect x="18.0" y="63.00" width="260.3" height="1.05" fill="#0f057d"/><rect x="18.0" y="64.00" width="260.3" height="1.05" fill="#0f057d"/><rect x="18.0" y="65.00" width="260.3" height="1.05" fill="#0f057d"/><rect x="18.0" y="66.00" width="260.3" height="1.05" fill="#0f057d"/></g></g>
<g clip-path="url(#cpb0)"><rect x="19.5" y="82.00" width="257.3" height="1.05" fill="url(#g42)"/><rect x="19.5" y="83.00" width="257.3" height="1.05" fill="url(#g43)"/><rect x="19.5" y="84.00" width="257.3" height="1.05" fill="url(#g44)"/><rect x="19.5" y="85.00" width="257.3" height="1.05" fill="url(#g45)"/><rect x="19.5" y="86.00" width="257.3" height="1.05" fill="url(#g46)"/><rect x="19.5" y="87.00" width="257.3" height="1.05" fill="url(#g47)"/><rect x="19.5" y="88.00" width="257.3" height="1.05" fill="url(#g48)"/><rect x="19.5" y="89.00" width="257.3" height="1.05" fill="url(#g49)"/><rect x="19.5" y="90.00" width="257.3" height="1.05" fill="url(#g50)"/><rect x="19.5" y="91.00" width="257.3" height="1.05" fill="url(#g51)"/><rect x="19.5" y="92.00" width="257.3" height="1.05" fill="url(#g52)"/><rect x="19.5" y="93.00" width="257.3" height="1.05" fill="url(#g53)"/><rect x="19.5" y="94.00" width="257.3" height="1.05" fill="url(#g54)"/><rect x="19.5" y="95.00" width="257.3" height="1.05" fill="url(#g55)"/><rect x="19.5" y="96.00" width="257.3" height="1.05" fill="url(#g56)"/><rect x="19.5" y="97.00" width="257.3" height="1.05" fill="url(#g57)"/><rect x="19.5" y="98.00" width="257.3" height="1.05" fill="url(#g58)"/><rect x="19.5" y="99.00" width="257.3" height="1.05" fill="url(#g59)"/><rect x="19.5" y="100.00" width="257.3" height="1.05" fill="url(#g60)"/><rect x="19.5" y="101.00" width="257.3" height="1.05" fill="url(#g61)"/><rect x="19.5" y="102.00" width="257.3" height="1.05" fill="url(#g62)"/><rect x="19.5" y="103.00" width="257.3" height="1.05" fill="url(#g63)"/><rect x="19.5" y="104.00" width="257.3" height="1.05" fill="url(#g64)"/><rect x="19.5" y="105.00" width="257.3" height="1.05" fill="url(#g65)"/><rect x="19.5" y="106.00" width="257.3" height="1.05" fill="url(#g66)"/><rect x="19.5" y="107.00" width="257.3" height="1.05" fill="url(#g67)"/><rect x="19.5" y="108.00" width="257.3" height="1.05" fill="url(#g68)"/><rect x="19.5" y="109.00" width="257.3" height="1.05" fill="url(#g69)"/><rect x="19.5" y="110.00" width="257.3" height="1.05" fill="url(#g70)"/><rect x="19.5" y="111.00" width="257.3" height="1.05" fill="url(#g71)"/><rect x="19.5" y="112.00" width="257.3" height="1.05" fill="url(#g72)"/><rect x="19.5" y="113.00" width="257.3" height="1.05" fill="url(#g73)"/><rect x="19.5" y="114.00" width="257.3" height="1.05" fill="#0f057d"/><rect x="19.5" y="115.00" width="257.3" height="1.05" fill="#0f057d"/><rect x="19.5" y="116.00" width="257.3" height="1.05" fill="#0f057d"/><rect x="19.5" y="117.00" width="257.3" height="1.05" fill="#0f057d"/><rect x="19.5" y="118.00" width="257.3" height="1.05" fill="#0f057d"/>
<rect x="19.50" y="72.00" width="257.30" height="11.10" fill="#000"/></g>
<g clip-path="url(#cpc0)"><rect x="19.5" y="136.00" width="257.3" height="1.05" fill="url(#g79)"/><rect x="19.5" y="137.00" width="257.3" height="1.05" fill="url(#g80)"/><rect x="19.5" y="138.00" width="257.3" height="1.05" fill="url(#g81)"/><rect x="19.5" y="139.00" width="257.3" height="1.05" fill="url(#g82)"/><rect x="19.5" y="140.00" width="257.3" height="1.05" fill="url(#g83)"/><rect x="19.5" y="141.00" width="257.3" height="1.05" fill="url(#g84)"/><rect x="19.5" y="142.00" width="257.3" height="1.05" fill="url(#g85)"/><rect x="19.5" y="143.00" width="257.3" height="1.05" fill="url(#g86)"/><rect x="19.5" y="144.00" width="257.3" height="1.05" fill="url(#g87)"/><rect x="19.5" y="145.00" width="257.3" height="1.05" fill="url(#g88)"/><rect x="19.5" y="146.00" width="257.3" height="1.05" fill="url(#g89)"/><rect x="19.5" y="147.00" width="257.3" height="1.05" fill="url(#g90)"/><rect x="19.5" y="148.00" width="257.3" height="1.05" fill="url(#g91)"/><rect x="19.5" y="149.00" width="257.3" height="1.05" fill="url(#g92)"/><rect x="19.5" y="150.00" width="257.3" height="1.05" fill="url(#g93)"/><rect x="19.5" y="151.00" width="257.3" height="1.05" fill="url(#g94)"/><rect x="19.5" y="152.00" width="257.3" height="1.05" fill="url(#g95)"/><rect x="19.5" y="153.00" width="257.3" height="1.05" fill="url(#g96)"/><rect x="19.5" y="154.00" width="257.3" height="1.05" fill="url(#g97)"/><rect x="19.5" y="155.00" width="257.3" height="1.05" fill="url(#g98)"/><rect x="19.5" y="156.00" width="257.3" height="1.05" fill="url(#g99)"/><rect x="19.5" y="157.00" width="257.3" height="1.05" fill="url(#g100)"/><rect x="19.5" y="158.00" width="257.3" height="1.05" fill="url(#g101)"/><rect x="19.5" y="159.00" width="257.3" height="1.05" fill="url(#g102)"/><rect x="19.5" y="160.00" width="257.3" height="1.05" fill="url(#g103)"/><rect x="19.5" y="161.00" width="257.3" height="1.05" fill="url(#g104)"/><rect x="19.5" y="162.00" width="257.3" height="1.05" fill="url(#g105)"/><rect x="19.5" y="163.00" width="257.3" height="1.05" fill="url(#g106)"/><rect x="19.5" y="164.00" width="257.3" height="1.05" fill="url(#g107)"/><rect x="19.5" y="165.00" width="257.3" height="1.05" fill="url(#g108)"/><rect x="19.5" y="166.00" width="257.3" height="1.05" fill="url(#g109)"/><rect x="19.5" y="167.00" width="257.3" height="1.05" fill="#0f057d"/><rect x="19.5" y="168.00" width="257.3" height="1.05" fill="#0f057d"/><rect x="19.5" y="169.00" width="257.3" height="1.05" fill="#0f057d"/><rect x="19.5" y="170.00" width="257.3" height="1.05" fill="#0f057d"/><rect x="19.5" y="171.00" width="257.3" height="1.05" fill="#0f057d"/><rect x="19.5" y="172.00" width="257.3" height="1.05" fill="#0f057d"/>
<rect x="19.50" y="126.00" width="257.30" height="11.10" fill="#000"/></g>
<path d="M70.96 18.00v2.4M122.42 18.00v2.4M173.88 18.00v2.4M225.34 18.00v2.4M19.50 24.60h2.6M276.80 24.60h-2.6M70.96 72.00v2.4M122.42 72.00v2.4M173.88 72.00v2.4M225.34 72.00v2.4M19.50 78.60h2.6M276.80 78.60h-2.6M70.96 126.00v2.4M122.42 126.00v2.4M173.88 126.00v2.4M225.34 126.00v2.4M19.50 132.60h2.6M276.80 132.60h-2.6" stroke="#555" stroke-width="0.5" fill="none"/>
<rect x="19.50" y="180.20" width="257.30" height="46.20" fill="#fff" stroke="#444" stroke-width="0.6"/>
<path d="M70.96 226.40v-2.4M70.96 180.20v2.4M122.42 226.40v-2.4M122.42 180.20v2.4M173.88 226.40v-2.4M173.88 180.20v2.4M225.34 226.40v-2.4M225.34 180.20v2.4M19.50 213.20h2.4M276.80 213.20h-2.4M19.50 200.00h2.4M276.80 200.00h-2.4M19.50 186.80h2.4M276.80 186.80h-2.4" stroke="#999" stroke-width="0.5" fill="none"/>
<path d="M19.50 224.22H25.93V217.62H32.37V219.80H38.80V224.22H45.23V215.38H51.66V197.82H58.09V193.40H64.53V195.58H70.96V193.40H77.39V188.98H83.83V193.40H90.26V193.40H96.69V193.40H103.12V195.58H109.56V202.18H115.99V191.22H122.42V200.00H128.85V200.00H135.28V191.22H141.72V197.82H148.15V193.40H154.58V195.58H161.02V200.00H167.45V197.82H173.88V204.42H180.31V200.00H186.75V204.42H193.18V202.18H199.61V213.20H206.04V204.42H212.47V202.18H218.91V204.42H225.34V208.78H231.77V208.78H238.21V211.02H244.64V213.20H251.07V206.60H257.50V213.20H263.94V211.02H270.37V213.20H276.80V208.78" fill="none" stroke="#000" stroke-width="1.9" stroke-linejoin="miter" clip-path="url(#cpd0)"/>
<rect x="289.60" y="17.50" width="9.5" height="209.50" fill="url(#cb0)" stroke="#555" stroke-width="0.5"/>
<path d="M299.10 192.08h-1.8M299.10 157.17h-1.8M299.10 122.25h-1.8M299.10 87.33h-1.8M299.10 52.42h-1.8" stroke="#333" stroke-width="0.5" fill="none"/>
<g font-family="Liberation Sans, sans-serif" font-weight="bold" letter-spacing="0.2" opacity="0.999"><text x="148.15" y="10.30" font-size="13.60" fill="#111" text-anchor="middle" letter-spacing="0.5" stroke="#111" stroke-width="0.35">Energy = 0.90 MeV</text><text x="25.00" y="26.10" font-size="9.20" fill="#fff" text-anchor="start" >Observations</text><text x="24.70" y="61.00" font-size="9.20" fill="#fff" text-anchor="start" >a</text><text x="17.50" y="27.70" font-size="7.60" fill="#111" text-anchor="end" >6</text><text x="17.50" y="39.10" font-size="7.60" fill="#111" text-anchor="end" >5</text><text x="17.50" y="50.50" font-size="7.60" fill="#111" text-anchor="end" >4</text><text x="17.50" y="61.90" font-size="7.60" fill="#111" text-anchor="end" >3</text><text transform="translate(9.00 42.20) rotate(-90)" font-size="8" fill="#111" text-anchor="middle">L<tspan dy="-4.2" font-size="7.5">*</tspan></text><text x="25.00" y="80.10" font-size="9.20" fill="#fff" text-anchor="start" >Constant density</text><text x="24.70" y="115.00" font-size="9.20" fill="#fff" text-anchor="start" >b</text><text x="17.50" y="81.70" font-size="7.60" fill="#111" text-anchor="end" >6</text><text x="17.50" y="93.10" font-size="7.60" fill="#111" text-anchor="end" >5</text><text x="17.50" y="104.50" font-size="7.60" fill="#111" text-anchor="end" >4</text><text x="17.50" y="115.90" font-size="7.60" fill="#111" text-anchor="end" >3</text><text transform="translate(9.00 96.40) rotate(-90)" font-size="8" fill="#111" text-anchor="middle">L<tspan dy="-4.2" font-size="7.5">*</tspan></text><text x="25.00" y="134.10" font-size="9.20" fill="#fff" text-anchor="start" >Varibale density</text><text x="24.70" y="169.00" font-size="9.20" fill="#fff" text-anchor="start" >c</text><text x="17.50" y="135.70" font-size="7.60" fill="#111" text-anchor="end" >6</text><text x="17.50" y="147.10" font-size="7.60" fill="#111" text-anchor="end" >5</text><text x="17.50" y="158.50" font-size="7.60" fill="#111" text-anchor="end" >4</text><text x="17.50" y="169.90" font-size="7.60" fill="#111" text-anchor="end" >3</text><text transform="translate(9.00 150.40) rotate(-90)" font-size="8" fill="#111" text-anchor="middle">L<tspan dy="-4.2" font-size="7.5">*</tspan></text><text x="24.80" y="194.00" font-size="9.20" fill="#111" text-anchor="start" >d</text><text x="17.50" y="229.30" font-size="7.60" fill="#111" text-anchor="end" >0</text><text x="17.50" y="216.10" font-size="7.60" fill="#111" text-anchor="end" >2</text><text x="17.50" y="202.90" font-size="7.60" fill="#111" text-anchor="end" >4</text><text x="17.50" y="189.70" font-size="7.60" fill="#111" text-anchor="end" >6</text><text transform="translate(8.50 204.10) rotate(-90)" font-size="8.6" fill="#111" text-anchor="middle">Kp</text><text x="19.50" y="237.30" font-size="7.60" fill="#111" text-anchor="middle" >21</text><text x="70.96" y="237.30" font-size="7.60" fill="#111" text-anchor="middle" >22</text><text x="122.42" y="237.30" font-size="7.60" fill="#111" text-anchor="middle" >23</text><text x="173.88" y="237.30" font-size="7.60" fill="#111" text-anchor="middle" >24</text><text x="225.34" y="237.30" font-size="7.60" fill="#111" text-anchor="middle" >25</text><text x="276.80" y="237.30" font-size="7.60" fill="#111" text-anchor="middle" >26</text><text x="147.35" y="248.90" font-size="8.30" fill="#111" text-anchor="middle" >April, 2017</text><text x="302.20" y="230.00" font-size="7.20" fill="#111" text-anchor="start" >1</text><text x="302.20" y="195.08" font-size="7.20" fill="#111" text-anchor="start" >1.5</text><text x="302.20" y="160.17" font-size="7.20" fill="#111" text-anchor="start" >2</text><text x="302.20" y="125.25" font-size="7.20" fill="#111" text-anchor="start" >2.5</text><text x="302.20" y="90.33" font-size="7.20" fill="#111" text-anchor="start" >3</text><text x="302.20" y="55.42" font-size="7.20" fill="#111" text-anchor="start" >3.5</text><text x="302.20" y="20.50" font-size="7.20" fill="#111" text-anchor="start" >4</text><text transform="translate(324.10 122.30) rotate(-90)" font-size="7.3" fill="#111" text-anchor="middle" letter-spacing="0.02">Log<tspan dy="1.8" font-size="5.2">10</tspan><tspan dy="-1.8"> flux (cm</tspan><tspan dy="-2.6" font-size="5.6">-2</tspan><tspan dy="2.6" dx="1.1" font-size="5.6">&#8203;</tspan>s<tspan dy="-2.6" font-size="5.6">-1</tspan><tspan dy="2.6" dx="1.1" font-size="5.6">&#8203;</tspan>sr<tspan dy="-2.6" font-size="5.6">-1</tspan><tspan dy="2.6" dx="1.1" font-size="5.6">&#8203;</tspan>MeV<tspan dy="-2.6" font-size="5.6">-1</tspan><tspan dy="2.6" dx="1.1" font-size="5.6">&#8203;</tspan>)</text></g>
<rect x="376.20" y="18.00" width="257.30" height="46.00" fill="#000"/>
<g clip-path="url(#cpo1)"><g mask="url(#mk1)"><rect x="374.7" y="26.00" width="260.3" height="1.05" fill="url(#g116)"/><rect x="374.7" y="27.00" width="260.3" height="1.05" fill="url(#g117)"/><rect x="374.7" y="28.00" width="260.3" height="1.05" fill="url(#g118)"/><rect x="374.7" y="29.00" width="260.3" height="1.05" fill="url(#g119)"/><rect x="374.7" y="30.00" width="260.3" height="1.05" fill="url(#g120)"/><rect x="374.7" y="31.00" width="260.3" height="1.05" fill="url(#g121)"/><rect x="374.7" y="32.00" width="260.3" height="1.05" fill="url(#g122)"/><rect x="374.7" y="33.00" width="260.3" height="1.05" fill="url(#g123)"/><rect x="374.7" y="34.00" width="260.3" height="1.05" fill="url(#g124)"/><rect x="374.7" y="35.00" width="260.3" height="1.05" fill="url(#g125)"/><rect x="374.7" y="36.00" width="260.3" height="1.05" fill="url(#g126)"/><rect x="374.7" y="37.00" width="260.3" height="1.05" fill="url(#g127)"/><rect x="374.7" y="38.00" width="260.3" height="1.05" fill="url(#g128)"/><rect x="374.7" y="39.00" width="260.3" height="1.05" fill="url(#g129)"/><rect x="374.7" y="40.00" width="260.3" height="1.05" fill="url(#g130)"/><rect x="374.7" y="41.00" width="260.3" height="1.05" fill="url(#g131)"/><rect x="374.7" y="42.00" width="260.3" height="1.05" fill="url(#g132)"/><rect x="374.7" y="43.00" width="260.3" height="1.05" fill="url(#g133)"/><rect x="374.7" y="44.00" width="260.3" height="1.05" fill="url(#g134)"/><rect x="374.7" y="45.00" width="260.3" height="1.05" fill="url(#g135)"/><rect x="374.7" y="46.00" width="260.3" height="1.05" fill="url(#g136)"/><rect x="374.7" y="47.00" width="260.3" height="1.05" fill="url(#g137)"/><rect x="374.7" y="48.00" width="260.3" height="1.05" fill="url(#g138)"/><rect x="374.7" y="49.00" width="260.3" height="1.05" fill="url(#g139)"/><rect x="374.7" y="50.00" width="260.3" height="1.05" fill="url(#g140)"/><rect x="374.7" y="51.00" width="260.3" height="1.05" fill="url(#g141)"/><rect x="374.7" y="52.00" width="260.3" height="1.05" fill="url(#g142)"/><rect x="374.7" y="53.00" width="260.3" height="1.05" fill="url(#g143)"/><rect x="374.7" y="54.00" width="260.3" height="1.05" fill="url(#g144)"/><rect x="374.7" y="55.00" width="260.3" height="1.05" fill="url(#g145)"/><rect x="374.7" y="56.00" width="260.3" height="1.05" fill="#0f057d"/><rect x="374.7" y="57.00" width="260.3" height="1.05" fill="#0f057d"/><rect x="374.7" y="58.00" width="260.3" height="1.05" fill="#0f057d"/><rect x="374.7" y="59.00" width="260.3" height="1.05" fill="#0f057d"/><rect x="374.7" y="60.00" width="260.3" height="1.05" fill="#0f057d"/><rect x="374.7" y="61.00" width="260.3" height="1.05" fill="#0f057d"/><rect x="374.7" y="62.00" width="260.3" height="1.05" fill="#0f057d"/><rect x="374.7" y="63.00" width="260.3" height="1.05" fill="#0f057d"/><rect x="374.7" y="64.00" width="260.3" height="1.05" fill="#0f057d"/><rect x="374.7" y="65.00" width="260.3" height="1.05" fill="#0f057d"/><rect x="374.7" y="66.00" width="260.3" height="1.05" fill="#0f057d"/></g></g>
<g clip-path="url(#cpb1)"><rect x="376.2" y="82.00" width="257.3" height="1.05" fill="#0f057d"/><rect x="376.2" y="83.00" width="257.3" height="1.05" fill="#0f057d"/><rect x="376.2" y="84.00" width="257.3" height="1.05" fill="#0f057d"/><rect x="376.2" y="85.00" width="257.3" height="1.05" fill="#0f057d"/><rect x="376.2" y="86.00" width="257.3" height="1.05" fill="#0f057d"/><rect x="376.2" y="87.00" width="257.3" height="1.05" fill="#0f057d"/><rect x="376.2" y="88.00" width="257.3" height="1.05" fill="#0f057d"/><rect x="376.2" y="89.00" width="257.3" height="1.05" fill="#0f057d"/><rect x="376.2" y="90.00" width="257.3" height="1.05" fill="#0f057d"/><rect x="376.2" y="91.00" width="257.3" height="1.05" fill="#0f057d"/><rect x="376.2" y="92.00" width="257.3" height="1.05" fill="#0f057d"/><rect x="376.2" y="93.00" width="257.3" height="1.05" fill="#0f057d"/><rect x="376.2" y="94.00" width="257.3" height="1.05" fill="url(#g169)"/><rect x="376.2" y="95.00" width="257.3" height="1.05" fill="url(#g170)"/><rect x="376.2" y="96.00" width="257.3" height="1.05" fill="url(#g171)"/><rect x="376.2" y="97.00" width="257.3" height="1.05" fill="url(#g172)"/><rect x="376.2" y="98.00" width="257.3" height="1.05" fill="url(#g173)"/><rect x="376.2" y="99.00" width="257.3" height="1.05" fill="url(#g174)"/><rect x="376.2" y="100.00" width="257.3" height="1.05" fill="url(#g175)"/><rect x="376.2" y="101.00" width="257.3" height="1.05" fill="url(#g176)"/><rect x="376.2" y="102.00" width="257.3" height="1.05" fill="url(#g177)"/><rect x="376.2" y="103.00" width="257.3" height="1.05" fill="url(#g178)"/><rect x="376.2" y="104.00" width="257.3" height="1.05" fill="url(#g179)"/><rect x="376.2" y="105.00" width="257.3" height="1.05" fill="url(#g180)"/><rect x="376.2" y="106.00" width="257.3" height="1.05" fill="url(#g181)"/><rect x="376.2" y="107.00" width="257.3" height="1.05" fill="url(#g182)"/><rect x="376.2" y="108.00" width="257.3" height="1.05" fill="url(#g183)"/><rect x="376.2" y="109.00" width="257.3" height="1.05" fill="#0f057d"/><rect x="376.2" y="110.00" width="257.3" height="1.05" fill="#0f057d"/><rect x="376.2" y="111.00" width="257.3" height="1.05" fill="#0f057d"/><rect x="376.2" y="112.00" width="257.3" height="1.05" fill="#0f057d"/><rect x="376.2" y="113.00" width="257.3" height="1.05" fill="#0f057d"/><rect x="376.2" y="114.00" width="257.3" height="1.05" fill="#0f057d"/><rect x="376.2" y="115.00" width="257.3" height="1.05" fill="#0f057d"/><rect x="376.2" y="116.00" width="257.3" height="1.05" fill="#0f057d"/><rect x="376.2" y="117.00" width="257.3" height="1.05" fill="#0f057d"/><rect x="376.2" y="118.00" width="257.3" height="1.05" fill="#0f057d"/>
<rect x="376.20" y="72.00" width="257.30" height="11.10" fill="#000"/></g>
<g clip-path="url(#cpc1)"><rect x="376.2" y="136.00" width="257.3" height="1.05" fill="url(#g194)"/><rect x="376.2" y="137.00" width="257.3" height="1.05" fill="url(#g195)"/><rect x="376.2" y="138.00" width="257.3" height="1.05" fill="url(#g196)"/><rect x="376.2" y="139.00" width="257.3" height="1.05" fill="url(#g197)"/><rect x="376.2" y="140.00" width="257.3" height="1.05" fill="url(#g198)"/><rect x="376.2" y="141.00" width="257.3" height="1.05" fill="url(#g199)"/><rect x="376.2" y="142.00" width="257.3" height="1.05" fill="url(#g200)"/><rect x="376.2" y="143.00" width="257.3" height="1.05" fill="url(#g201)"/><rect x="376.2" y="144.00" width="257.3" height="1.05" fill="url(#g202)"/><rect x="376.2" y="145.00" width="257.3" height="1.05" fill="url(#g203)"/><rect x="376.2" y="146.00" width="257.3" height="1.05" fill="url(#g204)"/><rect x="376.2" y="147.00" width="257.3" height="1.05" fill="url(#g205)"/><rect x="376.2" y="148.00" width="257.3" height="1.05" fill="url(#g206)"/><rect x="376.2" y="149.00" width="257.3" height="1.05" fill="url(#g207)"/><rect x="376.2" y="150.00" width="257.3" height="1.05" fill="url(#g208)"/><rect x="376.2" y="151.00" width="257.3" height="1.05" fill="url(#g209)"/><rect x="376.2" y="152.00" width="257.3" height="1.05" fill="url(#g210)"/><rect x="376.2" y="153.00" width="257.3" height="1.05" fill="url(#g211)"/><rect x="376.2" y="154.00" width="257.3" height="1.05" fill="url(#g212)"/><rect x="376.2" y="155.00" width="257.3" height="1.05" fill="url(#g213)"/><rect x="376.2" y="156.00" width="257.3" height="1.05" fill="url(#g214)"/><rect x="376.2" y="157.00" width="257.3" height="1.05" fill="url(#g215)"/><rect x="376.2" y="158.00" width="257.3" height="1.05" fill="url(#g216)"/><rect x="376.2" y="159.00" width="257.3" height="1.05" fill="url(#g217)"/><rect x="376.2" y="160.00" width="257.3" height="1.05" fill="url(#g218)"/><rect x="376.2" y="161.00" width="257.3" height="1.05" fill="url(#g219)"/><rect x="376.2" y="162.00" width="257.3" height="1.05" fill="url(#g220)"/><rect x="376.2" y="163.00" width="257.3" height="1.05" fill="url(#g221)"/><rect x="376.2" y="164.00" width="257.3" height="1.05" fill="#0f057d"/><rect x="376.2" y="165.00" width="257.3" height="1.05" fill="#0f057d"/><rect x="376.2" y="166.00" width="257.3" height="1.05" fill="#0f057d"/><rect x="376.2" y="167.00" width="257.3" height="1.05" fill="#0f057d"/><rect x="376.2" y="168.00" width="257.3" height="1.05" fill="#0f057d"/><rect x="376.2" y="169.00" width="257.3" height="1.05" fill="#0f057d"/><rect x="376.2" y="170.00" width="257.3" height="1.05" fill="#0f057d"/><rect x="376.2" y="171.00" width="257.3" height="1.05" fill="#0f057d"/><rect x="376.2" y="172.00" width="257.3" height="1.05" fill="#0f057d"/>
<rect x="376.20" y="126.00" width="257.30" height="11.10" fill="#000"/></g>
<path d="M427.66 18.00v2.4M479.12 18.00v2.4M530.58 18.00v2.4M582.04 18.00v2.4M376.20 24.60h2.6M633.50 24.60h-2.6M427.66 72.00v2.4M479.12 72.00v2.4M530.58 72.00v2.4M582.04 72.00v2.4M376.20 78.60h2.6M633.50 78.60h-2.6M427.66 126.00v2.4M479.12 126.00v2.4M530.58 126.00v2.4M582.04 126.00v2.4M376.20 132.60h2.6M633.50 132.60h-2.6" stroke="#555" stroke-width="0.5" fill="none"/>
<rect x="376.20" y="180.20" width="257.30" height="46.20" fill="#fff" stroke="#444" stroke-width="0.6"/>
<path d="M427.66 226.40v-2.4M427.66 180.20v2.4M479.12 226.40v-2.4M479.12 180.20v2.4M530.58 226.40v-2.4M530.58 180.20v2.4M582.04 226.40v-2.4M582.04 180.20v2.4M376.20 213.20h2.4M633.50 213.20h-2.4M376.20 200.00h2.4M633.50 200.00h-2.4M376.20 186.80h2.4M633.50 186.80h-2.4" stroke="#999" stroke-width="0.5" fill="none"/>
<path d="M376.20 224.22H382.63V217.62H389.06V219.80H395.50V224.22H401.93V215.38H408.36V197.82H414.79V193.40H421.23V195.58H427.66V193.40H434.09V188.98H440.52V193.40H446.96V193.40H453.39V193.40H459.82V195.58H466.25V202.18H472.69V191.22H479.12V200.00H485.55V200.00H491.99V191.22H498.42V197.82H504.85V193.40H511.28V195.58H517.72V200.00H524.15V197.82H530.58V204.42H537.01V200.00H543.44V204.42H549.88V202.18H556.31V213.20H562.74V204.42H569.17V202.18H575.61V204.42H582.04V208.78H588.47V208.78H594.90V211.02H601.34V213.20H607.77V206.60H614.20V213.20H620.63V211.02H627.07V213.20H633.50V208.78" fill="none" stroke="#000" stroke-width="1.9" stroke-linejoin="miter" clip-path="url(#cpd1)"/>
<rect x="646.30" y="17.50" width="9.5" height="209.50" fill="url(#cb1)" stroke="#555" stroke-width="0.5"/>
<path d="M655.80 206.05h-1.8M655.80 185.10h-1.8M655.80 164.15h-1.8M655.80 143.20h-1.8M655.80 122.25h-1.8M655.80 101.30h-1.8M655.80 80.35h-1.8M655.80 59.40h-1.8M655.80 38.45h-1.8" stroke="#333" stroke-width="0.5" fill="none"/>
<g font-family="Liberation Sans, sans-serif" font-weight="bold" letter-spacing="0.2" opacity="0.999"><text x="504.85" y="10.30" font-size="13.60" fill="#111" text-anchor="middle" letter-spacing="0.5" stroke="#111" stroke-width="0.35">Energy = 4.20 MeV</text><text x="381.70" y="26.10" font-size="9.20" fill="#fff" text-anchor="start" >Observations</text><text x="381.40" y="61.00" font-size="9.20" fill="#fff" text-anchor="start" >e</text><text x="374.20" y="27.70" font-size="7.60" fill="#111" text-anchor="end" >6</text><text x="374.20" y="39.10" font-size="7.60" fill="#111" text-anchor="end" >5</text><text x="374.20" y="50.50" font-size="7.60" fill="#111" text-anchor="end" >4</text><text x="374.20" y="61.90" font-size="7.60" fill="#111" text-anchor="end" >3</text><text transform="translate(365.70 42.20) rotate(-90)" font-size="8" fill="#111" text-anchor="middle">L<tspan dy="-4.2" font-size="7.5">*</tspan></text><text x="381.70" y="80.10" font-size="9.20" fill="#fff" text-anchor="start" >Constant density</text><text x="381.40" y="115.00" font-size="9.20" fill="#fff" text-anchor="start" >f</text><text x="374.20" y="81.70" font-size="7.60" fill="#111" text-anchor="end" >6</text><text x="374.20" y="93.10" font-size="7.60" fill="#111" text-anchor="end" >5</text><text x="374.20" y="104.50" font-size="7.60" fill="#111" text-anchor="end" >4</text><text x="374.20" y="115.90" font-size="7.60" fill="#111" text-anchor="end" >3</text><text transform="translate(365.70 96.40) rotate(-90)" font-size="8" fill="#111" text-anchor="middle">L<tspan dy="-4.2" font-size="7.5">*</tspan></text><text x="381.70" y="134.10" font-size="9.20" fill="#fff" text-anchor="start" >Varibale density</text><text x="381.40" y="169.00" font-size="9.20" fill="#fff" text-anchor="start" >g</text><text x="374.20" y="135.70" font-size="7.60" fill="#111" text-anchor="end" >6</text><text x="374.20" y="147.10" font-size="7.60" fill="#111" text-anchor="end" >5</text><text x="374.20" y="158.50" font-size="7.60" fill="#111" text-anchor="end" >4</text><text x="374.20" y="169.90" font-size="7.60" fill="#111" text-anchor="end" >3</text><text transform="translate(365.70 150.40) rotate(-90)" font-size="8" fill="#111" text-anchor="middle">L<tspan dy="-4.2" font-size="7.5">*</tspan></text><text x="381.50" y="194.00" font-size="9.20" fill="#111" text-anchor="start" >h</text><text x="374.20" y="229.30" font-size="7.60" fill="#111" text-anchor="end" >0</text><text x="374.20" y="216.10" font-size="7.60" fill="#111" text-anchor="end" >2</text><text x="374.20" y="202.90" font-size="7.60" fill="#111" text-anchor="end" >4</text><text x="374.20" y="189.70" font-size="7.60" fill="#111" text-anchor="end" >6</text><text transform="translate(365.20 204.10) rotate(-90)" font-size="8.6" fill="#111" text-anchor="middle">Kp</text><text x="376.20" y="237.30" font-size="7.60" fill="#111" text-anchor="middle" >21</text><text x="427.66" y="237.30" font-size="7.60" fill="#111" text-anchor="middle" >22</text><text x="479.12" y="237.30" font-size="7.60" fill="#111" text-anchor="middle" >23</text><text x="530.58" y="237.30" font-size="7.60" fill="#111" text-anchor="middle" >24</text><text x="582.04" y="237.30" font-size="7.60" fill="#111" text-anchor="middle" >25</text><text x="633.50" y="237.30" font-size="7.60" fill="#111" text-anchor="middle" >26</text><text x="504.05" y="248.90" font-size="8.30" fill="#111" text-anchor="middle" >April, 2017</text><text x="658.60" y="230.00" font-size="7.20" fill="#111" text-anchor="start" >0</text><text x="658.60" y="209.05" font-size="7.20" fill="#111" text-anchor="start" >0.2</text><text x="658.60" y="188.10" font-size="7.20" fill="#111" text-anchor="start" >0.4</text><text x="658.60" y="167.15" font-size="7.20" fill="#111" text-anchor="start" >0.6</text><text x="658.60" y="146.20" font-size="7.20" fill="#111" text-anchor="start" >0.8</text><text x="658.60" y="125.25" font-size="7.20" fill="#111" text-anchor="start" >1</text><text x="658.60" y="104.30" font-size="7.20" fill="#111" text-anchor="start" >1.2</text><text x="658.60" y="83.35" font-size="7.20" fill="#111" text-anchor="start" >1.4</text><text x="658.60" y="62.40" font-size="7.20" fill="#111" text-anchor="start" >1.6</text><text x="658.60" y="41.45" font-size="7.20" fill="#111" text-anchor="start" >1.8</text><text x="658.60" y="20.50" font-size="7.20" fill="#111" text-anchor="start" >2</text><text transform="translate(680.80 122.30) rotate(-90)" font-size="7.3" fill="#111" text-anchor="middle" letter-spacing="0.02">Log<tspan dy="1.8" font-size="5.2">10</tspan><tspan dy="-1.8"> flux (cm</tspan><tspan dy="-2.6" font-size="5.6">-2</tspan><tspan dy="2.6" dx="1.1" font-size="5.6">&#8203;</tspan>s<tspan dy="-2.6" font-size="5.6">-1</tspan><tspan dy="2.6" dx="1.1" font-size="5.6">&#8203;</tspan>sr<tspan dy="-2.6" font-size="5.6">-1</tspan><tspan dy="2.6" dx="1.1" font-size="5.6">&#8203;</tspan>MeV<tspan dy="-2.6" font-size="5.6">-1</tspan><tspan dy="2.6" dx="1.1" font-size="5.6">&#8203;</tspan>)</text></g></svg>
</body></html>
